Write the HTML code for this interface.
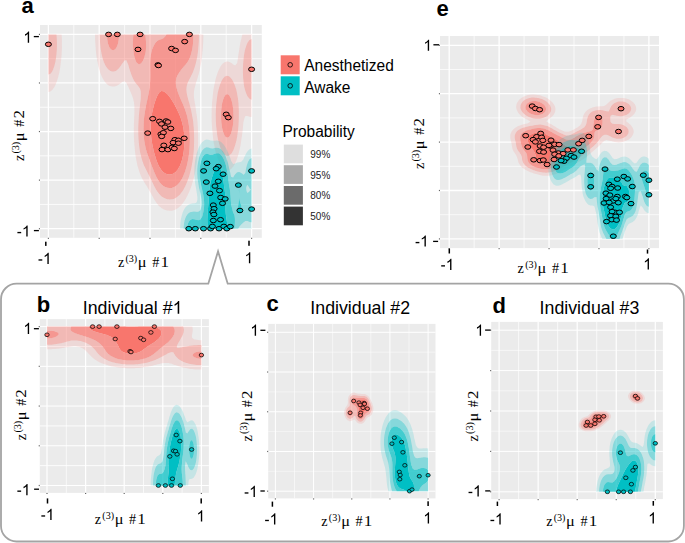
<!DOCTYPE html>
<html><head><meta charset="utf-8"><style>
html,body{margin:0;padding:0;background:#fff;overflow:hidden;}
svg{display:block;}
</style></head><body>
<svg width="685" height="543" viewBox="0 0 685 543">
<rect x="40" y="25" width="221.80" height="212.80" fill="#EBEBEB"/><line x1="48.40" y1="25" x2="48.40" y2="237.8" stroke="#fff" stroke-width="1.3"/><line x1="40" y1="228.70" x2="261.8" y2="228.70" stroke="#fff" stroke-width="1.2"/><line x1="73.80" y1="25" x2="73.80" y2="237.8" stroke="#fff" stroke-width="0.7"/><line x1="40" y1="204.41" x2="261.8" y2="204.41" stroke="#fff" stroke-width="0.8"/><line x1="99.20" y1="25" x2="99.20" y2="237.8" stroke="#fff" stroke-width="1.3"/><line x1="40" y1="180.12" x2="261.8" y2="180.12" stroke="#fff" stroke-width="1.2"/><line x1="124.60" y1="25" x2="124.60" y2="237.8" stroke="#fff" stroke-width="0.7"/><line x1="40" y1="155.84" x2="261.8" y2="155.84" stroke="#fff" stroke-width="0.8"/><line x1="150.00" y1="25" x2="150.00" y2="237.8" stroke="#fff" stroke-width="1.3"/><line x1="40" y1="131.55" x2="261.8" y2="131.55" stroke="#fff" stroke-width="1.2"/><line x1="175.40" y1="25" x2="175.40" y2="237.8" stroke="#fff" stroke-width="0.7"/><line x1="40" y1="107.26" x2="261.8" y2="107.26" stroke="#fff" stroke-width="0.8"/><line x1="200.80" y1="25" x2="200.80" y2="237.8" stroke="#fff" stroke-width="1.3"/><line x1="40" y1="82.97" x2="261.8" y2="82.97" stroke="#fff" stroke-width="1.2"/><line x1="226.20" y1="25" x2="226.20" y2="237.8" stroke="#fff" stroke-width="0.7"/><line x1="40" y1="58.69" x2="261.8" y2="58.69" stroke="#fff" stroke-width="0.8"/><line x1="251.60" y1="25" x2="251.60" y2="237.8" stroke="#fff" stroke-width="1.3"/><line x1="40" y1="34.40" x2="261.8" y2="34.40" stroke="#fff" stroke-width="1.2"/><rect x="47.80" y="237.80" width="1.2" height="1.1" fill="#666"/><rect x="38.90" y="228.10" width="1.1" height="1.2" fill="#666"/><rect x="98.60" y="237.80" width="1.2" height="1.1" fill="#666"/><rect x="38.90" y="179.53" width="1.1" height="1.2" fill="#666"/><rect x="149.40" y="237.80" width="1.2" height="1.1" fill="#666"/><rect x="38.90" y="130.95" width="1.1" height="1.2" fill="#666"/><rect x="200.20" y="237.80" width="1.2" height="1.1" fill="#666"/><rect x="38.90" y="82.38" width="1.1" height="1.2" fill="#666"/><rect x="251.00" y="237.80" width="1.2" height="1.1" fill="#666"/><rect x="38.90" y="33.80" width="1.1" height="1.2" fill="#666"/>
<path d="M163.13,209.07 L163.34,209.21 L165.39,210.11 L167.45,210.61 L169.50,210.80 L171.55,210.72 L173.60,210.32 L175.66,209.51 L176.37,209.07 L177.71,208.31 L179.16,207.11 L179.76,206.62 L181.17,205.15 L181.81,204.44 L182.81,203.19 L183.87,201.71 L184.20,201.22 L185.44,199.26 L185.92,198.41 L186.57,197.30 L187.57,195.34 L187.97,194.43 L188.51,193.37 L189.38,191.41 L190.02,189.62 L190.10,189.45 L190.92,187.48 L191.58,185.52 L192.08,183.74 L192.14,183.56 L192.82,181.60 L193.38,179.63 L193.84,177.67 L194.13,176.19 L194.27,175.71 L194.79,173.75 L195.22,171.78 L195.58,169.82 L195.88,167.86 L196.13,165.90 L196.18,165.43 L196.47,163.93 L196.79,161.97 L197.05,160.01 L197.28,158.05 L197.47,156.08 L197.63,154.12 L197.76,152.16 L197.87,150.19 L197.96,148.23 L198.03,146.27 L198.08,144.31 L198.11,142.34 L198.13,140.38 L198.14,138.42 L198.12,136.46 L198.10,134.49 L198.06,132.53 L198.00,130.57 L197.92,128.61 L197.82,126.64 L197.70,124.68 L197.55,122.72 L197.38,120.76 L197.17,118.79 L196.93,116.83 L196.64,114.87 L196.31,112.91 L196.18,112.20 L196.04,110.94 L195.78,108.98 L195.50,107.02 L195.19,105.05 L194.85,103.09 L194.52,101.13 L194.21,99.17 L194.13,98.52 L194.01,97.20 L193.91,95.24 L193.91,93.28 L194.03,91.32 L194.13,90.47 L194.31,89.35 L194.76,87.39 L195.29,85.43 L195.84,83.47 L196.18,82.28 L196.45,81.50 L197.11,79.54 L197.69,77.58 L198.19,75.62 L198.23,75.43 L198.79,73.65 L199.31,71.69 L199.75,69.73 L200.12,67.76 L200.29,66.78 L200.52,65.80 L200.94,63.84 L201.29,61.88 L201.59,59.91 L201.84,57.95 L202.05,55.99 L202.23,54.03 L202.34,52.60 L202.41,52.06 L202.63,50.10 L202.81,48.14 L202.97,46.18 L203.09,44.21 L203.18,42.25 L203.25,40.29 L203.29,38.33 L203.31,36.36 L203.32,34.40 L202.34,34.40 L200.29,34.40 L198.93,34.40 L198.93,36.36 L198.91,38.33 L198.86,40.29 L198.77,42.25 L198.65,44.21 L198.49,46.18 L198.29,48.14 L198.23,48.62 L198.10,50.10 L197.89,52.06 L197.64,54.03 L197.35,55.99 L197.00,57.95 L196.58,59.91 L196.18,61.56 L196.11,61.88 L195.66,63.84 L195.13,65.80 L194.51,67.76 L194.13,68.83 L193.82,69.73 L193.08,71.69 L192.22,73.65 L192.08,73.97 L191.30,75.62 L190.30,77.58 L190.02,78.12 L189.27,79.54 L188.29,81.50 L187.97,82.22 L187.46,83.47 L186.86,85.43 L186.50,87.39 L186.38,89.35 L186.49,91.32 L186.77,93.28 L187.16,95.24 L187.62,97.20 L187.97,98.62 L188.13,99.17 L188.72,101.13 L189.27,103.09 L189.78,105.05 L190.02,106.09 L190.29,107.02 L190.81,108.98 L191.27,110.94 L191.66,112.91 L191.99,114.87 L192.08,115.41 L192.37,116.83 L192.72,118.79 L193.02,120.76 L193.27,122.72 L193.47,124.68 L193.65,126.64 L193.79,128.61 L193.90,130.57 L193.98,132.53 L194.05,134.49 L194.09,136.46 L194.11,138.42 L194.10,140.38 L194.08,142.34 L194.04,144.31 L193.98,146.27 L193.89,148.23 L193.78,150.19 L193.64,152.16 L193.48,154.12 L193.27,156.08 L193.03,158.05 L192.74,160.01 L192.40,161.97 L192.08,163.59 L192.03,163.93 L191.71,165.90 L191.34,167.86 L190.90,169.82 L190.38,171.78 L190.02,172.96 L189.84,173.75 L189.32,175.71 L188.69,177.67 L187.97,179.57 L187.95,179.63 L187.28,181.60 L186.47,183.56 L185.92,184.72 L185.57,185.52 L184.61,187.48 L183.87,188.81 L183.50,189.45 L182.28,191.41 L181.81,192.09 L180.84,193.37 L179.76,194.67 L179.07,195.34 L177.71,196.62 L176.70,197.30 L175.66,198.02 L173.60,198.90 L171.88,199.26 L171.55,199.34 L169.50,199.44 L168.15,199.26 L167.45,199.18 L165.39,198.62 L163.34,197.61 L162.91,197.30 L161.29,196.15 L160.47,195.34 L159.24,194.07 L158.69,193.37 L157.27,191.41 L157.18,191.29 L156.01,189.45 L155.13,187.82 L154.94,187.48 L153.89,185.52 L153.08,183.74 L152.98,183.56 L151.98,181.60 L151.13,179.63 L151.03,179.38 L150.11,177.67 L149.21,175.71 L148.97,175.16 L148.18,173.75 L147.20,171.78 L146.92,171.18 L146.16,169.82 L145.21,167.86 L144.87,167.09 L144.29,165.90 L143.46,163.93 L142.82,162.12 L142.76,161.97 L142.06,160.01 L141.48,158.05 L141.00,156.08 L140.76,154.99 L140.55,154.12 L140.12,152.16 L139.75,150.19 L139.45,148.23 L139.20,146.27 L138.99,144.31 L138.82,142.34 L138.71,140.82 L138.67,140.38 L138.52,138.42 L138.40,136.46 L138.32,134.49 L138.27,132.53 L138.25,130.57 L138.27,128.61 L138.30,126.64 L138.37,124.68 L138.47,122.72 L138.59,120.76 L138.71,119.23 L138.74,118.79 L138.86,116.83 L139.01,114.87 L139.17,112.91 L139.35,110.94 L139.55,108.98 L139.77,107.02 L140.00,105.05 L140.23,103.09 L140.46,101.13 L140.67,99.17 L140.76,97.98 L140.81,97.20 L140.88,95.24 L140.87,93.28 L140.76,91.79 L140.71,91.32 L140.22,89.35 L139.27,87.39 L138.71,86.64 L137.74,85.43 L136.66,84.32 L136.03,83.47 L134.61,81.53 L134.59,81.50 L133.50,79.54 L132.55,77.58 L132.55,77.58 L131.72,75.62 L131.02,73.65 L130.50,72.01 L130.38,71.69 L129.71,69.73 L129.11,67.76 L128.60,65.80 L128.45,65.18 L127.86,63.84 L127.04,61.88 L126.40,60.25 L124.34,60.44 L123.46,61.88 L122.29,63.42 L122.06,63.84 L120.81,65.80 L120.24,66.60 L119.31,67.76 L118.19,69.05 L117.32,69.73 L116.13,70.63 L114.08,71.40 L112.03,71.43 L109.98,70.70 L108.74,69.73 L107.92,69.07 L106.90,67.76 L105.87,66.30 L105.60,65.80 L104.63,63.84 L103.82,61.88 L103.82,61.88 L103.12,59.91 L102.55,57.95 L102.06,55.99 L101.77,54.61 L101.63,54.03 L101.23,52.06 L100.90,50.10 L100.63,48.14 L100.40,46.18 L100.22,44.21 L100.07,42.25 L99.96,40.29 L99.89,38.33 L99.84,36.36 L99.83,34.40 L99.71,34.40 L97.66,34.40 L95.61,34.40 L95.06,34.40 L95.07,36.36 L95.11,38.33 L95.18,40.29 L95.27,42.25 L95.40,44.21 L95.56,46.18 L95.61,46.66 L95.70,48.14 L95.84,50.10 L96.01,52.06 L96.22,54.03 L96.46,55.99 L96.76,57.95 L97.11,59.91 L97.52,61.88 L97.66,62.46 L97.90,63.84 L98.30,65.80 L98.78,67.76 L99.36,69.73 L99.71,70.79 L99.98,71.69 L100.62,73.65 L101.42,75.62 L101.77,76.40 L102.30,77.58 L103.34,79.54 L103.82,80.35 L104.62,81.50 L105.87,83.10 L106.26,83.47 L107.92,84.96 L108.79,85.43 L109.98,86.10 L112.03,86.62 L114.08,86.61 L116.13,86.07 L117.36,85.43 L118.19,85.02 L120.24,83.51 L120.30,83.47 L122.29,81.97 L123.72,81.50 L124.34,81.30 L124.61,81.50 L126.40,82.97 L126.63,83.47 L127.60,85.43 L128.45,86.98 L128.61,87.39 L129.39,89.35 L130.30,91.32 L130.50,91.74 L131.12,93.28 L131.93,95.24 L132.55,96.74 L132.71,97.20 L133.28,99.17 L133.74,101.13 L134.07,103.09 L134.29,105.05 L134.42,107.02 L134.46,108.98 L134.44,110.94 L134.39,112.91 L134.31,114.87 L134.23,116.83 L134.14,118.79 L134.05,120.76 L133.98,122.72 L133.92,124.68 L133.88,126.64 L133.85,128.61 L133.84,130.57 L133.85,132.53 L133.88,134.49 L133.93,136.46 L134.00,138.42 L134.10,140.38 L134.23,142.34 L134.39,144.31 L134.59,146.27 L134.61,146.41 L134.73,148.23 L134.90,150.19 L135.09,152.16 L135.33,154.12 L135.61,156.08 L135.94,158.05 L136.33,160.01 L136.66,161.40 L136.76,161.97 L137.13,163.93 L137.57,165.90 L138.11,167.86 L138.71,169.67 L138.75,169.82 L139.33,171.78 L140.05,173.75 L140.76,175.39 L140.89,175.71 L141.75,177.67 L142.81,179.63 L142.82,179.64 L143.88,181.60 L144.87,183.13 L145.12,183.56 L146.34,185.52 L146.92,186.36 L147.54,187.48 L148.77,189.45 L148.97,189.76 L149.79,191.41 L150.95,193.37 L151.03,193.49 L151.92,195.34 L153.08,197.30 L153.08,197.30 L154.12,199.26 L155.13,200.84 L155.37,201.22 L156.71,203.19 L157.18,203.82 L158.30,205.15 L159.24,206.19 L160.30,207.11 L161.29,207.97 L163.13,209.07ZM225.25,169.82 L226.97,170.44 L229.02,170.17 L229.59,169.82 L231.07,168.94 L232.07,167.86 L233.13,166.63 L233.60,165.90 L234.75,163.93 L235.18,163.09 L235.72,161.97 L236.55,160.01 L237.21,158.05 L237.23,157.98 L237.92,156.08 L238.50,154.12 L238.98,152.16 L239.28,150.70 L239.43,150.19 L239.92,148.23 L240.34,146.27 L240.69,144.31 L240.98,142.34 L241.23,140.38 L241.34,139.42 L241.52,138.42 L241.84,136.46 L242.12,134.49 L242.36,132.53 L242.58,130.57 L242.79,128.61 L242.97,126.64 L243.15,124.68 L243.34,122.72 L243.39,122.15 L243.72,120.76 L244.28,118.79 L245.04,116.83 L245.44,116.04 L247.49,116.12 L249.49,116.83 L249.55,116.85 L251.60,117.11 L251.60,116.83 L251.60,114.87 L251.60,112.91 L251.60,110.94 L251.60,108.98 L251.60,107.02 L251.60,105.05 L251.60,103.09 L251.60,101.13 L251.60,99.66 L250.34,99.17 L249.55,98.86 L248.18,97.20 L247.49,96.25 L246.98,95.24 L246.13,93.28 L245.45,91.32 L245.44,91.28 L244.86,89.35 L244.39,87.39 L244.03,85.43 L243.74,83.47 L243.51,81.50 L243.39,80.16 L243.32,79.54 L243.15,77.58 L243.03,75.62 L242.95,73.65 L242.92,71.69 L242.92,69.73 L242.95,67.76 L243.03,65.80 L243.14,63.84 L243.29,61.88 L243.39,60.84 L243.47,59.91 L243.67,57.95 L243.91,55.99 L244.21,54.03 L244.57,52.06 L245.00,50.10 L245.44,48.37 L245.51,48.14 L246.12,46.18 L246.86,44.21 L247.49,42.75 L247.82,42.25 L249.23,40.29 L249.55,39.88 L251.60,38.98 L251.60,38.33 L251.60,36.36 L251.60,34.40 L249.55,34.40 L247.49,34.40 L245.44,34.40 L243.39,34.40 L242.42,34.40 L241.87,36.36 L241.41,38.33 L241.34,38.66 L240.90,40.29 L240.45,42.25 L240.07,44.21 L239.75,46.18 L239.47,48.14 L239.28,49.66 L239.20,50.10 L238.85,52.06 L238.53,54.03 L238.24,55.99 L237.95,57.95 L237.67,59.91 L237.37,61.88 L237.23,62.74 L236.65,63.84 L235.18,65.60 L233.13,64.45 L232.38,63.84 L231.07,62.85 L229.23,61.88 L229.02,61.76 L226.97,61.40 L225.30,61.88 L224.92,61.98 L222.86,63.49 L222.58,63.84 L221.04,65.80 L220.81,66.12 L219.85,67.76 L218.90,69.73 L218.76,70.04 L218.03,71.69 L217.30,73.65 L216.72,75.62 L216.71,75.65 L216.06,77.58 L215.52,79.54 L215.08,81.50 L214.71,83.47 L214.65,83.81 L214.27,85.43 L213.87,87.39 L213.53,89.35 L213.25,91.32 L213.02,93.28 L212.82,95.24 L212.65,97.20 L212.60,97.91 L212.45,99.17 L212.24,101.13 L212.07,103.09 L211.93,105.05 L211.82,107.02 L211.74,108.98 L211.68,110.94 L211.64,112.91 L211.63,114.87 L211.63,116.83 L211.66,118.79 L211.71,120.76 L211.78,122.72 L211.88,124.68 L212.00,126.64 L212.15,128.61 L212.34,130.57 L212.57,132.53 L212.60,132.78 L212.73,134.49 L212.91,136.46 L213.13,138.42 L213.38,140.38 L213.68,142.34 L214.04,144.31 L214.47,146.27 L214.65,147.03 L214.86,148.23 L215.25,150.19 L215.72,152.16 L216.29,154.12 L216.71,155.37 L216.90,156.08 L217.51,158.05 L218.26,160.01 L218.76,161.15 L219.11,161.97 L220.07,163.93 L220.81,165.24 L221.26,165.90 L222.74,167.86 L222.86,168.01 L224.92,169.71 L225.25,169.82ZM224.92,155.12 L224.00,154.12 L222.86,152.78 L222.50,152.16 L221.47,150.19 L220.81,148.75 L220.60,148.23 L219.88,146.27 L219.28,144.31 L218.77,142.34 L218.76,142.29 L218.27,140.38 L217.84,138.42 L217.47,136.46 L217.17,134.49 L216.92,132.53 L216.71,130.60 L216.70,130.57 L216.46,128.61 L216.25,126.64 L216.09,124.68 L215.97,122.72 L215.87,120.76 L215.81,118.79 L215.78,116.83 L215.77,114.87 L215.79,112.91 L215.84,110.94 L215.93,108.98 L216.04,107.02 L216.19,105.05 L216.38,103.09 L216.61,101.13 L216.71,100.41 L216.84,99.17 L217.08,97.20 L217.37,95.24 L217.72,93.28 L218.13,91.32 L218.63,89.35 L218.76,88.88 L219.14,87.39 L219.74,85.43 L220.45,83.47 L220.81,82.59 L221.32,81.50 L222.38,79.54 L222.86,78.74 L223.93,77.58 L224.92,76.57 L226.97,75.83 L229.02,76.35 L230.42,77.58 L231.07,78.18 L232.02,79.54 L233.13,81.44 L233.16,81.50 L234.11,83.47 L234.86,85.43 L235.18,86.42 L235.55,87.39 L236.16,89.35 L236.64,91.32 L237.02,93.28 L237.23,94.60 L237.38,95.24 L237.76,97.20 L238.05,99.17 L238.27,101.13 L238.45,103.09 L238.58,105.05 L238.68,107.02 L238.76,108.98 L238.81,110.94 L238.84,112.91 L238.84,114.87 L238.83,116.83 L238.79,118.79 L238.73,120.76 L238.64,122.72 L238.53,124.68 L238.39,126.64 L238.21,128.61 L238.00,130.57 L237.75,132.53 L237.45,134.49 L237.23,135.69 L237.12,136.46 L236.80,138.42 L236.42,140.38 L235.96,142.34 L235.42,144.31 L235.18,145.07 L234.81,146.27 L234.12,148.23 L233.29,150.19 L233.13,150.55 L232.22,152.16 L231.07,153.89 L230.82,154.12 L229.02,155.65 L226.97,156.02 L224.92,155.12ZM48.40,91.32 L48.40,91.99 L50.45,91.40 L50.56,91.32 L52.51,89.68 L52.74,89.35 L54.10,87.39 L54.56,86.64 L55.17,85.43 L56.04,83.47 L56.61,81.94 L56.78,81.50 L57.47,79.54 L58.04,77.58 L58.51,75.62 L58.66,74.88 L58.99,73.65 L59.44,71.69 L59.82,69.73 L60.13,67.76 L60.40,65.80 L60.62,63.84 L60.72,62.90 L60.86,61.88 L61.11,59.91 L61.32,57.95 L61.49,55.99 L61.63,54.03 L61.73,52.06 L61.81,50.10 L61.87,48.14 L61.90,46.18 L61.91,44.21 L61.90,42.25 L61.87,40.29 L61.81,38.33 L61.72,36.36 L61.61,34.40 L60.72,34.40 L58.66,34.40 L56.61,34.40 L56.45,34.40 L56.61,36.36 L56.61,36.36 L56.75,38.33 L56.86,40.29 L56.92,42.25 L56.94,44.21 L56.92,46.18 L56.86,48.14 L56.77,50.10 L56.62,52.06 L56.61,52.22 L56.46,54.03 L56.26,55.99 L56.02,57.95 L55.71,59.91 L55.35,61.88 L54.91,63.84 L54.56,65.21 L54.39,65.80 L53.75,67.76 L53.00,69.73 L52.51,70.85 L51.96,71.69 L50.50,73.65 L50.45,73.72 L48.40,74.62 L48.40,75.62 L48.40,77.58 L48.40,79.54 L48.40,81.50 L48.40,83.47 L48.40,85.43 L48.40,87.39 L48.40,89.35 L48.40,91.32Z" fill="#F8766D" fill-opacity="0.162" fill-rule="evenodd"/><path d="M168.15,199.26 L169.50,199.44 L171.55,199.34 L171.88,199.26 L173.60,198.90 L175.66,198.02 L176.70,197.30 L177.71,196.62 L179.07,195.34 L179.76,194.67 L180.84,193.37 L181.81,192.09 L182.28,191.41 L183.50,189.45 L183.87,188.81 L184.61,187.48 L185.57,185.52 L185.92,184.72 L186.47,183.56 L187.28,181.60 L187.95,179.63 L187.97,179.57 L188.69,177.67 L189.32,175.71 L189.84,173.75 L190.02,172.96 L190.38,171.78 L190.90,169.82 L191.34,167.86 L191.71,165.90 L192.03,163.93 L192.08,163.59 L192.40,161.97 L192.74,160.01 L193.03,158.05 L193.27,156.08 L193.48,154.12 L193.64,152.16 L193.78,150.19 L193.89,148.23 L193.98,146.27 L194.04,144.31 L194.08,142.34 L194.10,140.38 L194.11,138.42 L194.09,136.46 L194.05,134.49 L193.98,132.53 L193.90,130.57 L193.79,128.61 L193.65,126.64 L193.47,124.68 L193.27,122.72 L193.02,120.76 L192.72,118.79 L192.37,116.83 L192.08,115.41 L191.99,114.87 L191.66,112.91 L191.27,110.94 L190.81,108.98 L190.29,107.02 L190.02,106.09 L189.78,105.05 L189.27,103.09 L188.72,101.13 L188.13,99.17 L187.97,98.62 L187.62,97.20 L187.16,95.24 L186.77,93.28 L186.49,91.32 L186.38,89.35 L186.50,87.39 L186.86,85.43 L187.46,83.47 L187.97,82.22 L188.29,81.50 L189.27,79.54 L190.02,78.12 L190.30,77.58 L191.30,75.62 L192.08,73.97 L192.22,73.65 L193.08,71.69 L193.82,69.73 L194.13,68.83 L194.51,67.76 L195.13,65.80 L195.66,63.84 L196.11,61.88 L196.18,61.56 L196.58,59.91 L197.00,57.95 L197.35,55.99 L197.64,54.03 L197.89,52.06 L198.10,50.10 L198.23,48.62 L198.29,48.14 L198.49,46.18 L198.65,44.21 L198.77,42.25 L198.86,40.29 L198.91,38.33 L198.93,36.36 L198.93,34.40 L198.23,34.40 L196.18,34.40 L194.13,34.40 L193.24,34.40 L193.29,36.36 L193.28,38.33 L193.21,40.29 L193.10,42.25 L192.93,44.21 L192.70,46.18 L192.41,48.14 L192.08,49.98 L192.05,50.10 L191.60,52.06 L191.07,54.03 L190.45,55.99 L190.02,57.19 L189.69,57.95 L188.74,59.91 L187.97,61.36 L187.62,61.88 L186.21,63.84 L185.92,64.23 L184.55,65.80 L183.87,66.58 L182.84,67.76 L181.81,68.97 L181.22,69.73 L179.77,71.69 L179.76,71.71 L178.51,73.65 L177.71,75.10 L177.43,75.62 L176.60,77.58 L176.08,79.54 L175.85,81.50 L175.86,83.47 L176.08,85.43 L176.46,87.39 L176.96,89.35 L177.55,91.32 L177.71,91.78 L178.26,93.28 L179.03,95.24 L179.76,97.09 L179.81,97.20 L180.71,99.17 L181.56,101.13 L181.81,101.73 L182.44,103.09 L183.28,105.05 L183.87,106.55 L184.06,107.02 L184.84,108.98 L185.52,110.94 L185.92,112.26 L186.14,112.91 L186.74,114.87 L187.25,116.83 L187.68,118.79 L187.97,120.31 L188.07,120.76 L188.47,122.72 L188.79,124.68 L189.07,126.64 L189.29,128.61 L189.47,130.57 L189.61,132.53 L189.71,134.49 L189.78,136.46 L189.82,138.42 L189.83,140.38 L189.81,142.34 L189.76,144.31 L189.68,146.27 L189.56,148.23 L189.41,150.19 L189.23,152.16 L189.00,154.12 L188.73,156.08 L188.40,158.05 L188.01,160.01 L187.97,160.18 L187.65,161.97 L187.24,163.93 L186.76,165.90 L186.19,167.86 L185.92,168.70 L185.60,169.82 L184.96,171.78 L184.21,173.75 L183.87,174.54 L183.39,175.71 L182.46,177.67 L181.81,178.89 L181.39,179.63 L180.15,181.60 L179.76,182.16 L178.61,183.56 L177.71,184.58 L176.57,185.52 L175.66,186.27 L173.60,187.32 L172.95,187.48 L171.55,187.88 L169.50,187.99 L167.45,187.71 L166.80,187.48 L165.39,187.04 L163.34,185.88 L162.91,185.52 L161.29,184.15 L160.78,183.56 L159.24,181.65 L159.20,181.60 L157.93,179.63 L157.18,178.33 L156.83,177.67 L155.84,175.71 L155.13,174.08 L154.97,173.75 L154.09,171.78 L153.34,169.82 L153.08,169.09 L152.54,167.86 L151.78,165.90 L151.11,163.93 L151.03,163.68 L150.31,161.97 L149.58,160.01 L148.97,158.16 L148.93,158.05 L148.15,156.08 L147.48,154.12 L146.92,152.21 L146.90,152.16 L146.27,150.19 L145.74,148.23 L145.29,146.27 L144.91,144.31 L144.87,144.05 L144.55,142.34 L144.24,140.38 L144.00,138.42 L143.81,136.46 L143.67,134.49 L143.57,132.53 L143.52,130.57 L143.50,128.61 L143.53,126.64 L143.59,124.68 L143.69,122.72 L143.82,120.76 L144.00,118.79 L144.21,116.83 L144.47,114.87 L144.77,112.91 L144.87,112.32 L145.07,110.94 L145.39,108.98 L145.75,107.02 L146.14,105.05 L146.58,103.09 L146.92,101.63 L147.02,101.13 L147.42,99.17 L147.83,97.20 L148.25,95.24 L148.66,93.28 L148.97,91.72 L149.04,91.32 L149.33,89.35 L149.59,87.39 L149.81,85.43 L149.98,83.47 L150.10,81.50 L150.19,79.54 L150.24,77.58 L150.26,75.62 L150.25,73.65 L150.23,71.69 L150.21,69.73 L150.18,67.76 L150.16,65.80 L150.16,63.84 L150.19,61.88 L150.26,59.91 L150.40,57.95 L150.65,55.99 L151.03,54.23 L151.05,54.03 L151.41,52.06 L151.91,50.10 L152.61,48.14 L153.08,47.15 L153.50,46.18 L154.54,44.21 L155.13,43.30 L156.01,42.25 L157.18,41.01 L158.41,40.29 L159.24,39.81 L161.29,39.19 L163.34,38.34 L163.36,38.33 L165.34,36.36 L165.39,36.31 L166.54,34.40 L165.39,34.40 L163.34,34.40 L161.29,34.40 L159.24,34.40 L157.18,34.40 L155.13,34.40 L153.08,34.40 L151.03,34.40 L148.97,34.40 L146.92,34.40 L145.27,34.40 L145.52,36.36 L145.72,38.33 L145.88,40.29 L146.00,42.25 L146.06,44.21 L146.08,46.18 L146.02,48.14 L145.89,50.10 L145.65,52.06 L145.26,54.03 L144.87,55.32 L144.71,55.99 L144.12,57.95 L143.32,59.91 L142.82,60.89 L142.17,61.88 L140.76,63.66 L140.24,63.84 L138.71,64.32 L138.09,63.84 L136.66,62.65 L136.27,61.88 L135.42,59.91 L134.70,57.95 L134.61,57.64 L134.22,55.99 L133.84,54.03 L133.54,52.06 L133.30,50.10 L133.13,48.14 L133.01,46.18 L132.94,44.21 L132.94,42.25 L132.98,40.29 L133.08,38.33 L133.23,36.36 L133.44,34.40 L132.55,34.40 L130.50,34.40 L128.45,34.40 L126.40,34.40 L124.34,34.40 L122.29,34.40 L120.24,34.40 L119.04,34.40 L119.00,36.36 L118.87,38.33 L118.64,40.29 L118.31,42.25 L118.19,42.81 L117.77,44.21 L117.04,46.18 L116.13,48.12 L116.12,48.14 L114.08,50.10 L114.08,50.10 L112.03,50.17 L111.94,50.10 L109.98,48.35 L109.86,48.14 L108.95,46.18 L108.21,44.21 L107.92,43.27 L107.71,42.25 L107.39,40.29 L107.16,38.33 L107.03,36.36 L106.99,34.40 L105.87,34.40 L103.82,34.40 L101.77,34.40 L99.83,34.40 L99.84,36.36 L99.89,38.33 L99.96,40.29 L100.07,42.25 L100.22,44.21 L100.40,46.18 L100.63,48.14 L100.90,50.10 L101.23,52.06 L101.63,54.03 L101.77,54.61 L102.06,55.99 L102.55,57.95 L103.12,59.91 L103.82,61.88 L103.82,61.88 L104.63,63.84 L105.60,65.80 L105.87,66.30 L106.90,67.76 L107.92,69.07 L108.74,69.73 L109.98,70.70 L112.03,71.43 L114.08,71.40 L116.13,70.63 L117.32,69.73 L118.19,69.05 L119.31,67.76 L120.24,66.60 L120.81,65.80 L122.06,63.84 L122.29,63.42 L123.46,61.88 L124.34,60.44 L126.40,60.25 L127.04,61.88 L127.86,63.84 L128.45,65.18 L128.60,65.80 L129.11,67.76 L129.71,69.73 L130.38,71.69 L130.50,72.01 L131.02,73.65 L131.72,75.62 L132.55,77.58 L132.55,77.58 L133.50,79.54 L134.59,81.50 L134.61,81.53 L136.03,83.47 L136.66,84.32 L137.74,85.43 L138.71,86.64 L139.27,87.39 L140.22,89.35 L140.71,91.32 L140.76,91.79 L140.87,93.28 L140.88,95.24 L140.81,97.20 L140.76,97.98 L140.67,99.17 L140.46,101.13 L140.23,103.09 L140.00,105.05 L139.77,107.02 L139.55,108.98 L139.35,110.94 L139.17,112.91 L139.01,114.87 L138.86,116.83 L138.74,118.79 L138.71,119.23 L138.59,120.76 L138.47,122.72 L138.37,124.68 L138.30,126.64 L138.27,128.61 L138.25,130.57 L138.27,132.53 L138.32,134.49 L138.40,136.46 L138.52,138.42 L138.67,140.38 L138.71,140.82 L138.82,142.34 L138.99,144.31 L139.20,146.27 L139.45,148.23 L139.75,150.19 L140.12,152.16 L140.55,154.12 L140.76,154.99 L141.00,156.08 L141.48,158.05 L142.06,160.01 L142.76,161.97 L142.82,162.12 L143.46,163.93 L144.29,165.90 L144.87,167.09 L145.21,167.86 L146.16,169.82 L146.92,171.18 L147.20,171.78 L148.18,173.75 L148.97,175.16 L149.21,175.71 L150.11,177.67 L151.03,179.38 L151.13,179.63 L151.98,181.60 L152.98,183.56 L153.08,183.74 L153.89,185.52 L154.94,187.48 L155.13,187.82 L156.01,189.45 L157.18,191.29 L157.27,191.41 L158.69,193.37 L159.24,194.07 L160.47,195.34 L161.29,196.15 L162.91,197.30 L163.34,197.61 L165.39,198.62 L167.45,199.18 L168.15,199.26ZM224.00,154.12 L224.92,155.12 L226.97,156.02 L229.02,155.65 L230.82,154.12 L231.07,153.89 L232.22,152.16 L233.13,150.55 L233.29,150.19 L234.12,148.23 L234.81,146.27 L235.18,145.07 L235.42,144.31 L235.96,142.34 L236.42,140.38 L236.80,138.42 L237.12,136.46 L237.23,135.69 L237.45,134.49 L237.75,132.53 L238.00,130.57 L238.21,128.61 L238.39,126.64 L238.53,124.68 L238.64,122.72 L238.73,120.76 L238.79,118.79 L238.83,116.83 L238.84,114.87 L238.84,112.91 L238.81,110.94 L238.76,108.98 L238.68,107.02 L238.58,105.05 L238.45,103.09 L238.27,101.13 L238.05,99.17 L237.76,97.20 L237.38,95.24 L237.23,94.60 L237.02,93.28 L236.64,91.32 L236.16,89.35 L235.55,87.39 L235.18,86.42 L234.86,85.43 L234.11,83.47 L233.16,81.50 L233.13,81.44 L232.02,79.54 L231.07,78.18 L230.42,77.58 L229.02,76.35 L226.97,75.83 L224.92,76.57 L223.93,77.58 L222.86,78.74 L222.38,79.54 L221.32,81.50 L220.81,82.59 L220.45,83.47 L219.74,85.43 L219.14,87.39 L218.76,88.88 L218.63,89.35 L218.13,91.32 L217.72,93.28 L217.37,95.24 L217.08,97.20 L216.84,99.17 L216.71,100.41 L216.61,101.13 L216.38,103.09 L216.19,105.05 L216.04,107.02 L215.93,108.98 L215.84,110.94 L215.79,112.91 L215.77,114.87 L215.78,116.83 L215.81,118.79 L215.87,120.76 L215.97,122.72 L216.09,124.68 L216.25,126.64 L216.46,128.61 L216.70,130.57 L216.71,130.60 L216.92,132.53 L217.17,134.49 L217.47,136.46 L217.84,138.42 L218.27,140.38 L218.76,142.29 L218.77,142.34 L219.28,144.31 L219.88,146.27 L220.60,148.23 L220.81,148.75 L221.47,150.19 L222.50,152.16 L222.86,152.78 L224.00,154.12ZM226.97,137.83 L225.25,136.46 L224.92,136.16 L224.11,134.49 L223.30,132.53 L222.86,131.29 L222.68,130.57 L222.24,128.61 L221.88,126.64 L221.60,124.68 L221.37,122.72 L221.21,120.76 L221.10,118.79 L221.04,116.83 L221.04,114.87 L221.09,112.91 L221.19,110.94 L221.34,108.98 L221.56,107.02 L221.84,105.05 L222.20,103.09 L222.63,101.13 L222.86,100.23 L223.25,99.17 L224.08,97.20 L224.92,95.53 L225.29,95.24 L226.97,94.04 L229.02,95.00 L229.17,95.24 L230.30,97.20 L231.07,98.79 L231.20,99.17 L231.76,101.13 L232.22,103.09 L232.60,105.05 L232.90,107.02 L233.13,108.86 L233.14,108.98 L233.31,110.94 L233.42,112.91 L233.48,114.87 L233.48,116.83 L233.44,118.79 L233.35,120.76 L233.20,122.72 L233.13,123.39 L232.98,124.68 L232.70,126.64 L232.33,128.61 L231.89,130.57 L231.35,132.53 L231.07,133.40 L230.53,134.49 L229.40,136.46 L229.02,137.04 L226.97,137.83ZM250.34,99.17 L251.60,99.66 L251.60,99.17 L251.60,97.20 L251.60,95.24 L251.60,93.28 L251.60,91.32 L251.60,89.35 L251.60,87.39 L251.60,85.43 L251.60,83.47 L251.60,81.50 L251.60,79.54 L251.60,77.58 L251.60,75.62 L251.60,73.65 L251.60,71.69 L251.60,69.73 L251.60,67.76 L251.60,65.80 L251.60,63.84 L251.60,61.88 L251.60,59.91 L251.60,57.95 L251.60,55.99 L251.60,54.03 L251.60,52.06 L251.60,50.10 L251.60,48.14 L251.60,46.18 L251.60,44.21 L251.60,42.25 L251.60,40.29 L251.60,38.98 L249.55,39.88 L249.23,40.29 L247.82,42.25 L247.49,42.75 L246.86,44.21 L246.12,46.18 L245.51,48.14 L245.44,48.37 L245.00,50.10 L244.57,52.06 L244.21,54.03 L243.91,55.99 L243.67,57.95 L243.47,59.91 L243.39,60.84 L243.29,61.88 L243.14,63.84 L243.03,65.80 L242.95,67.76 L242.92,69.73 L242.92,71.69 L242.95,73.65 L243.03,75.62 L243.15,77.58 L243.32,79.54 L243.39,80.16 L243.51,81.50 L243.74,83.47 L244.03,85.43 L244.39,87.39 L244.86,89.35 L245.44,91.28 L245.45,91.32 L246.13,93.28 L246.98,95.24 L247.49,96.25 L248.18,97.20 L249.55,98.86 L250.34,99.17ZM48.40,73.65 L48.40,74.62 L50.45,73.72 L50.50,73.65 L51.96,71.69 L52.51,70.85 L53.00,69.73 L53.75,67.76 L54.39,65.80 L54.56,65.21 L54.91,63.84 L55.35,61.88 L55.71,59.91 L56.02,57.95 L56.26,55.99 L56.46,54.03 L56.61,52.22 L56.62,52.06 L56.77,50.10 L56.86,48.14 L56.92,46.18 L56.94,44.21 L56.92,42.25 L56.86,40.29 L56.75,38.33 L56.61,36.36 L56.61,36.36 L56.45,34.40 L54.56,34.40 L52.51,34.40 L50.45,34.40 L48.40,34.40 L48.40,36.36 L48.40,38.33 L48.40,40.29 L48.40,42.25 L48.40,44.21 L48.40,46.18 L48.40,48.14 L48.40,50.10 L48.40,52.06 L48.40,54.03 L48.40,55.99 L48.40,57.95 L48.40,59.91 L48.40,61.88 L48.40,63.84 L48.40,65.80 L48.40,67.76 L48.40,69.73 L48.40,71.69 L48.40,73.65Z" fill="#F8766D" fill-opacity="0.43" fill-rule="evenodd"/><path d="M166.80,187.48 L167.45,187.71 L169.50,187.99 L171.55,187.88 L172.95,187.48 L173.60,187.32 L175.66,186.27 L176.57,185.52 L177.71,184.58 L178.61,183.56 L179.76,182.16 L180.15,181.60 L181.39,179.63 L181.81,178.89 L182.46,177.67 L183.39,175.71 L183.87,174.54 L184.21,173.75 L184.96,171.78 L185.60,169.82 L185.92,168.70 L186.19,167.86 L186.76,165.90 L187.24,163.93 L187.65,161.97 L187.97,160.18 L188.01,160.01 L188.40,158.05 L188.73,156.08 L189.00,154.12 L189.23,152.16 L189.41,150.19 L189.56,148.23 L189.68,146.27 L189.76,144.31 L189.81,142.34 L189.83,140.38 L189.82,138.42 L189.78,136.46 L189.71,134.49 L189.61,132.53 L189.47,130.57 L189.29,128.61 L189.07,126.64 L188.79,124.68 L188.47,122.72 L188.07,120.76 L187.97,120.31 L187.68,118.79 L187.25,116.83 L186.74,114.87 L186.14,112.91 L185.92,112.26 L185.52,110.94 L184.84,108.98 L184.06,107.02 L183.87,106.55 L183.28,105.05 L182.44,103.09 L181.81,101.73 L181.56,101.13 L180.71,99.17 L179.81,97.20 L179.76,97.09 L179.03,95.24 L178.26,93.28 L177.71,91.78 L177.55,91.32 L176.96,89.35 L176.46,87.39 L176.08,85.43 L175.86,83.47 L175.85,81.50 L176.08,79.54 L176.60,77.58 L177.43,75.62 L177.71,75.10 L178.51,73.65 L179.76,71.71 L179.77,71.69 L181.22,69.73 L181.81,68.97 L182.84,67.76 L183.87,66.58 L184.55,65.80 L185.92,64.23 L186.21,63.84 L187.62,61.88 L187.97,61.36 L188.74,59.91 L189.69,57.95 L190.02,57.19 L190.45,55.99 L191.07,54.03 L191.60,52.06 L192.05,50.10 L192.08,49.98 L192.41,48.14 L192.70,46.18 L192.93,44.21 L193.10,42.25 L193.21,40.29 L193.28,38.33 L193.29,36.36 L193.24,34.40 L192.08,34.40 L190.02,34.40 L187.97,34.40 L185.92,34.40 L183.87,34.40 L181.81,34.40 L179.76,34.40 L177.71,34.40 L175.66,34.40 L173.60,34.40 L171.55,34.40 L169.50,34.40 L167.45,34.40 L166.54,34.40 L165.39,36.31 L165.34,36.36 L163.36,38.33 L163.34,38.34 L161.29,39.19 L159.24,39.81 L158.41,40.29 L157.18,41.01 L156.01,42.25 L155.13,43.30 L154.54,44.21 L153.50,46.18 L153.08,47.15 L152.61,48.14 L151.91,50.10 L151.41,52.06 L151.05,54.03 L151.03,54.23 L150.65,55.99 L150.40,57.95 L150.26,59.91 L150.19,61.88 L150.16,63.84 L150.16,65.80 L150.18,67.76 L150.21,69.73 L150.23,71.69 L150.25,73.65 L150.26,75.62 L150.24,77.58 L150.19,79.54 L150.10,81.50 L149.98,83.47 L149.81,85.43 L149.59,87.39 L149.33,89.35 L149.04,91.32 L148.97,91.72 L148.66,93.28 L148.25,95.24 L147.83,97.20 L147.42,99.17 L147.02,101.13 L146.92,101.63 L146.58,103.09 L146.14,105.05 L145.75,107.02 L145.39,108.98 L145.07,110.94 L144.87,112.32 L144.77,112.91 L144.47,114.87 L144.21,116.83 L144.00,118.79 L143.82,120.76 L143.69,122.72 L143.59,124.68 L143.53,126.64 L143.50,128.61 L143.52,130.57 L143.57,132.53 L143.67,134.49 L143.81,136.46 L144.00,138.42 L144.24,140.38 L144.55,142.34 L144.87,144.05 L144.91,144.31 L145.29,146.27 L145.74,148.23 L146.27,150.19 L146.90,152.16 L146.92,152.21 L147.48,154.12 L148.15,156.08 L148.93,158.05 L148.97,158.16 L149.58,160.01 L150.31,161.97 L151.03,163.68 L151.11,163.93 L151.78,165.90 L152.54,167.86 L153.08,169.09 L153.34,169.82 L154.09,171.78 L154.97,173.75 L155.13,174.08 L155.84,175.71 L156.83,177.67 L157.18,178.33 L157.93,179.63 L159.20,181.60 L159.24,181.65 L160.78,183.56 L161.29,184.15 L162.91,185.52 L163.34,185.88 L165.39,187.04 L166.80,187.48ZM167.45,174.33 L165.91,173.75 L165.39,173.56 L163.34,172.17 L162.97,171.78 L161.29,169.96 L161.19,169.82 L159.91,167.86 L159.24,166.73 L158.82,165.90 L157.90,163.93 L157.18,162.17 L157.10,161.97 L156.36,160.01 L155.71,158.05 L155.14,156.08 L155.13,156.06 L154.54,154.12 L154.01,152.16 L153.54,150.19 L153.13,148.23 L153.08,147.96 L152.68,146.27 L152.27,144.31 L151.92,142.34 L151.62,140.38 L151.37,138.42 L151.17,136.46 L151.03,134.70 L151.00,134.49 L150.85,132.53 L150.75,130.57 L150.71,128.61 L150.71,126.64 L150.78,124.68 L150.89,122.72 L151.03,121.20 L151.06,120.76 L151.24,118.79 L151.48,116.83 L151.77,114.87 L152.11,112.91 L152.51,110.94 L152.98,108.98 L153.08,108.58 L153.45,107.02 L153.97,105.05 L154.55,103.09 L155.13,101.29 L155.19,101.13 L155.89,99.17 L156.66,97.20 L157.18,95.92 L157.56,95.24 L158.73,93.28 L159.24,92.46 L160.91,91.32 L161.29,91.07 L163.34,91.26 L163.43,91.32 L165.39,92.40 L166.33,93.28 L167.45,94.24 L168.28,95.24 L169.50,96.67 L169.87,97.20 L171.23,99.17 L171.55,99.64 L172.47,101.13 L173.60,103.08 L173.61,103.09 L174.72,105.05 L175.66,106.84 L175.75,107.02 L176.78,108.98 L177.71,110.94 L177.71,110.94 L178.65,112.91 L179.48,114.87 L179.76,115.59 L180.27,116.83 L180.98,118.79 L181.60,120.76 L181.81,121.52 L182.17,122.72 L182.67,124.68 L183.09,126.64 L183.45,128.61 L183.73,130.57 L183.87,131.70 L183.98,132.53 L184.18,134.49 L184.32,136.46 L184.41,138.42 L184.45,140.38 L184.43,142.34 L184.37,144.31 L184.25,146.27 L184.08,148.23 L183.87,150.09 L183.86,150.19 L183.60,152.16 L183.29,154.12 L182.91,156.08 L182.46,158.05 L181.93,160.01 L181.81,160.39 L181.33,161.97 L180.62,163.93 L179.79,165.90 L179.76,165.97 L178.78,167.86 L177.71,169.63 L177.56,169.82 L175.90,171.78 L175.66,172.05 L173.60,173.56 L173.12,173.75 L171.55,174.36 L169.50,174.59 L167.45,174.33ZM225.25,136.46 L226.97,137.83 L229.02,137.04 L229.40,136.46 L230.53,134.49 L231.07,133.40 L231.35,132.53 L231.89,130.57 L232.33,128.61 L232.70,126.64 L232.98,124.68 L233.13,123.39 L233.20,122.72 L233.35,120.76 L233.44,118.79 L233.48,116.83 L233.48,114.87 L233.42,112.91 L233.31,110.94 L233.14,108.98 L233.13,108.86 L232.90,107.02 L232.60,105.05 L232.22,103.09 L231.76,101.13 L231.20,99.17 L231.07,98.79 L230.30,97.20 L229.17,95.24 L229.02,95.00 L226.97,94.04 L225.29,95.24 L224.92,95.53 L224.08,97.20 L223.25,99.17 L222.86,100.23 L222.63,101.13 L222.20,103.09 L221.84,105.05 L221.56,107.02 L221.34,108.98 L221.19,110.94 L221.09,112.91 L221.04,114.87 L221.04,116.83 L221.10,118.79 L221.21,120.76 L221.37,122.72 L221.60,124.68 L221.88,126.64 L222.24,128.61 L222.68,130.57 L222.86,131.29 L223.30,132.53 L224.11,134.49 L224.92,136.16 L225.25,136.46ZM138.09,63.84 L138.71,64.32 L140.24,63.84 L140.76,63.66 L142.17,61.88 L142.82,60.89 L143.32,59.91 L144.12,57.95 L144.71,55.99 L144.87,55.32 L145.26,54.03 L145.65,52.06 L145.89,50.10 L146.02,48.14 L146.08,46.18 L146.06,44.21 L146.00,42.25 L145.88,40.29 L145.72,38.33 L145.52,36.36 L145.27,34.40 L144.87,34.40 L142.82,34.40 L140.76,34.40 L138.71,34.40 L136.66,34.40 L134.61,34.40 L133.44,34.40 L133.23,36.36 L133.08,38.33 L132.98,40.29 L132.94,42.25 L132.94,44.21 L133.01,46.18 L133.13,48.14 L133.30,50.10 L133.54,52.06 L133.84,54.03 L134.22,55.99 L134.61,57.64 L134.70,57.95 L135.42,59.91 L136.27,61.88 L136.66,62.65 L138.09,63.84ZM111.94,50.10 L112.03,50.17 L114.08,50.10 L114.08,50.10 L116.12,48.14 L116.13,48.12 L117.04,46.18 L117.77,44.21 L118.19,42.81 L118.31,42.25 L118.64,40.29 L118.87,38.33 L119.00,36.36 L119.04,34.40 L118.19,34.40 L116.13,34.40 L114.08,34.40 L112.03,34.40 L109.98,34.40 L107.92,34.40 L106.99,34.40 L107.03,36.36 L107.16,38.33 L107.39,40.29 L107.71,42.25 L107.92,43.27 L108.21,44.21 L108.95,46.18 L109.86,48.14 L109.98,48.35 L111.94,50.10Z" fill="#F8766D" fill-opacity="0.72" fill-rule="evenodd"/><path d="M165.91,173.75 L167.45,174.33 L169.50,174.59 L171.55,174.36 L173.12,173.75 L173.60,173.56 L175.66,172.05 L175.90,171.78 L177.56,169.82 L177.71,169.63 L178.78,167.86 L179.76,165.97 L179.79,165.90 L180.62,163.93 L181.33,161.97 L181.81,160.39 L181.93,160.01 L182.46,158.05 L182.91,156.08 L183.29,154.12 L183.60,152.16 L183.86,150.19 L183.87,150.09 L184.08,148.23 L184.25,146.27 L184.37,144.31 L184.43,142.34 L184.45,140.38 L184.41,138.42 L184.32,136.46 L184.18,134.49 L183.98,132.53 L183.87,131.70 L183.73,130.57 L183.45,128.61 L183.09,126.64 L182.67,124.68 L182.17,122.72 L181.81,121.52 L181.60,120.76 L180.98,118.79 L180.27,116.83 L179.76,115.59 L179.48,114.87 L178.65,112.91 L177.71,110.94 L177.71,110.94 L176.78,108.98 L175.75,107.02 L175.66,106.84 L174.72,105.05 L173.61,103.09 L173.60,103.08 L172.47,101.13 L171.55,99.64 L171.23,99.17 L169.87,97.20 L169.50,96.67 L168.28,95.24 L167.45,94.24 L166.33,93.28 L165.39,92.40 L163.43,91.32 L163.34,91.26 L161.29,91.07 L160.91,91.32 L159.24,92.46 L158.73,93.28 L157.56,95.24 L157.18,95.92 L156.66,97.20 L155.89,99.17 L155.19,101.13 L155.13,101.29 L154.55,103.09 L153.97,105.05 L153.45,107.02 L153.08,108.58 L152.98,108.98 L152.51,110.94 L152.11,112.91 L151.77,114.87 L151.48,116.83 L151.24,118.79 L151.06,120.76 L151.03,121.20 L150.89,122.72 L150.78,124.68 L150.71,126.64 L150.71,128.61 L150.75,130.57 L150.85,132.53 L151.00,134.49 L151.03,134.70 L151.17,136.46 L151.37,138.42 L151.62,140.38 L151.92,142.34 L152.27,144.31 L152.68,146.27 L153.08,147.96 L153.13,148.23 L153.54,150.19 L154.01,152.16 L154.54,154.12 L155.13,156.06 L155.14,156.08 L155.71,158.05 L156.36,160.01 L157.10,161.97 L157.18,162.17 L157.90,163.93 L158.82,165.90 L159.24,166.73 L159.91,167.86 L161.19,169.82 L161.29,169.96 L162.97,171.78 L163.34,172.17 L165.39,173.56 L165.91,173.75Z" fill="#F8766D" fill-opacity="1.0" fill-rule="evenodd"/><path d="M180.15,228.70 L181.81,228.70 L183.64,228.70 L183.70,226.74 L183.87,224.89 L183.88,224.77 L184.13,222.81 L184.51,220.85 L185.07,218.89 L185.84,216.92 L185.92,216.76 L186.99,214.96 L187.97,213.66 L188.86,213.00 L190.02,212.18 L192.08,211.63 L194.13,211.62 L196.18,211.85 L198.23,211.81 L199.42,211.04 L200.29,210.30 L200.75,209.07 L201.26,207.11 L201.56,205.15 L201.65,203.19 L201.57,201.22 L201.36,199.26 L201.08,197.30 L200.74,195.34 L200.38,193.37 L200.29,192.90 L199.88,191.41 L199.40,189.45 L198.98,187.48 L198.63,185.52 L198.33,183.56 L198.23,182.83 L198.00,181.60 L197.71,179.63 L197.49,177.67 L197.34,175.71 L197.26,173.75 L197.23,171.78 L197.26,169.82 L197.36,167.86 L197.53,165.90 L197.79,163.93 L198.15,161.97 L198.23,161.59 L198.51,160.01 L198.95,158.05 L199.54,156.08 L200.29,154.19 L200.31,154.12 L201.21,152.16 L202.34,150.29 L202.43,150.19 L204.34,148.23 L204.39,148.19 L206.44,147.37 L208.50,147.60 L210.42,148.23 L210.55,148.27 L212.60,148.46 L213.82,148.23 L214.65,148.06 L216.71,147.66 L218.76,147.92 L219.29,148.23 L220.81,149.08 L221.88,150.19 L222.86,151.32 L223.44,152.16 L224.58,154.12 L224.92,154.79 L225.57,156.08 L226.38,158.05 L226.97,159.90 L227.01,160.01 L227.71,161.97 L228.25,163.93 L228.68,165.90 L229.02,167.86 L229.02,167.86 L229.57,169.82 L230.05,171.78 L230.49,173.75 L230.89,175.71 L231.07,176.65 L233.13,177.47 L234.11,175.71 L235.18,174.31 L235.67,173.75 L237.23,172.26 L239.28,171.91 L241.34,172.98 L242.46,173.75 L243.39,174.83 L244.73,173.75 L245.44,172.49 L245.53,171.78 L245.84,169.82 L246.21,167.86 L246.67,165.90 L247.24,163.93 L247.49,163.22 L248.00,161.97 L249.02,160.01 L249.55,159.19 L251.60,158.07 L251.60,158.05 L251.60,156.08 L251.60,154.12 L251.60,152.16 L251.60,150.19 L251.60,148.53 L249.55,149.16 L248.46,150.19 L247.49,151.22 L246.87,152.16 L245.79,154.12 L245.44,154.89 L244.81,156.08 L243.93,158.05 L243.39,159.38 L242.88,160.01 L241.34,161.67 L240.18,161.97 L239.28,162.14 L237.23,162.57 L235.18,163.51 L233.13,163.93 L233.13,163.93 L233.13,163.93 L231.84,161.97 L231.07,160.79 L230.87,160.01 L230.28,158.05 L229.53,156.08 L229.02,154.98 L228.76,154.12 L228.02,152.16 L227.01,150.19 L226.97,150.13 L226.08,148.23 L224.92,146.43 L224.81,146.27 L223.38,144.31 L222.86,143.69 L221.35,142.34 L220.81,141.87 L218.76,140.88 L216.71,140.62 L214.65,140.74 L212.60,140.78 L210.55,140.41 L210.45,140.38 L208.50,139.76 L206.44,139.61 L204.39,140.32 L204.32,140.38 L202.34,141.93 L202.00,142.34 L200.56,144.31 L200.29,144.74 L199.39,146.27 L198.52,148.23 L198.23,149.03 L197.72,150.19 L197.03,152.16 L196.52,154.12 L196.18,155.86 L196.11,156.08 L195.59,158.05 L195.21,160.01 L194.92,161.97 L194.71,163.93 L194.57,165.90 L194.47,167.86 L194.42,169.82 L194.40,171.78 L194.42,173.75 L194.48,175.71 L194.58,177.67 L194.72,179.63 L194.91,181.60 L195.15,183.56 L195.47,185.52 L195.86,187.48 L196.18,188.83 L196.26,189.45 L196.54,191.41 L196.83,193.37 L197.12,195.34 L197.35,197.30 L197.39,199.26 L197.02,201.22 L196.18,202.68 L194.92,203.19 L194.13,203.37 L192.08,203.58 L190.02,203.99 L187.97,205.01 L187.81,205.15 L185.92,206.83 L185.70,207.11 L184.35,209.07 L183.87,209.97 L183.32,211.04 L182.53,213.00 L181.96,214.96 L181.81,215.62 L181.42,216.92 L180.96,218.89 L180.64,220.85 L180.41,222.81 L180.26,224.77 L180.18,226.74 L180.15,228.70ZM238.19,228.70 L239.28,228.70 L241.34,228.70 L243.39,228.70 L245.44,228.70 L247.49,228.70 L249.55,228.70 L251.60,228.70 L251.60,226.74 L251.60,224.77 L251.60,222.81 L251.60,222.31 L249.55,222.05 L247.49,221.05 L245.44,220.96 L243.39,222.52 L243.11,222.81 L241.34,224.54 L241.09,224.77 L239.28,226.66 L239.24,226.74 L238.19,228.70ZM246.69,191.41 L247.49,193.05 L249.43,191.41 L249.55,191.08 L250.91,189.45 L249.55,188.46 L249.15,187.48 L247.85,185.52 L247.49,184.96 L246.84,185.52 L246.21,187.48 L246.25,189.45 L246.69,191.41Z" fill="#00BFC4" fill-opacity="0.162" fill-rule="evenodd"/><path d="M183.64,228.70 L183.87,228.70 L185.92,228.70 L187.23,228.70 L187.33,226.74 L187.64,224.77 L187.97,223.57 L188.28,222.81 L189.47,220.85 L190.02,220.16 L192.08,219.12 L194.13,219.14 L196.18,219.74 L198.23,220.24 L200.29,219.53 L200.68,218.89 L201.92,216.92 L202.34,216.23 L202.66,214.96 L203.12,213.00 L203.50,211.04 L203.80,209.07 L204.01,207.11 L204.13,205.15 L204.14,203.19 L204.06,201.22 L203.89,199.26 L203.64,197.30 L203.33,195.34 L202.97,193.37 L202.57,191.41 L202.34,190.34 L202.11,189.45 L201.62,187.48 L201.19,185.52 L200.80,183.56 L200.46,181.60 L200.29,180.39 L200.16,179.63 L199.91,177.67 L199.74,175.71 L199.64,173.75 L199.62,171.78 L199.67,169.82 L199.81,167.86 L200.05,165.90 L200.29,164.53 L200.39,163.93 L200.83,161.97 L201.41,160.01 L202.17,158.05 L202.34,157.66 L203.37,156.08 L204.39,154.77 L205.82,154.12 L206.44,153.84 L208.05,154.12 L208.50,154.20 L210.55,154.88 L212.60,154.75 L214.01,154.12 L214.65,153.85 L216.71,153.15 L218.76,153.35 L219.91,154.12 L220.81,154.74 L221.88,156.08 L222.86,157.52 L223.16,158.05 L224.11,160.01 L224.86,161.97 L224.92,162.13 L225.55,163.93 L226.10,165.90 L226.53,167.86 L226.88,169.82 L226.97,170.44 L227.24,171.78 L227.58,173.75 L227.87,175.71 L228.13,177.67 L228.38,179.63 L228.61,181.60 L228.85,183.56 L229.02,185.09 L229.11,185.52 L229.51,187.48 L229.84,189.45 L230.12,191.41 L230.33,193.37 L230.51,195.34 L230.64,197.30 L230.76,199.26 L230.88,201.22 L231.01,203.19 L231.07,203.98 L231.30,205.15 L231.74,207.11 L232.24,209.07 L232.75,211.04 L233.13,212.52 L233.48,213.00 L234.37,214.96 L234.75,216.92 L234.91,218.89 L234.94,220.85 L234.89,222.81 L234.77,224.77 L234.60,226.74 L234.37,228.70 L235.18,228.70 L237.23,228.70 L238.19,228.70 L239.24,226.74 L239.28,226.66 L241.09,224.77 L241.34,224.54 L243.11,222.81 L243.39,222.52 L245.44,220.96 L247.49,221.05 L249.55,222.05 L251.60,222.31 L251.60,220.85 L251.60,218.89 L251.60,216.92 L251.60,214.96 L251.60,213.00 L251.60,211.04 L251.60,209.07 L251.60,207.11 L251.60,205.15 L251.60,203.19 L251.60,201.22 L251.60,199.26 L251.60,197.30 L251.60,195.34 L251.60,193.37 L251.60,191.41 L251.60,189.45 L251.60,187.48 L251.60,185.52 L251.60,183.56 L251.60,181.60 L251.60,179.63 L251.60,177.67 L251.60,175.71 L251.60,173.75 L251.60,171.78 L251.60,169.82 L251.60,167.86 L251.60,165.90 L251.60,163.93 L251.60,161.97 L251.60,160.01 L251.60,158.07 L249.55,159.19 L249.02,160.01 L248.00,161.97 L247.49,163.22 L247.24,163.93 L246.67,165.90 L246.21,167.86 L245.84,169.82 L245.53,171.78 L245.44,172.49 L244.73,173.75 L243.39,174.83 L242.46,173.75 L241.34,172.98 L239.28,171.91 L237.23,172.26 L235.67,173.75 L235.18,174.31 L234.11,175.71 L233.13,177.47 L231.07,176.65 L230.89,175.71 L230.49,173.75 L230.05,171.78 L229.57,169.82 L229.02,167.86 L229.02,167.86 L228.68,165.90 L228.25,163.93 L227.71,161.97 L227.01,160.01 L226.97,159.90 L226.38,158.05 L225.57,156.08 L224.92,154.79 L224.58,154.12 L223.44,152.16 L222.86,151.32 L221.88,150.19 L220.81,149.08 L219.29,148.23 L218.76,147.92 L216.71,147.66 L214.65,148.06 L213.82,148.23 L212.60,148.46 L210.55,148.27 L210.42,148.23 L208.50,147.60 L206.44,147.37 L204.39,148.19 L204.34,148.23 L202.43,150.19 L202.34,150.29 L201.21,152.16 L200.31,154.12 L200.29,154.19 L199.54,156.08 L198.95,158.05 L198.51,160.01 L198.23,161.59 L198.15,161.97 L197.79,163.93 L197.53,165.90 L197.36,167.86 L197.26,169.82 L197.23,171.78 L197.26,173.75 L197.34,175.71 L197.49,177.67 L197.71,179.63 L198.00,181.60 L198.23,182.83 L198.33,183.56 L198.63,185.52 L198.98,187.48 L199.40,189.45 L199.88,191.41 L200.29,192.90 L200.38,193.37 L200.74,195.34 L201.08,197.30 L201.36,199.26 L201.57,201.22 L201.65,203.19 L201.56,205.15 L201.26,207.11 L200.75,209.07 L200.29,210.30 L199.42,211.04 L198.23,211.81 L196.18,211.85 L194.13,211.62 L192.08,211.63 L190.02,212.18 L188.86,213.00 L187.97,213.66 L186.99,214.96 L185.92,216.76 L185.84,216.92 L185.07,218.89 L184.51,220.85 L184.13,222.81 L183.88,224.77 L183.87,224.89 L183.70,226.74 L183.64,228.70ZM239.28,213.03 L239.25,213.00 L238.16,211.04 L237.93,209.07 L238.00,207.11 L238.20,205.15 L238.48,203.19 L238.78,201.22 L239.05,199.26 L239.24,197.30 L239.28,195.34 L239.32,197.30 L239.50,199.26 L239.89,201.22 L240.49,203.19 L241.17,205.15 L241.34,205.90 L241.44,207.11 L241.40,209.07 L241.34,209.47 L240.69,211.04 L239.31,213.00 L239.28,213.03ZM247.49,193.05 L246.69,191.41 L246.25,189.45 L246.21,187.48 L246.84,185.52 L247.49,184.96 L247.85,185.52 L249.15,187.48 L249.55,188.46 L250.91,189.45 L249.55,191.08 L249.43,191.41 L247.49,193.05ZM239.28,195.34 L239.17,193.37 L238.98,191.41 L238.97,189.45 L239.28,188.46 L239.35,189.45 L239.37,191.41 L239.32,193.37 L239.28,195.34Z" fill="#00BFC4" fill-opacity="0.43" fill-rule="evenodd"/><path d="M187.23,228.70 L187.97,228.70 L190.02,228.70 L192.08,228.70 L194.13,228.70 L196.18,228.70 L198.23,228.70 L200.29,228.70 L202.34,228.70 L204.39,228.70 L206.44,228.70 L208.27,228.70 L207.79,226.74 L207.51,224.77 L207.38,222.81 L207.34,220.85 L207.37,218.89 L207.45,216.92 L207.55,214.96 L207.68,213.00 L207.83,211.04 L207.98,209.07 L208.14,207.11 L208.30,205.15 L208.46,203.19 L208.50,202.64 L208.61,201.22 L208.75,199.26 L208.89,197.30 L209.03,195.34 L209.17,193.37 L209.31,191.41 L209.48,189.45 L209.68,187.48 L209.95,185.52 L210.35,183.56 L210.55,182.81 L210.81,181.60 L211.30,179.63 L211.89,177.67 L212.60,175.77 L212.62,175.71 L213.19,173.75 L213.87,171.78 L214.65,169.96 L214.73,169.82 L216.00,167.86 L216.71,166.98 L218.76,166.77 L219.65,167.86 L220.81,169.50 L220.93,169.82 L221.57,171.78 L222.09,173.75 L222.53,175.71 L222.86,177.39 L222.91,177.67 L223.21,179.63 L223.49,181.60 L223.76,183.56 L224.04,185.52 L224.31,187.48 L224.59,189.45 L224.85,191.41 L224.92,191.93 L225.08,193.37 L225.27,195.34 L225.40,197.30 L225.49,199.26 L225.53,201.22 L225.53,203.19 L225.52,205.15 L225.50,207.11 L225.52,209.07 L225.57,211.04 L225.70,213.00 L225.90,214.96 L226.16,216.92 L226.47,218.89 L226.78,220.85 L226.97,222.35 L227.02,222.81 L227.10,224.77 L226.97,226.74 L226.97,226.74 L226.40,228.70 L226.97,228.70 L229.02,228.70 L231.07,228.70 L233.13,228.70 L234.37,228.70 L234.60,226.74 L234.77,224.77 L234.89,222.81 L234.94,220.85 L234.91,218.89 L234.75,216.92 L234.37,214.96 L233.48,213.00 L233.13,212.52 L232.75,211.04 L232.24,209.07 L231.74,207.11 L231.30,205.15 L231.07,203.98 L231.01,203.19 L230.88,201.22 L230.76,199.26 L230.64,197.30 L230.51,195.34 L230.33,193.37 L230.12,191.41 L229.84,189.45 L229.51,187.48 L229.11,185.52 L229.02,185.09 L228.85,183.56 L228.61,181.60 L228.38,179.63 L228.13,177.67 L227.87,175.71 L227.58,173.75 L227.24,171.78 L226.97,170.44 L226.88,169.82 L226.53,167.86 L226.10,165.90 L225.55,163.93 L224.92,162.13 L224.86,161.97 L224.11,160.01 L223.16,158.05 L222.86,157.52 L221.88,156.08 L220.81,154.74 L219.91,154.12 L218.76,153.35 L216.71,153.15 L214.65,153.85 L214.01,154.12 L212.60,154.75 L210.55,154.88 L208.50,154.20 L208.05,154.12 L206.44,153.84 L205.82,154.12 L204.39,154.77 L203.37,156.08 L202.34,157.66 L202.17,158.05 L201.41,160.01 L200.83,161.97 L200.39,163.93 L200.29,164.53 L200.05,165.90 L199.81,167.86 L199.67,169.82 L199.62,171.78 L199.64,173.75 L199.74,175.71 L199.91,177.67 L200.16,179.63 L200.29,180.39 L200.46,181.60 L200.80,183.56 L201.19,185.52 L201.62,187.48 L202.11,189.45 L202.34,190.34 L202.57,191.41 L202.97,193.37 L203.33,195.34 L203.64,197.30 L203.89,199.26 L204.06,201.22 L204.14,203.19 L204.13,205.15 L204.01,207.11 L203.80,209.07 L203.50,211.04 L203.12,213.00 L202.66,214.96 L202.34,216.23 L201.92,216.92 L200.68,218.89 L200.29,219.53 L198.23,220.24 L196.18,219.74 L194.13,219.14 L192.08,219.12 L190.02,220.16 L189.47,220.85 L188.28,222.81 L187.97,223.57 L187.64,224.77 L187.33,226.74 L187.23,228.70ZM239.25,213.00 L239.28,213.03 L239.31,213.00 L240.69,211.04 L241.34,209.47 L241.40,209.07 L241.44,207.11 L241.34,205.90 L241.17,205.15 L240.49,203.19 L239.89,201.22 L239.50,199.26 L239.32,197.30 L239.28,195.34 L239.24,197.30 L239.05,199.26 L238.78,201.22 L238.48,203.19 L238.20,205.15 L238.00,207.11 L237.93,209.07 L238.16,211.04 L239.25,213.00ZM239.17,193.37 L239.28,195.34 L239.32,193.37 L239.37,191.41 L239.35,189.45 L239.28,188.46 L238.97,189.45 L238.98,191.41 L239.17,193.37Z" fill="#00BFC4" fill-opacity="0.72" fill-rule="evenodd"/><path d="M208.27,228.70 L208.50,228.70 L210.55,228.70 L212.60,228.70 L214.65,228.70 L216.71,228.70 L218.76,228.70 L220.81,228.70 L222.86,228.70 L224.92,228.70 L226.40,228.70 L226.97,226.74 L226.97,226.74 L227.10,224.77 L227.02,222.81 L226.97,222.35 L226.78,220.85 L226.47,218.89 L226.16,216.92 L225.90,214.96 L225.70,213.00 L225.57,211.04 L225.52,209.07 L225.50,207.11 L225.52,205.15 L225.53,203.19 L225.53,201.22 L225.49,199.26 L225.40,197.30 L225.27,195.34 L225.08,193.37 L224.92,191.93 L224.85,191.41 L224.59,189.45 L224.31,187.48 L224.04,185.52 L223.76,183.56 L223.49,181.60 L223.21,179.63 L222.91,177.67 L222.86,177.39 L222.53,175.71 L222.09,173.75 L221.57,171.78 L220.93,169.82 L220.81,169.50 L219.65,167.86 L218.76,166.77 L216.71,166.98 L216.00,167.86 L214.73,169.82 L214.65,169.96 L213.87,171.78 L213.19,173.75 L212.62,175.71 L212.60,175.77 L211.89,177.67 L211.30,179.63 L210.81,181.60 L210.55,182.81 L210.35,183.56 L209.95,185.52 L209.68,187.48 L209.48,189.45 L209.31,191.41 L209.17,193.37 L209.03,195.34 L208.89,197.30 L208.75,199.26 L208.61,201.22 L208.50,202.64 L208.46,203.19 L208.30,205.15 L208.14,207.11 L207.98,209.07 L207.83,211.04 L207.68,213.00 L207.55,214.96 L207.45,216.92 L207.37,218.89 L207.34,220.85 L207.38,222.81 L207.51,224.77 L207.79,226.74 L208.27,228.70Z" fill="#00BFC4" fill-opacity="1.0" fill-rule="evenodd"/>
<ellipse cx="48.4" cy="44.3" rx="3.0" ry="2.25" fill="#F8766D" stroke="#000" stroke-width="1.0"/><ellipse cx="108.6" cy="34.4" rx="3.0" ry="2.25" fill="#F8766D" stroke="#000" stroke-width="1.0"/><ellipse cx="117.3" cy="34.4" rx="3.0" ry="2.25" fill="#F8766D" stroke="#000" stroke-width="1.0"/><ellipse cx="140.1" cy="34.4" rx="3.0" ry="2.25" fill="#F8766D" stroke="#000" stroke-width="1.0"/><ellipse cx="138.0" cy="49.4" rx="3.0" ry="2.25" fill="#F8766D" stroke="#000" stroke-width="1.0"/><ellipse cx="189.4" cy="34.4" rx="3.0" ry="2.25" fill="#F8766D" stroke="#000" stroke-width="1.0"/><ellipse cx="184.7" cy="41.6" rx="3.0" ry="2.25" fill="#F8766D" stroke="#000" stroke-width="1.0"/><ellipse cx="171.6" cy="48.5" rx="3.0" ry="2.25" fill="#F8766D" stroke="#000" stroke-width="1.0"/><ellipse cx="175.5" cy="50.4" rx="3.0" ry="2.25" fill="#F8766D" stroke="#000" stroke-width="1.0"/><ellipse cx="157.9" cy="64.9" rx="3.0" ry="2.25" fill="#F8766D" stroke="#000" stroke-width="1.0"/><ellipse cx="158.5" cy="65.5" rx="3.0" ry="2.25" fill="#F8766D" stroke="#000" stroke-width="1.0"/><ellipse cx="251.6" cy="69.3" rx="3.0" ry="2.25" fill="#F8766D" stroke="#000" stroke-width="1.0"/><ellipse cx="152.7" cy="118.7" rx="3.0" ry="2.25" fill="#F8766D" stroke="#000" stroke-width="1.0"/><ellipse cx="159.5" cy="121.4" rx="3.0" ry="2.25" fill="#F8766D" stroke="#000" stroke-width="1.0"/><ellipse cx="161.5" cy="123.9" rx="3.0" ry="2.25" fill="#F8766D" stroke="#000" stroke-width="1.0"/><ellipse cx="166.1" cy="121.0" rx="3.0" ry="2.25" fill="#F8766D" stroke="#000" stroke-width="1.0"/><ellipse cx="167.9" cy="122.0" rx="3.0" ry="2.25" fill="#F8766D" stroke="#000" stroke-width="1.0"/><ellipse cx="165.0" cy="127.2" rx="3.0" ry="2.25" fill="#F8766D" stroke="#000" stroke-width="1.0"/><ellipse cx="170.8" cy="128.4" rx="3.0" ry="2.25" fill="#F8766D" stroke="#000" stroke-width="1.0"/><ellipse cx="147.7" cy="133.1" rx="3.0" ry="2.25" fill="#F8766D" stroke="#000" stroke-width="1.0"/><ellipse cx="160.9" cy="134.2" rx="3.0" ry="2.25" fill="#F8766D" stroke="#000" stroke-width="1.0"/><ellipse cx="163.4" cy="132.7" rx="3.0" ry="2.25" fill="#F8766D" stroke="#000" stroke-width="1.0"/><ellipse cx="161.7" cy="136.4" rx="3.0" ry="2.25" fill="#F8766D" stroke="#000" stroke-width="1.0"/><ellipse cx="184.2" cy="138.3" rx="3.0" ry="2.25" fill="#F8766D" stroke="#000" stroke-width="1.0"/><ellipse cx="174.9" cy="139.7" rx="3.0" ry="2.25" fill="#F8766D" stroke="#000" stroke-width="1.0"/><ellipse cx="178.4" cy="140.3" rx="3.0" ry="2.25" fill="#F8766D" stroke="#000" stroke-width="1.0"/><ellipse cx="173.1" cy="142.6" rx="3.0" ry="2.25" fill="#F8766D" stroke="#000" stroke-width="1.0"/><ellipse cx="178.4" cy="143.2" rx="3.0" ry="2.25" fill="#F8766D" stroke="#000" stroke-width="1.0"/><ellipse cx="163.8" cy="145.3" rx="3.0" ry="2.25" fill="#F8766D" stroke="#000" stroke-width="1.0"/><ellipse cx="162.0" cy="149.6" rx="3.0" ry="2.25" fill="#F8766D" stroke="#000" stroke-width="1.0"/><ellipse cx="167.9" cy="149.6" rx="3.0" ry="2.25" fill="#F8766D" stroke="#000" stroke-width="1.0"/><ellipse cx="172.0" cy="147.3" rx="3.0" ry="2.25" fill="#F8766D" stroke="#000" stroke-width="1.0"/><ellipse cx="174.3" cy="148.5" rx="3.0" ry="2.25" fill="#F8766D" stroke="#000" stroke-width="1.0"/><ellipse cx="226.2" cy="114.3" rx="3.0" ry="2.25" fill="#F8766D" stroke="#000" stroke-width="1.0"/><ellipse cx="228.3" cy="117.6" rx="3.0" ry="2.25" fill="#F8766D" stroke="#000" stroke-width="1.0"/><ellipse cx="206.9" cy="163.3" rx="3.0" ry="2.25" fill="#00BFC4" stroke="#000" stroke-width="1.0"/><ellipse cx="203.6" cy="170.9" rx="3.0" ry="2.25" fill="#00BFC4" stroke="#000" stroke-width="1.0"/><ellipse cx="218.3" cy="166.6" rx="3.0" ry="2.25" fill="#00BFC4" stroke="#000" stroke-width="1.0"/><ellipse cx="216.2" cy="168.7" rx="3.0" ry="2.25" fill="#00BFC4" stroke="#000" stroke-width="1.0"/><ellipse cx="223.1" cy="174.2" rx="3.0" ry="2.25" fill="#00BFC4" stroke="#000" stroke-width="1.0"/><ellipse cx="206.3" cy="182.1" rx="3.0" ry="2.25" fill="#00BFC4" stroke="#000" stroke-width="1.0"/><ellipse cx="218.3" cy="181.3" rx="3.0" ry="2.25" fill="#00BFC4" stroke="#000" stroke-width="1.0"/><ellipse cx="215.0" cy="186.1" rx="3.0" ry="2.25" fill="#00BFC4" stroke="#000" stroke-width="1.0"/><ellipse cx="219.5" cy="190.6" rx="3.0" ry="2.25" fill="#00BFC4" stroke="#000" stroke-width="1.0"/><ellipse cx="209.9" cy="193.3" rx="3.0" ry="2.25" fill="#00BFC4" stroke="#000" stroke-width="1.0"/><ellipse cx="220.7" cy="197.5" rx="3.0" ry="2.25" fill="#00BFC4" stroke="#000" stroke-width="1.0"/><ellipse cx="225.2" cy="198.9" rx="3.0" ry="2.25" fill="#00BFC4" stroke="#000" stroke-width="1.0"/><ellipse cx="251.6" cy="170.9" rx="3.0" ry="2.25" fill="#00BFC4" stroke="#000" stroke-width="1.0"/><ellipse cx="238.4" cy="185.1" rx="3.0" ry="2.25" fill="#00BFC4" stroke="#000" stroke-width="1.0"/><ellipse cx="222.5" cy="203.3" rx="3.0" ry="2.25" fill="#00BFC4" stroke="#000" stroke-width="1.0"/><ellipse cx="213.3" cy="205.1" rx="3.0" ry="2.25" fill="#00BFC4" stroke="#000" stroke-width="1.0"/><ellipse cx="214.1" cy="208.7" rx="3.0" ry="2.25" fill="#00BFC4" stroke="#000" stroke-width="1.0"/><ellipse cx="212.9" cy="212.1" rx="3.0" ry="2.25" fill="#00BFC4" stroke="#000" stroke-width="1.0"/><ellipse cx="213.9" cy="214.5" rx="3.0" ry="2.25" fill="#00BFC4" stroke="#000" stroke-width="1.0"/><ellipse cx="239.9" cy="210.5" rx="3.0" ry="2.25" fill="#00BFC4" stroke="#000" stroke-width="1.0"/><ellipse cx="251.6" cy="209.1" rx="3.0" ry="2.25" fill="#00BFC4" stroke="#000" stroke-width="1.0"/><ellipse cx="213.3" cy="220.5" rx="3.0" ry="2.25" fill="#00BFC4" stroke="#000" stroke-width="1.0"/><ellipse cx="220.5" cy="219.7" rx="3.0" ry="2.25" fill="#00BFC4" stroke="#000" stroke-width="1.0"/><ellipse cx="188.8" cy="228.7" rx="3.0" ry="2.25" fill="#00BFC4" stroke="#000" stroke-width="1.0"/><ellipse cx="195.3" cy="228.7" rx="3.0" ry="2.25" fill="#00BFC4" stroke="#000" stroke-width="1.0"/><ellipse cx="203.5" cy="228.7" rx="3.0" ry="2.25" fill="#00BFC4" stroke="#000" stroke-width="1.0"/><ellipse cx="210.6" cy="228.7" rx="3.0" ry="2.25" fill="#00BFC4" stroke="#000" stroke-width="1.0"/><ellipse cx="212.4" cy="226.4" rx="3.0" ry="2.25" fill="#00BFC4" stroke="#000" stroke-width="1.0"/><ellipse cx="219.0" cy="228.7" rx="3.0" ry="2.25" fill="#00BFC4" stroke="#000" stroke-width="1.0"/><ellipse cx="223.8" cy="226.4" rx="3.0" ry="2.25" fill="#00BFC4" stroke="#000" stroke-width="1.0"/><ellipse cx="226.8" cy="228.7" rx="3.0" ry="2.25" fill="#00BFC4" stroke="#000" stroke-width="1.0"/><ellipse cx="230.3" cy="226.6" rx="3.0" ry="2.25" fill="#00BFC4" stroke="#000" stroke-width="1.0"/>
<text x="27.6" y="12.9" font-family="Liberation Sans" font-size="22" font-weight="bold" text-anchor="middle" fill="#000" >a</text><path transform="translate(23.34,42.70) scale(0.007568,-0.007568)" d="M763,0 L583,0 L583,1147 Q518,1085 412,1023 Q306,961 222,930 L222,1104 Q373,1175 486,1276 Q599,1377 646,1472 L763,1472 Z" fill="#000"/><rect x="33.8" y="35.95" width="5.10" height="1.3" fill="#000"/><path transform="translate(16.71,236.60) scale(0.007568,-0.007568)" d="M91,442 L91,622 L591,622 L591,442 Z" fill="#000"/><path transform="translate(21.87,236.60) scale(0.007568,-0.007568)" d="M763,0 L583,0 L583,1147 Q518,1085 412,1023 Q306,961 222,930 L222,1104 Q373,1175 486,1276 Q599,1377 646,1472 L763,1472 Z" fill="#000"/><rect x="33.9" y="229.95" width="5.00" height="1.3" fill="#000"/><path transform="translate(37.81,264.00) scale(0.007568,-0.007568)" d="M91,442 L91,622 L591,622 L591,442 Z" fill="#000"/><path transform="translate(42.97,264.00) scale(0.007568,-0.007568)" d="M763,0 L583,0 L583,1147 Q518,1085 412,1023 Q306,961 222,930 L222,1104 Q373,1175 486,1276 Q599,1377 646,1472 L763,1472 Z" fill="#000"/><rect x="45.05" y="241.7" width="1.5" height="4.20" fill="#000"/><path transform="translate(244.49,263.30) scale(0.007568,-0.007568)" d="M763,0 L583,0 L583,1147 Q518,1085 412,1023 Q306,961 222,930 L222,1104 Q373,1175 486,1276 Q599,1377 646,1472 L763,1472 Z" fill="#000"/><rect x="248.25" y="240.7" width="1.5" height="5.10" fill="#000"/><g transform="translate(117.80,267.00)"><text transform="translate(3.25,0) scale(1.0,1)" font-family="Liberation Serif" font-size="14.2" text-anchor="middle" fill="#000">z</text><text transform="translate(13.55,-4.9) scale(1.05,1)" font-family="Liberation Serif" font-size="9.6" text-anchor="middle" fill="#000">(3)</text><text transform="translate(24.4,0) scale(1.15,1)" font-family="Liberation Serif" font-size="14.2" text-anchor="middle" fill="#000">μ</text><text transform="translate(38.0,0) scale(1.0,1)" font-family="Liberation Serif" font-size="14.2" text-anchor="middle" fill="#000">#</text><text transform="translate(46.9,0) scale(1.2,1)" font-family="Liberation Serif" font-size="14.2" text-anchor="middle" fill="#000">1</text></g><g transform="translate(24.30,136.00) rotate(-90) translate(-25.2,0)"><text transform="translate(3.25,0) scale(1.0,1)" font-family="Liberation Serif" font-size="14.2" text-anchor="middle" fill="#000">z</text><text transform="translate(13.55,-4.9) scale(1.05,1)" font-family="Liberation Serif" font-size="9.6" text-anchor="middle" fill="#000">(3)</text><text transform="translate(24.4,0) scale(1.15,1)" font-family="Liberation Serif" font-size="14.2" text-anchor="middle" fill="#000">μ</text><text transform="translate(38.0,0) scale(1.0,1)" font-family="Liberation Serif" font-size="14.2" text-anchor="middle" fill="#000">#</text><text transform="translate(46.9,0) scale(1.2,1)" font-family="Liberation Serif" font-size="14.2" text-anchor="middle" fill="#000">2</text></g>
<rect x="440" y="36" width="219.00" height="212.10" fill="#EBEBEB"/><line x1="449.20" y1="36" x2="449.20" y2="248.1" stroke="#fff" stroke-width="1.3"/><line x1="440" y1="238.90" x2="659" y2="238.90" stroke="#fff" stroke-width="1.3"/><line x1="474.16" y1="36" x2="474.16" y2="248.1" stroke="#fff" stroke-width="0.7"/><line x1="440" y1="214.70" x2="659" y2="214.70" stroke="#fff" stroke-width="0.7"/><line x1="499.12" y1="36" x2="499.12" y2="248.1" stroke="#fff" stroke-width="1.3"/><line x1="440" y1="190.50" x2="659" y2="190.50" stroke="#fff" stroke-width="1.3"/><line x1="524.09" y1="36" x2="524.09" y2="248.1" stroke="#fff" stroke-width="0.7"/><line x1="440" y1="166.30" x2="659" y2="166.30" stroke="#fff" stroke-width="0.7"/><line x1="549.05" y1="36" x2="549.05" y2="248.1" stroke="#fff" stroke-width="1.3"/><line x1="440" y1="142.10" x2="659" y2="142.10" stroke="#fff" stroke-width="1.3"/><line x1="574.01" y1="36" x2="574.01" y2="248.1" stroke="#fff" stroke-width="0.7"/><line x1="440" y1="117.90" x2="659" y2="117.90" stroke="#fff" stroke-width="0.7"/><line x1="598.97" y1="36" x2="598.97" y2="248.1" stroke="#fff" stroke-width="1.3"/><line x1="440" y1="93.70" x2="659" y2="93.70" stroke="#fff" stroke-width="1.3"/><line x1="623.94" y1="36" x2="623.94" y2="248.1" stroke="#fff" stroke-width="0.7"/><line x1="440" y1="69.50" x2="659" y2="69.50" stroke="#fff" stroke-width="0.7"/><line x1="648.90" y1="36" x2="648.90" y2="248.1" stroke="#fff" stroke-width="1.3"/><line x1="440" y1="45.30" x2="659" y2="45.30" stroke="#fff" stroke-width="1.3"/><rect x="448.60" y="248.10" width="1.2" height="1.1" fill="#666"/><rect x="438.90" y="238.30" width="1.1" height="1.2" fill="#666"/><rect x="498.52" y="248.10" width="1.2" height="1.1" fill="#666"/><rect x="438.90" y="189.90" width="1.1" height="1.2" fill="#666"/><rect x="548.45" y="248.10" width="1.2" height="1.1" fill="#666"/><rect x="438.90" y="141.50" width="1.1" height="1.2" fill="#666"/><rect x="598.37" y="248.10" width="1.2" height="1.1" fill="#666"/><rect x="438.90" y="93.10" width="1.1" height="1.2" fill="#666"/><rect x="648.30" y="248.10" width="1.2" height="1.1" fill="#666"/><rect x="438.90" y="44.70" width="1.1" height="1.2" fill="#666"/>
<path d="M537.67,174.37 L537.96,174.47 L539.97,175.09 L541.99,175.48 L544.01,175.71 L546.02,175.80 L548.04,175.76 L550.06,175.58 L552.08,175.21 L554.09,174.56 L554.55,174.37 L556.11,173.94 L558.13,173.08 L559.28,172.41 L560.14,172.04 L562.16,170.95 L562.92,170.46 L564.18,169.86 L566.20,168.61 L566.36,168.50 L568.21,167.63 L569.88,166.54 L570.23,166.38 L572.25,165.33 L573.39,164.59 L574.26,164.17 L576.28,163.06 L576.97,162.63 L578.30,162.05 L580.32,160.88 L580.64,160.68 L582.33,159.84 L583.94,158.72 L584.35,158.47 L586.37,156.94 L586.58,156.77 L588.38,155.27 L588.90,154.81 L590.40,153.48 L591.08,152.86 L592.42,151.71 L593.32,150.90 L594.44,149.98 L595.63,148.94 L596.45,148.26 L597.89,146.99 L598.47,146.47 L600.01,145.03 L600.49,144.53 L601.94,143.08 L602.51,142.43 L603.97,141.12 L604.52,140.68 L606.54,140.10 L608.56,140.38 L610.57,140.92 L611.36,141.12 L612.59,141.56 L614.61,142.07 L616.63,142.34 L618.64,142.41 L620.66,142.30 L622.68,141.99 L624.69,141.36 L625.23,141.12 L626.71,140.62 L628.73,139.45 L629.11,139.17 L630.75,137.82 L631.36,137.21 L632.65,135.26 L632.76,134.94 L633.48,133.30 L633.71,131.34 L633.39,129.39 L632.76,128.07 L632.52,127.43 L631.08,125.48 L630.75,125.12 L628.91,123.52 L628.73,123.34 L626.71,121.74 L626.38,121.57 L626.29,119.61 L626.71,119.45 L628.73,118.37 L629.70,117.66 L630.75,117.09 L632.51,115.70 L632.76,115.47 L634.39,113.74 L634.78,113.04 L635.56,111.79 L636.11,109.83 L636.15,107.88 L635.69,105.92 L634.78,104.36 L634.58,103.97 L632.81,102.01 L632.76,101.97 L630.75,100.43 L630.00,100.06 L628.73,99.35 L626.71,98.63 L624.69,98.23 L623.36,98.10 L622.68,97.98 L620.66,97.90 L618.64,98.07 L618.52,98.10 L616.63,98.34 L614.61,98.82 L612.59,99.70 L611.98,100.06 L610.57,100.81 L609.03,102.01 L608.56,102.44 L606.93,103.97 L606.54,104.38 L604.52,105.81 L604.20,105.92 L602.51,106.24 L600.49,106.34 L598.47,106.40 L596.45,106.56 L594.44,106.89 L592.42,107.49 L591.56,107.88 L590.40,108.28 L588.38,109.39 L587.79,109.83 L586.37,110.99 L585.56,111.79 L584.35,113.58 L584.24,113.74 L583.26,115.70 L582.77,117.66 L582.48,119.61 L582.33,120.56 L582.09,121.57 L581.33,123.52 L580.32,125.13 L580.02,125.48 L578.30,126.76 L577.38,127.43 L576.28,127.98 L574.26,129.21 L573.98,129.39 L572.25,130.20 L570.23,131.34 L570.23,131.34 L568.21,131.83 L566.20,131.86 L564.18,131.45 L563.85,131.34 L562.16,130.50 L560.14,129.60 L559.67,129.39 L558.13,128.41 L556.21,127.43 L556.11,127.36 L554.09,126.01 L553.02,125.48 L552.08,124.85 L550.06,123.82 L549.23,123.52 L548.04,122.60 L546.30,121.57 L547.98,119.61 L548.04,119.58 L550.06,118.32 L550.83,117.66 L552.08,116.57 L552.92,115.70 L554.09,113.91 L554.21,113.74 L555.14,111.79 L555.46,109.83 L555.34,107.88 L554.75,105.92 L554.09,104.81 L553.69,103.97 L552.08,102.06 L552.04,102.01 L550.06,100.21 L549.86,100.06 L548.04,98.71 L546.82,98.10 L546.02,97.61 L544.01,96.67 L542.18,96.14 L541.99,96.06 L539.97,95.33 L537.96,94.90 L535.94,94.66 L533.92,94.57 L531.90,94.59 L529.89,94.76 L527.87,95.12 L525.85,95.78 L525.06,96.14 L523.84,96.57 L521.82,97.70 L521.26,98.10 L519.80,99.24 L518.95,100.06 L517.78,101.70 L517.55,102.01 L516.58,103.97 L516.21,105.92 L516.24,107.88 L516.67,109.83 L517.69,111.79 L517.78,111.91 L518.97,113.74 L519.80,114.61 L520.93,115.70 L521.82,116.45 L523.70,117.66 L523.84,117.76 L525.85,119.06 L527.27,119.61 L527.87,120.11 L529.89,121.31 L530.54,121.57 L529.89,121.97 L527.87,123.18 L527.24,123.52 L525.85,123.76 L523.84,124.17 L521.82,124.72 L519.93,125.48 L519.80,125.51 L517.78,126.22 L515.80,127.43 L515.77,127.45 L513.75,128.94 L513.26,129.39 L511.77,131.34 L511.73,131.42 L510.71,133.30 L510.28,135.26 L510.25,137.21 L510.51,139.17 L510.95,141.12 L511.43,143.08 L511.73,144.58 L511.79,145.03 L512.04,146.99 L512.50,148.94 L513.38,150.90 L513.75,151.48 L514.51,152.86 L515.77,154.57 L515.92,154.81 L516.88,156.77 L517.57,158.72 L517.78,159.47 L518.00,160.68 L518.56,162.63 L519.67,164.59 L519.80,164.75 L521.16,166.54 L521.82,167.17 L523.49,168.50 L523.84,168.76 L525.85,170.04 L526.78,170.46 L527.87,171.07 L529.89,171.93 L531.49,172.41 L531.90,172.60 L533.92,173.43 L535.94,174.01 L537.67,174.37ZM544.01,172.61 L542.73,172.41 L541.99,172.34 L539.97,172.03 L537.96,171.58 L535.94,170.95 L534.72,170.46 L533.92,170.23 L531.90,169.52 L529.91,168.50 L529.89,168.49 L527.87,167.46 L526.59,166.54 L525.85,165.94 L524.46,164.59 L523.84,163.64 L523.14,162.63 L522.41,160.68 L522.08,158.72 L521.82,156.86 L521.80,156.77 L521.00,154.81 L519.80,152.90 L519.77,152.86 L518.28,150.90 L517.78,149.97 L517.18,148.94 L516.50,146.99 L516.13,145.03 L515.85,143.08 L515.77,142.60 L515.41,141.12 L514.96,139.17 L514.71,137.21 L514.84,135.26 L515.57,133.30 L515.77,133.01 L516.94,131.34 L517.78,130.58 L519.52,129.39 L519.80,129.22 L521.82,128.22 L523.84,127.59 L524.51,127.43 L525.85,127.00 L527.87,126.48 L529.89,126.06 L531.90,125.70 L533.36,125.48 L533.92,125.33 L535.94,124.91 L537.96,124.67 L539.97,124.62 L541.99,124.77 L544.01,125.17 L544.94,125.48 L546.02,125.70 L548.04,126.36 L550.06,127.43 L550.06,127.43 L552.08,128.42 L553.55,129.39 L554.09,129.68 L556.11,130.82 L556.96,131.34 L558.13,131.89 L560.14,132.94 L560.81,133.30 L562.16,133.86 L564.18,134.73 L565.66,135.26 L566.20,135.40 L568.21,135.50 L569.45,135.26 L570.23,135.03 L572.25,134.02 L573.64,133.30 L574.26,132.92 L576.28,131.79 L577.23,131.34 L578.30,130.73 L580.32,129.74 L581.10,129.39 L582.33,128.60 L584.10,127.43 L584.35,127.16 L585.58,125.48 L586.37,123.65 L586.41,123.52 L586.81,121.57 L587.10,119.61 L587.49,117.66 L588.26,115.70 L588.38,115.50 L589.54,113.74 L590.40,112.93 L592.01,111.79 L592.42,111.54 L594.44,110.67 L596.45,110.22 L598.47,110.05 L600.49,110.10 L602.51,110.35 L604.52,110.77 L606.54,111.28 L608.56,111.43 L609.55,109.83 L610.36,107.88 L610.57,107.54 L611.38,105.92 L612.59,104.58 L613.24,103.97 L614.61,103.02 L616.63,102.14 L617.14,102.01 L618.64,101.59 L620.66,101.38 L622.68,101.48 L624.69,101.93 L624.90,102.01 L626.71,102.67 L628.71,103.97 L628.73,103.99 L630.42,105.92 L630.75,106.83 L631.14,107.88 L631.08,109.83 L630.75,110.59 L630.23,111.79 L628.73,113.41 L628.32,113.74 L626.71,114.76 L624.69,115.52 L623.78,115.70 L622.68,115.98 L620.66,116.15 L618.64,116.03 L616.85,115.70 L616.63,115.66 L614.61,115.25 L612.59,114.82 L610.66,115.70 L610.57,115.87 L610.30,117.66 L610.22,119.61 L610.44,121.57 L610.57,121.89 L612.14,123.52 L612.59,123.71 L614.61,123.91 L616.63,123.91 L618.64,123.97 L620.66,124.21 L622.68,124.75 L624.22,125.48 L624.69,125.71 L626.71,127.21 L626.95,127.43 L628.27,129.39 L628.67,131.34 L628.38,133.30 L627.23,135.26 L626.71,135.77 L624.77,137.21 L624.69,137.26 L622.68,138.17 L620.66,138.64 L618.64,138.80 L616.63,138.69 L614.61,138.31 L612.59,137.57 L611.85,137.21 L610.57,136.54 L608.56,135.39 L608.18,135.26 L606.54,134.67 L604.52,134.83 L603.60,135.26 L602.51,135.87 L601.16,137.21 L600.49,137.99 L599.76,139.17 L598.47,140.91 L598.33,141.12 L596.72,143.08 L596.45,143.34 L594.77,145.03 L594.44,145.34 L592.56,146.99 L592.42,147.11 L590.40,148.83 L590.26,148.94 L588.38,150.59 L588.02,150.90 L586.37,152.40 L585.85,152.86 L584.35,154.20 L583.61,154.81 L582.33,155.84 L580.99,156.77 L580.32,157.24 L578.30,158.45 L577.80,158.72 L576.28,159.66 L574.26,160.67 L574.24,160.68 L572.25,161.92 L570.87,162.63 L570.23,163.04 L568.21,164.19 L567.40,164.59 L566.20,165.33 L564.18,166.33 L563.70,166.54 L562.16,167.46 L560.14,168.41 L559.93,168.50 L558.13,169.54 L556.11,170.40 L555.96,170.46 L554.09,171.33 L552.08,171.95 L550.06,172.33 L549.32,172.41 L548.04,172.62 L546.02,172.72 L544.01,172.61ZM531.90,117.93 L531.18,117.66 L529.89,117.31 L527.87,116.48 L526.57,115.70 L525.85,115.29 L523.90,113.74 L523.84,113.68 L522.10,111.79 L521.82,111.28 L520.94,109.83 L520.42,107.88 L520.43,105.92 L521.01,103.97 L521.82,102.75 L522.31,102.01 L523.84,100.59 L524.60,100.06 L525.85,99.28 L527.87,98.46 L529.45,98.10 L529.89,97.97 L531.90,97.61 L533.92,97.52 L535.94,97.65 L537.96,98.02 L538.22,98.10 L539.97,98.45 L541.99,99.09 L543.88,100.06 L544.01,100.11 L546.02,101.24 L547.04,102.01 L548.04,102.90 L549.10,103.97 L550.06,105.49 L550.35,105.92 L551.09,107.88 L551.20,109.83 L550.71,111.79 L550.06,112.85 L549.54,113.74 L548.04,115.23 L547.45,115.70 L546.02,116.67 L544.01,117.52 L543.53,117.66 L541.99,118.23 L539.97,118.64 L537.96,118.79 L535.94,118.73 L533.92,118.46 L531.90,117.93Z" fill="#F8766D" fill-opacity="0.162" fill-rule="evenodd"/><path d="M542.73,172.41 L544.01,172.61 L546.02,172.72 L548.04,172.62 L549.32,172.41 L550.06,172.33 L552.08,171.95 L554.09,171.33 L555.96,170.46 L556.11,170.40 L558.13,169.54 L559.93,168.50 L560.14,168.41 L562.16,167.46 L563.70,166.54 L564.18,166.33 L566.20,165.33 L567.40,164.59 L568.21,164.19 L570.23,163.04 L570.87,162.63 L572.25,161.92 L574.24,160.68 L574.26,160.67 L576.28,159.66 L577.80,158.72 L578.30,158.45 L580.32,157.24 L580.99,156.77 L582.33,155.84 L583.61,154.81 L584.35,154.20 L585.85,152.86 L586.37,152.40 L588.02,150.90 L588.38,150.59 L590.26,148.94 L590.40,148.83 L592.42,147.11 L592.56,146.99 L594.44,145.34 L594.77,145.03 L596.45,143.34 L596.72,143.08 L598.33,141.12 L598.47,140.91 L599.76,139.17 L600.49,137.99 L601.16,137.21 L602.51,135.87 L603.60,135.26 L604.52,134.83 L606.54,134.67 L608.18,135.26 L608.56,135.39 L610.57,136.54 L611.85,137.21 L612.59,137.57 L614.61,138.31 L616.63,138.69 L618.64,138.80 L620.66,138.64 L622.68,138.17 L624.69,137.26 L624.77,137.21 L626.71,135.77 L627.23,135.26 L628.38,133.30 L628.67,131.34 L628.27,129.39 L626.95,127.43 L626.71,127.21 L624.69,125.71 L624.22,125.48 L622.68,124.75 L620.66,124.21 L618.64,123.97 L616.63,123.91 L614.61,123.91 L612.59,123.71 L612.14,123.52 L610.57,121.89 L610.44,121.57 L610.22,119.61 L610.30,117.66 L610.57,115.87 L610.66,115.70 L612.59,114.82 L614.61,115.25 L616.63,115.66 L616.85,115.70 L618.64,116.03 L620.66,116.15 L622.68,115.98 L623.78,115.70 L624.69,115.52 L626.71,114.76 L628.32,113.74 L628.73,113.41 L630.23,111.79 L630.75,110.59 L631.08,109.83 L631.14,107.88 L630.75,106.83 L630.42,105.92 L628.73,103.99 L628.71,103.97 L626.71,102.67 L624.90,102.01 L624.69,101.93 L622.68,101.48 L620.66,101.38 L618.64,101.59 L617.14,102.01 L616.63,102.14 L614.61,103.02 L613.24,103.97 L612.59,104.58 L611.38,105.92 L610.57,107.54 L610.36,107.88 L609.55,109.83 L608.56,111.43 L606.54,111.28 L604.52,110.77 L602.51,110.35 L600.49,110.10 L598.47,110.05 L596.45,110.22 L594.44,110.67 L592.42,111.54 L592.01,111.79 L590.40,112.93 L589.54,113.74 L588.38,115.50 L588.26,115.70 L587.49,117.66 L587.10,119.61 L586.81,121.57 L586.41,123.52 L586.37,123.65 L585.58,125.48 L584.35,127.16 L584.10,127.43 L582.33,128.60 L581.10,129.39 L580.32,129.74 L578.30,130.73 L577.23,131.34 L576.28,131.79 L574.26,132.92 L573.64,133.30 L572.25,134.02 L570.23,135.03 L569.45,135.26 L568.21,135.50 L566.20,135.40 L565.66,135.26 L564.18,134.73 L562.16,133.86 L560.81,133.30 L560.14,132.94 L558.13,131.89 L556.96,131.34 L556.11,130.82 L554.09,129.68 L553.55,129.39 L552.08,128.42 L550.06,127.43 L550.06,127.43 L548.04,126.36 L546.02,125.70 L544.94,125.48 L544.01,125.17 L541.99,124.77 L539.97,124.62 L537.96,124.67 L535.94,124.91 L533.92,125.33 L533.36,125.48 L531.90,125.70 L529.89,126.06 L527.87,126.48 L525.85,127.00 L524.51,127.43 L523.84,127.59 L521.82,128.22 L519.80,129.22 L519.52,129.39 L517.78,130.58 L516.94,131.34 L515.77,133.01 L515.57,133.30 L514.84,135.26 L514.71,137.21 L514.96,139.17 L515.41,141.12 L515.77,142.60 L515.85,143.08 L516.13,145.03 L516.50,146.99 L517.18,148.94 L517.78,149.97 L518.28,150.90 L519.77,152.86 L519.80,152.90 L521.00,154.81 L521.80,156.77 L521.82,156.86 L522.08,158.72 L522.41,160.68 L523.14,162.63 L523.84,163.64 L524.46,164.59 L525.85,165.94 L526.59,166.54 L527.87,167.46 L529.89,168.49 L529.91,168.50 L531.90,169.52 L533.92,170.23 L534.72,170.46 L535.94,170.95 L537.96,171.58 L539.97,172.03 L541.99,172.34 L542.73,172.41ZM539.97,168.57 L539.75,168.50 L537.96,168.07 L535.94,167.41 L533.99,166.54 L533.92,166.51 L531.90,165.47 L530.63,164.59 L529.89,163.91 L528.68,162.63 L527.87,161.00 L527.71,160.68 L527.31,158.72 L527.23,156.77 L526.98,154.81 L526.14,152.86 L525.85,152.47 L524.60,150.90 L523.84,149.93 L523.07,148.94 L522.03,146.99 L521.82,146.35 L521.36,145.03 L520.90,143.08 L520.50,141.12 L520.17,139.17 L520.09,137.21 L520.51,135.26 L521.82,133.37 L521.87,133.30 L523.84,131.84 L524.78,131.34 L525.85,130.85 L527.87,130.12 L529.89,129.56 L530.60,129.39 L531.90,129.01 L533.92,128.53 L535.94,128.19 L537.96,127.99 L539.97,127.97 L541.99,128.13 L544.01,128.54 L546.02,129.26 L546.30,129.39 L548.04,130.10 L550.06,131.26 L550.19,131.34 L552.08,132.36 L553.62,133.30 L554.09,133.54 L556.11,134.53 L557.44,135.26 L558.13,135.57 L560.14,136.55 L561.34,137.21 L562.16,137.62 L564.18,138.62 L565.49,139.17 L566.20,139.43 L568.21,139.78 L570.23,139.59 L571.40,139.17 L572.25,138.80 L574.26,137.63 L574.92,137.21 L576.28,136.35 L578.29,135.26 L578.30,135.25 L580.32,134.25 L582.33,133.47 L582.88,133.30 L584.35,132.77 L586.37,132.20 L588.38,131.72 L590.07,131.34 L590.40,131.20 L592.42,130.00 L592.86,129.39 L593.07,127.43 L593.27,125.48 L593.58,123.52 L593.88,121.57 L594.23,119.61 L594.44,119.04 L595.17,117.66 L596.45,116.53 L598.47,115.93 L600.49,116.46 L601.83,117.66 L602.51,119.47 L602.54,119.61 L602.58,121.57 L602.51,123.52 L602.51,123.52 L602.22,125.48 L601.34,127.43 L600.49,128.33 L599.03,129.39 L598.47,129.73 L596.45,130.68 L595.11,131.34 L594.47,133.30 L594.44,133.91 L594.39,135.26 L594.11,137.21 L593.42,139.17 L592.42,140.75 L592.20,141.12 L590.52,143.08 L590.40,143.19 L588.48,145.03 L588.38,145.12 L586.37,146.85 L586.20,146.99 L584.35,148.56 L583.91,148.94 L582.33,150.36 L581.76,150.90 L580.32,152.21 L579.60,152.86 L578.30,153.91 L577.12,154.81 L576.28,155.40 L574.26,156.69 L574.14,156.77 L572.25,157.99 L571.04,158.72 L570.23,159.24 L568.21,160.44 L567.80,160.68 L566.20,161.66 L564.21,162.63 L564.18,162.65 L562.16,163.73 L560.14,164.58 L560.11,164.59 L558.13,165.58 L556.11,166.44 L555.85,166.54 L554.09,167.38 L552.08,168.13 L550.73,168.50 L550.06,168.72 L548.04,169.13 L546.02,169.30 L544.01,169.25 L541.99,169.01 L539.97,168.57ZM531.18,117.66 L531.90,117.93 L533.92,118.46 L535.94,118.73 L537.96,118.79 L539.97,118.64 L541.99,118.23 L543.53,117.66 L544.01,117.52 L546.02,116.67 L547.45,115.70 L548.04,115.23 L549.54,113.74 L550.06,112.85 L550.71,111.79 L551.20,109.83 L551.09,107.88 L550.35,105.92 L550.06,105.49 L549.10,103.97 L548.04,102.90 L547.04,102.01 L546.02,101.24 L544.01,100.11 L543.88,100.06 L541.99,99.09 L539.97,98.45 L538.22,98.10 L537.96,98.02 L535.94,97.65 L533.92,97.52 L531.90,97.61 L529.89,97.97 L529.45,98.10 L527.87,98.46 L525.85,99.28 L524.60,100.06 L523.84,100.59 L522.31,102.01 L521.82,102.75 L521.01,103.97 L520.43,105.92 L520.42,107.88 L520.94,109.83 L521.82,111.28 L522.10,111.79 L523.84,113.68 L523.90,113.74 L525.85,115.29 L526.57,115.70 L527.87,116.48 L529.89,117.31 L531.18,117.66ZM531.90,114.29 L530.69,113.74 L529.89,113.36 L527.87,111.96 L527.67,111.79 L526.10,109.83 L525.85,109.08 L525.42,107.88 L525.58,105.92 L525.85,105.41 L526.68,103.97 L527.87,102.93 L529.51,102.01 L529.89,101.83 L531.90,101.25 L533.92,101.04 L535.94,101.12 L537.96,101.49 L539.49,102.01 L539.97,102.17 L541.99,103.15 L543.18,103.97 L544.01,104.73 L545.10,105.92 L545.97,107.88 L546.01,109.83 L545.16,111.79 L544.01,112.93 L542.83,113.74 L541.99,114.19 L539.97,114.85 L537.96,115.13 L535.94,115.13 L533.92,114.86 L531.90,114.29Z" fill="#F8766D" fill-opacity="0.43" fill-rule="evenodd"/><path d="M539.75,168.50 L539.97,168.57 L541.99,169.01 L544.01,169.25 L546.02,169.30 L548.04,169.13 L550.06,168.72 L550.73,168.50 L552.08,168.13 L554.09,167.38 L555.85,166.54 L556.11,166.44 L558.13,165.58 L560.11,164.59 L560.14,164.58 L562.16,163.73 L564.18,162.65 L564.21,162.63 L566.20,161.66 L567.80,160.68 L568.21,160.44 L570.23,159.24 L571.04,158.72 L572.25,157.99 L574.14,156.77 L574.26,156.69 L576.28,155.40 L577.12,154.81 L578.30,153.91 L579.60,152.86 L580.32,152.21 L581.76,150.90 L582.33,150.36 L583.91,148.94 L584.35,148.56 L586.20,146.99 L586.37,146.85 L588.38,145.12 L588.48,145.03 L590.40,143.19 L590.52,143.08 L592.20,141.12 L592.42,140.75 L593.42,139.17 L594.11,137.21 L594.39,135.26 L594.44,133.91 L594.47,133.30 L595.11,131.34 L596.45,130.68 L598.47,129.73 L599.03,129.39 L600.49,128.33 L601.34,127.43 L602.22,125.48 L602.51,123.52 L602.51,123.52 L602.58,121.57 L602.54,119.61 L602.51,119.47 L601.83,117.66 L600.49,116.46 L598.47,115.93 L596.45,116.53 L595.17,117.66 L594.44,119.04 L594.23,119.61 L593.88,121.57 L593.58,123.52 L593.27,125.48 L593.07,127.43 L592.86,129.39 L592.42,130.00 L590.40,131.20 L590.07,131.34 L588.38,131.72 L586.37,132.20 L584.35,132.77 L582.88,133.30 L582.33,133.47 L580.32,134.25 L578.30,135.25 L578.29,135.26 L576.28,136.35 L574.92,137.21 L574.26,137.63 L572.25,138.80 L571.40,139.17 L570.23,139.59 L568.21,139.78 L566.20,139.43 L565.49,139.17 L564.18,138.62 L562.16,137.62 L561.34,137.21 L560.14,136.55 L558.13,135.57 L557.44,135.26 L556.11,134.53 L554.09,133.54 L553.62,133.30 L552.08,132.36 L550.19,131.34 L550.06,131.26 L548.04,130.10 L546.30,129.39 L546.02,129.26 L544.01,128.54 L541.99,128.13 L539.97,127.97 L537.96,127.99 L535.94,128.19 L533.92,128.53 L531.90,129.01 L530.60,129.39 L529.89,129.56 L527.87,130.12 L525.85,130.85 L524.78,131.34 L523.84,131.84 L521.87,133.30 L521.82,133.37 L520.51,135.26 L520.09,137.21 L520.17,139.17 L520.50,141.12 L520.90,143.08 L521.36,145.03 L521.82,146.35 L522.03,146.99 L523.07,148.94 L523.84,149.93 L524.60,150.90 L525.85,152.47 L526.14,152.86 L526.98,154.81 L527.23,156.77 L527.31,158.72 L527.71,160.68 L527.87,161.00 L528.68,162.63 L529.89,163.91 L530.63,164.59 L531.90,165.47 L533.92,166.51 L533.99,166.54 L535.94,167.41 L537.96,168.07 L539.75,168.50ZM539.97,162.91 L539.30,162.63 L537.96,161.80 L536.67,160.68 L535.94,159.07 L535.81,158.72 L535.68,156.77 L535.49,154.81 L534.84,152.86 L533.92,151.25 L533.72,150.90 L532.27,148.94 L531.90,148.48 L530.71,146.99 L529.89,145.79 L529.38,145.03 L528.43,143.08 L527.87,141.12 L527.87,141.12 L527.71,139.17 L527.87,138.54 L528.22,137.21 L529.89,135.27 L529.90,135.26 L531.90,134.09 L533.80,133.30 L533.92,133.26 L535.94,132.73 L537.96,132.45 L539.97,132.46 L541.99,132.76 L543.72,133.30 L544.01,133.39 L546.02,134.30 L547.78,135.26 L548.04,135.40 L550.06,136.46 L551.49,137.21 L552.08,137.49 L554.09,138.43 L555.55,139.17 L556.11,139.45 L558.13,140.59 L558.97,141.12 L560.14,141.96 L561.71,143.08 L562.16,143.44 L564.18,144.84 L564.54,145.03 L566.20,146.02 L568.21,146.96 L568.28,146.99 L570.23,148.35 L570.85,148.94 L570.85,150.90 L570.23,151.81 L569.67,152.86 L568.21,154.34 L567.82,154.81 L566.20,156.13 L565.42,156.77 L564.18,157.59 L562.22,158.72 L562.16,158.75 L560.14,159.68 L558.13,160.39 L557.13,160.68 L556.11,161.00 L554.09,161.55 L552.08,162.10 L550.24,162.63 L550.06,162.69 L548.04,163.21 L546.02,163.56 L544.01,163.64 L541.99,163.43 L539.97,162.91ZM530.69,113.74 L531.90,114.29 L533.92,114.86 L535.94,115.13 L537.96,115.13 L539.97,114.85 L541.99,114.19 L542.83,113.74 L544.01,112.93 L545.16,111.79 L546.01,109.83 L545.97,107.88 L545.10,105.92 L544.01,104.73 L543.18,103.97 L541.99,103.15 L539.97,102.17 L539.49,102.01 L537.96,101.49 L535.94,101.12 L533.92,101.04 L531.90,101.25 L529.89,101.83 L529.51,102.01 L527.87,102.93 L526.68,103.97 L525.85,105.41 L525.58,105.92 L525.42,107.88 L525.85,109.08 L526.10,109.83 L527.67,111.79 L527.87,111.96 L529.89,113.36 L530.69,113.74Z" fill="#F8766D" fill-opacity="0.72" fill-rule="evenodd"/><path d="M539.30,162.63 L539.97,162.91 L541.99,163.43 L544.01,163.64 L546.02,163.56 L548.04,163.21 L550.06,162.69 L550.24,162.63 L552.08,162.10 L554.09,161.55 L556.11,161.00 L557.13,160.68 L558.13,160.39 L560.14,159.68 L562.16,158.75 L562.22,158.72 L564.18,157.59 L565.42,156.77 L566.20,156.13 L567.82,154.81 L568.21,154.34 L569.67,152.86 L570.23,151.81 L570.85,150.90 L570.85,148.94 L570.23,148.35 L568.28,146.99 L568.21,146.96 L566.20,146.02 L564.54,145.03 L564.18,144.84 L562.16,143.44 L561.71,143.08 L560.14,141.96 L558.97,141.12 L558.13,140.59 L556.11,139.45 L555.55,139.17 L554.09,138.43 L552.08,137.49 L551.49,137.21 L550.06,136.46 L548.04,135.40 L547.78,135.26 L546.02,134.30 L544.01,133.39 L543.72,133.30 L541.99,132.76 L539.97,132.46 L537.96,132.45 L535.94,132.73 L533.92,133.26 L533.80,133.30 L531.90,134.09 L529.90,135.26 L529.89,135.27 L528.22,137.21 L527.87,138.54 L527.71,139.17 L527.87,141.12 L527.87,141.12 L528.43,143.08 L529.38,145.03 L529.89,145.79 L530.71,146.99 L531.90,148.48 L532.27,148.94 L533.72,150.90 L533.92,151.25 L534.84,152.86 L535.49,154.81 L535.68,156.77 L535.81,158.72 L535.94,159.07 L536.67,160.68 L537.96,161.80 L539.30,162.63Z" fill="#F8766D" fill-opacity="1.0" fill-rule="evenodd"/><path d="M602.43,238.90 L602.51,238.90 L604.52,238.90 L606.41,238.90 L605.31,236.94 L604.52,235.39 L604.29,234.99 L603.23,233.03 L602.51,231.21 L602.45,231.08 L601.67,229.12 L601.14,227.17 L600.76,225.21 L600.49,223.26 L600.49,223.26 L600.10,221.30 L599.76,219.34 L599.45,217.39 L599.13,215.43 L598.83,213.48 L598.54,211.52 L598.47,211.02 L598.12,209.57 L597.72,207.61 L597.41,205.66 L597.16,203.70 L596.95,201.74 L596.75,199.79 L596.55,197.83 L596.45,197.09 L594.44,197.19 L593.71,197.83 L592.42,198.72 L590.40,199.10 L588.38,197.96 L588.28,197.83 L586.93,195.88 L586.37,194.74 L586.01,193.92 L585.36,191.97 L584.93,190.01 L584.63,188.06 L584.43,186.10 L584.35,184.77 L584.29,184.14 L584.18,182.19 L584.16,180.23 L584.22,178.28 L584.34,176.32 L584.35,176.24 L584.46,174.37 L584.62,172.41 L584.80,170.46 L585.01,168.50 L585.18,166.54 L584.74,164.59 L584.35,164.44 L584.12,164.59 L582.33,165.31 L580.34,166.54 L580.32,166.56 L578.32,168.50 L578.30,168.52 L576.49,170.46 L576.28,170.65 L574.26,172.26 L574.00,172.41 L572.25,173.47 L570.44,174.37 L570.23,174.49 L568.21,175.78 L567.29,176.32 L566.20,177.03 L564.18,178.04 L563.55,178.28 L562.16,178.93 L560.14,179.66 L558.13,180.05 L556.11,179.74 L554.29,178.28 L554.09,178.09 L552.99,176.32 L552.20,174.37 L552.08,173.95 L551.60,172.41 L551.22,170.46 L551.01,168.50 L550.94,166.54 L551.00,164.59 L551.18,162.63 L551.51,160.68 L552.03,158.72 L552.08,158.60 L552.55,156.77 L553.25,154.81 L554.09,153.14 L554.21,152.86 L555.19,150.90 L556.11,149.48 L556.44,148.94 L557.89,146.99 L558.13,146.70 L559.70,145.03 L560.14,144.60 L562.16,143.16 L562.34,143.08 L564.18,142.06 L566.20,141.30 L566.80,141.12 L568.21,140.60 L570.23,140.11 L572.25,139.99 L574.26,140.16 L576.28,140.20 L578.30,139.70 L580.20,139.17 L580.32,139.13 L580.62,139.17 L582.33,139.35 L584.32,141.12 L584.35,141.16 L585.39,143.08 L586.07,145.03 L586.37,146.36 L586.53,146.99 L586.85,148.94 L587.01,150.90 L587.06,152.86 L587.00,154.81 L586.87,156.77 L586.67,158.72 L586.42,160.68 L586.37,162.50 L586.36,162.63 L586.37,162.65 L588.38,162.75 L590.40,162.76 L592.42,163.62 L593.39,164.59 L594.44,165.84 L594.99,166.54 L596.08,168.50 L596.45,169.57 L597.91,170.46 L598.47,171.53 L598.58,170.46 L598.85,168.50 L599.22,166.54 L599.73,164.59 L600.44,162.63 L600.49,162.53 L601.24,160.68 L602.43,158.72 L602.51,158.62 L604.52,157.23 L606.54,157.58 L607.72,158.72 L608.56,159.61 L609.28,160.68 L610.48,162.63 L610.57,162.78 L612.35,164.59 L612.59,164.78 L614.61,165.07 L616.63,164.63 L616.74,164.59 L618.64,163.84 L620.66,163.04 L621.88,162.63 L622.68,162.32 L624.69,162.02 L626.71,162.49 L626.94,162.63 L628.73,163.70 L629.62,164.59 L630.75,165.83 L631.33,166.54 L632.68,168.50 L632.76,168.63 L634.28,170.46 L634.78,171.21 L636.80,171.74 L637.42,170.46 L638.41,168.50 L638.81,167.81 L639.38,166.54 L640.61,164.59 L640.83,164.29 L642.85,162.74 L644.10,162.63 L644.87,162.56 L645.04,162.63 L646.88,163.34 L648.44,164.59 L648.90,164.96 L648.90,164.59 L648.90,162.63 L648.90,160.68 L648.90,158.75 L648.86,158.72 L646.88,157.26 L645.46,156.77 L644.87,156.51 L642.85,156.51 L642.34,156.77 L640.83,157.44 L639.53,158.72 L638.81,159.55 L637.93,160.68 L636.80,162.52 L636.62,162.63 L634.78,163.55 L633.68,162.63 L632.76,161.91 L631.71,160.68 L630.75,159.68 L629.63,158.72 L628.73,157.95 L626.71,156.95 L625.56,156.77 L624.69,156.57 L623.16,156.77 L622.68,156.81 L620.66,157.37 L618.64,158.19 L617.34,158.72 L616.63,158.95 L614.61,159.19 L613.66,158.72 L612.59,158.01 L611.79,156.77 L610.57,155.09 L610.39,154.81 L608.94,152.86 L608.56,152.42 L606.54,151.01 L605.64,150.90 L604.52,150.72 L604.12,150.90 L602.51,151.53 L601.18,152.86 L600.49,153.66 L599.67,154.81 L598.62,156.77 L598.47,157.11 L596.99,158.72 L596.45,159.29 L595.28,158.72 L594.44,158.33 L592.56,156.77 L592.42,156.63 L591.20,154.81 L590.40,152.86 L590.40,152.86 L590.18,150.90 L589.99,148.94 L589.77,146.99 L589.47,145.03 L589.04,143.08 L588.38,141.16 L588.38,141.12 L587.81,139.17 L586.89,137.21 L586.37,136.35 L585.58,135.26 L584.35,133.91 L583.16,133.30 L582.33,132.84 L580.32,132.78 L578.93,133.30 L578.30,133.48 L576.28,134.22 L574.26,134.59 L572.25,134.67 L570.23,134.90 L569.02,135.26 L568.21,135.42 L566.20,136.06 L564.18,136.96 L563.72,137.21 L562.16,137.89 L560.30,139.17 L560.14,139.26 L558.13,140.99 L558.01,141.12 L556.26,143.08 L556.11,143.27 L554.74,145.03 L554.09,146.10 L553.48,146.99 L552.41,148.94 L552.08,149.71 L551.41,150.90 L550.60,152.86 L550.06,154.81 L550.06,154.83 L549.35,156.77 L548.88,158.72 L548.57,160.68 L548.38,162.63 L548.27,164.59 L548.23,166.54 L548.25,168.50 L548.35,170.46 L548.53,172.41 L548.83,174.37 L549.29,176.32 L550.03,178.28 L550.06,178.35 L550.71,180.23 L551.80,182.19 L552.08,182.60 L553.39,184.14 L554.09,184.84 L556.11,185.79 L558.13,185.84 L560.14,185.28 L562.16,184.26 L562.36,184.14 L564.18,183.33 L566.13,182.19 L566.20,182.16 L568.21,181.06 L569.48,180.23 L570.23,179.82 L572.25,178.79 L573.20,178.28 L574.26,177.80 L576.28,176.51 L576.55,176.32 L578.30,175.09 L580.32,174.44 L580.92,176.32 L581.18,178.28 L581.31,180.23 L581.41,182.19 L581.52,184.14 L581.67,186.10 L581.89,188.06 L582.21,190.01 L582.33,190.56 L582.49,191.97 L582.78,193.92 L583.23,195.88 L583.92,197.83 L584.35,198.79 L584.73,199.79 L585.77,201.74 L586.37,202.62 L587.39,203.70 L588.38,204.65 L590.40,205.41 L592.42,205.46 L593.01,205.66 L594.44,206.47 L594.76,207.61 L595.24,209.57 L595.73,211.52 L596.26,213.48 L596.45,214.17 L596.61,215.43 L596.85,217.39 L597.10,219.34 L597.36,221.30 L597.65,223.26 L598.00,225.21 L598.46,227.17 L598.47,227.21 L598.74,229.12 L599.14,231.08 L599.74,233.03 L600.49,234.71 L600.58,234.99 L601.32,236.94 L602.43,238.90ZM619.54,238.90 L620.66,238.90 L622.51,238.90 L622.68,238.15 L623.16,236.94 L623.87,234.99 L624.44,233.03 L624.69,232.07 L625.16,231.08 L625.96,229.12 L626.57,227.17 L626.71,226.72 L627.77,225.21 L628.73,223.91 L629.99,223.26 L630.75,222.96 L632.76,222.06 L633.64,221.30 L634.78,220.23 L635.44,219.34 L636.56,217.39 L636.80,216.83 L637.50,215.43 L638.19,213.48 L638.65,211.52 L638.81,210.63 L639.26,209.57 L639.98,207.61 L640.67,205.66 L640.83,205.22 L641.06,205.66 L642.61,207.61 L642.85,207.83 L643.80,209.57 L644.87,210.93 L645.50,211.52 L646.88,212.72 L648.90,213.24 L648.90,211.52 L648.90,209.57 L648.90,207.61 L648.90,206.81 L646.88,205.93 L646.65,205.66 L645.24,203.70 L644.87,203.01 L644.27,201.74 L643.58,199.79 L643.07,197.83 L642.85,196.86 L642.46,195.88 L641.75,193.92 L641.07,191.97 L640.83,191.33 L638.81,191.76 L638.77,191.97 L638.44,193.92 L638.16,195.88 L637.91,197.83 L637.68,199.79 L637.43,201.74 L637.15,203.70 L636.80,205.55 L636.78,205.66 L636.48,207.61 L636.04,209.57 L635.39,211.52 L634.78,212.83 L634.44,213.48 L633.05,215.43 L632.76,215.76 L630.75,217.06 L629.65,217.39 L628.73,217.72 L626.71,219.21 L626.65,219.34 L625.84,221.30 L624.98,223.26 L624.69,223.89 L624.35,225.21 L623.75,227.17 L622.97,229.12 L622.68,229.77 L622.26,231.08 L621.57,233.03 L620.75,234.99 L620.66,235.21 L620.15,236.94 L619.54,238.90Z" fill="#00BFC4" fill-opacity="0.162" fill-rule="evenodd"/><path d="M606.41,238.90 L606.54,238.90 L608.56,238.90 L610.57,238.90 L611.72,238.90 L610.57,237.78 L610.09,236.94 L608.89,234.99 L608.56,234.50 L607.64,233.03 L606.54,231.24 L606.44,231.08 L605.34,229.12 L604.52,227.19 L604.51,227.17 L603.80,225.21 L603.29,223.26 L602.92,221.30 L602.62,219.34 L602.51,218.56 L602.28,217.39 L601.89,215.43 L601.50,213.48 L601.12,211.52 L600.76,209.57 L600.49,207.87 L600.43,207.61 L600.05,205.66 L599.79,203.70 L599.63,201.74 L599.55,199.79 L599.57,197.83 L599.67,195.88 L599.87,193.92 L600.20,191.97 L600.49,190.71 L600.58,190.01 L600.90,188.06 L601.27,186.10 L601.69,184.14 L602.13,182.19 L602.51,180.40 L602.53,180.23 L602.78,178.28 L602.99,176.32 L603.17,174.37 L603.36,172.41 L603.65,170.46 L604.16,168.50 L604.52,167.62 L606.54,167.17 L607.95,168.50 L608.56,168.90 L610.57,170.38 L610.78,170.46 L612.59,170.98 L614.61,170.97 L616.63,170.62 L617.39,170.46 L618.64,170.13 L620.66,169.47 L622.68,168.70 L623.69,168.50 L624.69,168.30 L625.49,168.50 L626.71,168.80 L628.73,170.45 L628.74,170.46 L630.19,172.41 L630.75,173.29 L631.39,174.37 L632.37,176.32 L632.76,177.23 L633.26,178.28 L633.97,180.23 L634.46,182.19 L634.78,184.14 L634.78,184.14 L634.99,186.10 L635.06,188.06 L635.03,190.01 L634.94,191.97 L634.82,193.92 L634.78,194.50 L634.70,195.88 L634.57,197.83 L634.42,199.79 L634.20,201.74 L633.89,203.70 L633.42,205.66 L632.76,207.50 L632.71,207.61 L631.40,209.57 L630.75,210.28 L628.73,211.23 L627.89,211.52 L626.71,211.99 L625.50,213.48 L624.69,214.71 L624.49,215.43 L623.96,217.39 L623.40,219.34 L622.75,221.30 L622.68,221.50 L622.22,223.26 L621.58,225.21 L620.76,227.17 L620.66,227.38 L619.96,229.12 L619.05,231.08 L618.64,231.94 L618.10,233.03 L617.18,234.99 L616.63,236.21 L616.14,236.94 L614.86,238.90 L616.63,238.90 L618.64,238.90 L619.54,238.90 L620.15,236.94 L620.66,235.21 L620.75,234.99 L621.57,233.03 L622.26,231.08 L622.68,229.77 L622.97,229.12 L623.75,227.17 L624.35,225.21 L624.69,223.89 L624.98,223.26 L625.84,221.30 L626.65,219.34 L626.71,219.21 L628.73,217.72 L629.65,217.39 L630.75,217.06 L632.76,215.76 L633.05,215.43 L634.44,213.48 L634.78,212.83 L635.39,211.52 L636.04,209.57 L636.48,207.61 L636.78,205.66 L636.80,205.55 L637.15,203.70 L637.43,201.74 L637.68,199.79 L637.91,197.83 L638.16,195.88 L638.44,193.92 L638.77,191.97 L638.81,191.76 L640.83,191.33 L641.07,191.97 L641.75,193.92 L642.46,195.88 L642.85,196.86 L643.07,197.83 L643.58,199.79 L644.27,201.74 L644.87,203.01 L645.24,203.70 L646.65,205.66 L646.88,205.93 L648.90,206.81 L648.90,205.66 L648.90,203.70 L648.90,201.74 L648.90,199.79 L648.90,197.83 L648.90,197.38 L647.38,195.88 L646.88,195.30 L646.43,193.92 L645.87,191.97 L645.32,190.01 L644.87,188.58 L644.71,188.06 L644.08,186.10 L643.40,184.14 L642.85,182.59 L642.69,182.19 L642.12,180.23 L641.79,178.28 L641.71,176.32 L641.93,174.37 L642.52,172.41 L642.85,171.75 L644.72,170.46 L644.87,170.39 L645.06,170.46 L646.88,171.10 L648.19,172.41 L648.90,173.20 L648.90,172.41 L648.90,170.46 L648.90,168.50 L648.90,166.54 L648.90,164.96 L648.44,164.59 L646.88,163.34 L645.04,162.63 L644.87,162.56 L644.10,162.63 L642.85,162.74 L640.83,164.29 L640.61,164.59 L639.38,166.54 L638.81,167.81 L638.41,168.50 L637.42,170.46 L636.80,171.74 L634.78,171.21 L634.28,170.46 L632.76,168.63 L632.68,168.50 L631.33,166.54 L630.75,165.83 L629.62,164.59 L628.73,163.70 L626.94,162.63 L626.71,162.49 L624.69,162.02 L622.68,162.32 L621.88,162.63 L620.66,163.04 L618.64,163.84 L616.74,164.59 L616.63,164.63 L614.61,165.07 L612.59,164.78 L612.35,164.59 L610.57,162.78 L610.48,162.63 L609.28,160.68 L608.56,159.61 L607.72,158.72 L606.54,157.58 L604.52,157.23 L602.51,158.62 L602.43,158.72 L601.24,160.68 L600.49,162.53 L600.44,162.63 L599.73,164.59 L599.22,166.54 L598.85,168.50 L598.58,170.46 L598.47,171.53 L597.91,170.46 L596.45,169.57 L596.08,168.50 L594.99,166.54 L594.44,165.84 L593.39,164.59 L592.42,163.62 L590.40,162.76 L588.38,162.75 L586.37,162.65 L586.36,162.63 L586.37,162.50 L586.42,160.68 L586.67,158.72 L586.87,156.77 L587.00,154.81 L587.06,152.86 L587.01,150.90 L586.85,148.94 L586.53,146.99 L586.37,146.36 L586.07,145.03 L585.39,143.08 L584.35,141.16 L584.32,141.12 L582.33,139.35 L580.62,139.17 L580.32,139.13 L580.20,139.17 L578.30,139.70 L576.28,140.20 L574.26,140.16 L572.25,139.99 L570.23,140.11 L568.21,140.60 L566.80,141.12 L566.20,141.30 L564.18,142.06 L562.34,143.08 L562.16,143.16 L560.14,144.60 L559.70,145.03 L558.13,146.70 L557.89,146.99 L556.44,148.94 L556.11,149.48 L555.19,150.90 L554.21,152.86 L554.09,153.14 L553.25,154.81 L552.55,156.77 L552.08,158.60 L552.03,158.72 L551.51,160.68 L551.18,162.63 L551.00,164.59 L550.94,166.54 L551.01,168.50 L551.22,170.46 L551.60,172.41 L552.08,173.95 L552.20,174.37 L552.99,176.32 L554.09,178.09 L554.29,178.28 L556.11,179.74 L558.13,180.05 L560.14,179.66 L562.16,178.93 L563.55,178.28 L564.18,178.04 L566.20,177.03 L567.29,176.32 L568.21,175.78 L570.23,174.49 L570.44,174.37 L572.25,173.47 L574.00,172.41 L574.26,172.26 L576.28,170.65 L576.49,170.46 L578.30,168.52 L578.32,168.50 L580.32,166.56 L580.34,166.54 L582.33,165.31 L584.12,164.59 L584.35,164.44 L584.74,164.59 L585.18,166.54 L585.01,168.50 L584.80,170.46 L584.62,172.41 L584.46,174.37 L584.35,176.24 L584.34,176.32 L584.22,178.28 L584.16,180.23 L584.18,182.19 L584.29,184.14 L584.35,184.77 L584.43,186.10 L584.63,188.06 L584.93,190.01 L585.36,191.97 L586.01,193.92 L586.37,194.74 L586.93,195.88 L588.28,197.83 L588.38,197.96 L590.40,199.10 L592.42,198.72 L593.71,197.83 L594.44,197.19 L596.45,197.09 L596.55,197.83 L596.75,199.79 L596.95,201.74 L597.16,203.70 L597.41,205.66 L597.72,207.61 L598.12,209.57 L598.47,211.02 L598.54,211.52 L598.83,213.48 L599.13,215.43 L599.45,217.39 L599.76,219.34 L600.10,221.30 L600.49,223.26 L600.49,223.26 L600.76,225.21 L601.14,227.17 L601.67,229.12 L602.45,231.08 L602.51,231.21 L603.23,233.03 L604.29,234.99 L604.52,235.39 L605.31,236.94 L606.41,238.90ZM558.13,173.30 L556.77,172.41 L556.11,171.81 L555.41,170.46 L554.81,168.50 L554.55,166.54 L554.53,164.59 L554.72,162.63 L555.09,160.68 L555.66,158.72 L556.11,157.60 L556.42,156.77 L557.32,154.81 L558.13,153.42 L558.47,152.86 L559.89,150.90 L560.14,150.59 L561.92,148.94 L562.16,148.74 L564.18,147.57 L565.80,146.99 L566.20,146.83 L568.21,146.24 L570.23,145.86 L572.25,145.92 L574.26,146.58 L575.18,146.99 L576.28,147.61 L578.30,148.35 L580.32,148.71 L580.58,148.94 L581.67,150.90 L581.76,152.86 L581.22,154.81 L580.32,156.58 L580.23,156.77 L579.07,158.72 L578.30,159.83 L577.92,160.68 L576.81,162.63 L576.28,163.40 L575.45,164.59 L574.26,165.95 L573.55,166.54 L572.25,167.53 L570.63,168.50 L570.23,168.74 L568.21,170.09 L567.68,170.46 L566.20,171.47 L564.32,172.41 L564.18,172.48 L562.16,173.16 L560.14,173.48 L558.13,173.30ZM590.40,190.79 L589.66,190.01 L588.38,188.23 L588.33,188.06 L587.84,186.10 L587.54,184.14 L587.40,182.19 L587.39,180.23 L587.52,178.28 L587.79,176.32 L588.25,174.37 L588.38,173.96 L589.48,172.41 L590.40,171.46 L591.99,172.41 L592.42,172.73 L593.09,174.37 L593.61,176.32 L593.93,178.28 L594.07,180.23 L594.07,182.19 L593.92,184.14 L593.60,186.10 L593.06,188.06 L592.42,189.58 L591.80,190.01 L590.40,190.79Z" fill="#00BFC4" fill-opacity="0.43" fill-rule="evenodd"/><path d="M610.09,236.94 L610.57,237.78 L611.72,238.90 L612.59,238.90 L614.61,238.90 L614.86,238.90 L616.14,236.94 L616.63,236.21 L617.18,234.99 L618.10,233.03 L618.64,231.94 L619.05,231.08 L619.96,229.12 L620.66,227.38 L620.76,227.17 L621.58,225.21 L622.22,223.26 L622.68,221.50 L622.75,221.30 L623.40,219.34 L623.96,217.39 L624.49,215.43 L624.69,214.71 L625.50,213.48 L626.71,211.99 L627.89,211.52 L628.73,211.23 L630.75,210.28 L631.40,209.57 L632.71,207.61 L632.76,207.50 L633.42,205.66 L633.89,203.70 L634.20,201.74 L634.42,199.79 L634.57,197.83 L634.70,195.88 L634.78,194.50 L634.82,193.92 L634.94,191.97 L635.03,190.01 L635.06,188.06 L634.99,186.10 L634.78,184.14 L634.78,184.14 L634.46,182.19 L633.97,180.23 L633.26,178.28 L632.76,177.23 L632.37,176.32 L631.39,174.37 L630.75,173.29 L630.19,172.41 L628.74,170.46 L628.73,170.45 L626.71,168.80 L625.49,168.50 L624.69,168.30 L623.69,168.50 L622.68,168.70 L620.66,169.47 L618.64,170.13 L617.39,170.46 L616.63,170.62 L614.61,170.97 L612.59,170.98 L610.78,170.46 L610.57,170.38 L608.56,168.90 L607.95,168.50 L606.54,167.17 L604.52,167.62 L604.16,168.50 L603.65,170.46 L603.36,172.41 L603.17,174.37 L602.99,176.32 L602.78,178.28 L602.53,180.23 L602.51,180.40 L602.13,182.19 L601.69,184.14 L601.27,186.10 L600.90,188.06 L600.58,190.01 L600.49,190.71 L600.20,191.97 L599.87,193.92 L599.67,195.88 L599.57,197.83 L599.55,199.79 L599.63,201.74 L599.79,203.70 L600.05,205.66 L600.43,207.61 L600.49,207.87 L600.76,209.57 L601.12,211.52 L601.50,213.48 L601.89,215.43 L602.28,217.39 L602.51,218.56 L602.62,219.34 L602.92,221.30 L603.29,223.26 L603.80,225.21 L604.51,227.17 L604.52,227.19 L605.34,229.12 L606.44,231.08 L606.54,231.24 L607.64,233.03 L608.56,234.50 L608.89,234.99 L610.09,236.94ZM612.59,229.58 L611.87,229.12 L610.57,228.38 L609.52,227.17 L608.56,225.98 L608.10,225.21 L607.12,223.26 L606.54,221.67 L606.41,221.30 L605.86,219.34 L605.42,217.39 L605.05,215.43 L604.68,213.48 L604.52,212.67 L604.26,211.52 L603.79,209.57 L603.36,207.61 L602.98,205.66 L602.68,203.70 L602.51,202.02 L602.47,201.74 L602.36,199.79 L602.37,197.83 L602.51,195.88 L602.51,195.88 L602.71,193.92 L603.01,191.97 L603.39,190.01 L603.87,188.06 L604.43,186.10 L604.52,185.81 L605.05,184.14 L605.77,182.19 L606.54,180.45 L606.69,180.23 L608.37,178.28 L608.56,178.10 L610.57,177.52 L612.59,177.62 L614.61,177.92 L616.19,178.28 L616.63,178.39 L618.64,179.38 L619.78,180.23 L620.66,181.38 L621.49,182.19 L622.50,184.14 L622.68,184.67 L624.67,186.10 L624.69,186.12 L624.99,186.10 L626.71,185.98 L626.77,186.10 L627.91,188.06 L628.73,189.48 L628.84,190.01 L629.18,191.97 L629.40,193.92 L629.45,195.88 L629.30,197.83 L628.86,199.79 L628.73,200.11 L627.05,201.74 L626.71,201.96 L624.69,202.94 L624.31,203.70 L623.39,205.66 L622.68,207.57 L622.67,207.61 L622.32,209.57 L622.00,211.52 L621.66,213.48 L621.29,215.43 L620.84,217.39 L620.66,218.04 L620.34,219.34 L619.74,221.30 L618.97,223.26 L618.64,223.97 L617.96,225.21 L616.72,227.17 L616.63,227.32 L614.70,229.12 L614.61,229.22 L612.59,229.58ZM647.38,195.88 L648.90,197.38 L648.90,195.88 L648.90,193.92 L648.90,191.97 L648.90,190.01 L648.90,188.06 L648.90,186.10 L648.90,184.14 L648.90,182.19 L648.90,180.23 L648.90,178.28 L648.90,176.32 L648.90,174.37 L648.90,173.20 L648.19,172.41 L646.88,171.10 L645.06,170.46 L644.87,170.39 L644.72,170.46 L642.85,171.75 L642.52,172.41 L641.93,174.37 L641.71,176.32 L641.79,178.28 L642.12,180.23 L642.69,182.19 L642.85,182.59 L643.40,184.14 L644.08,186.10 L644.71,188.06 L644.87,188.58 L645.32,190.01 L645.87,191.97 L646.43,193.92 L646.88,195.30 L647.38,195.88ZM589.66,190.01 L590.40,190.79 L591.80,190.01 L592.42,189.58 L593.06,188.06 L593.60,186.10 L593.92,184.14 L594.07,182.19 L594.07,180.23 L593.93,178.28 L593.61,176.32 L593.09,174.37 L592.42,172.73 L591.99,172.41 L590.40,171.46 L589.48,172.41 L588.38,173.96 L588.25,174.37 L587.79,176.32 L587.52,178.28 L587.39,180.23 L587.40,182.19 L587.54,184.14 L587.84,186.10 L588.33,188.06 L588.38,188.23 L589.66,190.01ZM556.77,172.41 L558.13,173.30 L560.14,173.48 L562.16,173.16 L564.18,172.48 L564.32,172.41 L566.20,171.47 L567.68,170.46 L568.21,170.09 L570.23,168.74 L570.63,168.50 L572.25,167.53 L573.55,166.54 L574.26,165.95 L575.45,164.59 L576.28,163.40 L576.81,162.63 L577.92,160.68 L578.30,159.83 L579.07,158.72 L580.23,156.77 L580.32,156.58 L581.22,154.81 L581.76,152.86 L581.67,150.90 L580.58,148.94 L580.32,148.71 L578.30,148.35 L576.28,147.61 L575.18,146.99 L574.26,146.58 L572.25,145.92 L570.23,145.86 L568.21,146.24 L566.20,146.83 L565.80,146.99 L564.18,147.57 L562.16,148.74 L561.92,148.94 L560.14,150.59 L559.89,150.90 L558.47,152.86 L558.13,153.42 L557.32,154.81 L556.42,156.77 L556.11,157.60 L555.66,158.72 L555.09,160.68 L554.72,162.63 L554.53,164.59 L554.55,166.54 L554.81,168.50 L555.41,170.46 L556.11,171.81 L556.77,172.41ZM562.16,163.54 L561.64,162.63 L561.46,160.68 L561.90,158.72 L562.16,158.17 L563.32,156.77 L564.18,156.02 L566.20,155.60 L568.21,156.29 L568.79,156.77 L568.92,158.72 L568.21,159.96 L567.88,160.68 L566.32,162.63 L566.20,162.75 L564.18,164.01 L562.16,163.54Z" fill="#00BFC4" fill-opacity="0.72" fill-rule="evenodd"/><path d="M611.87,229.12 L612.59,229.58 L614.61,229.22 L614.70,229.12 L616.63,227.32 L616.72,227.17 L617.96,225.21 L618.64,223.97 L618.97,223.26 L619.74,221.30 L620.34,219.34 L620.66,218.04 L620.84,217.39 L621.29,215.43 L621.66,213.48 L622.00,211.52 L622.32,209.57 L622.67,207.61 L622.68,207.57 L623.39,205.66 L624.31,203.70 L624.69,202.94 L626.71,201.96 L627.05,201.74 L628.73,200.11 L628.86,199.79 L629.30,197.83 L629.45,195.88 L629.40,193.92 L629.18,191.97 L628.84,190.01 L628.73,189.48 L627.91,188.06 L626.77,186.10 L626.71,185.98 L624.99,186.10 L624.69,186.12 L624.67,186.10 L622.68,184.67 L622.50,184.14 L621.49,182.19 L620.66,181.38 L619.78,180.23 L618.64,179.38 L616.63,178.39 L616.19,178.28 L614.61,177.92 L612.59,177.62 L610.57,177.52 L608.56,178.10 L608.37,178.28 L606.69,180.23 L606.54,180.45 L605.77,182.19 L605.05,184.14 L604.52,185.81 L604.43,186.10 L603.87,188.06 L603.39,190.01 L603.01,191.97 L602.71,193.92 L602.51,195.88 L602.51,195.88 L602.37,197.83 L602.36,199.79 L602.47,201.74 L602.51,202.02 L602.68,203.70 L602.98,205.66 L603.36,207.61 L603.79,209.57 L604.26,211.52 L604.52,212.67 L604.68,213.48 L605.05,215.43 L605.42,217.39 L605.86,219.34 L606.41,221.30 L606.54,221.67 L607.12,223.26 L608.10,225.21 L608.56,225.98 L609.52,227.17 L610.57,228.38 L611.87,229.12ZM561.64,162.63 L562.16,163.54 L564.18,164.01 L566.20,162.75 L566.32,162.63 L567.88,160.68 L568.21,159.96 L568.92,158.72 L568.79,156.77 L568.21,156.29 L566.20,155.60 L564.18,156.02 L563.32,156.77 L562.16,158.17 L561.90,158.72 L561.46,160.68 L561.64,162.63Z" fill="#00BFC4" fill-opacity="1.0" fill-rule="evenodd"/>
<ellipse cx="532.2" cy="106.1" rx="3.0" ry="2.25" fill="#F8766D" stroke="#000" stroke-width="1.0"/><ellipse cx="535.4" cy="108.5" rx="3.0" ry="2.25" fill="#F8766D" stroke="#000" stroke-width="1.0"/><ellipse cx="539.6" cy="109.7" rx="3.0" ry="2.25" fill="#F8766D" stroke="#000" stroke-width="1.0"/><ellipse cx="621.0" cy="108.7" rx="3.0" ry="2.25" fill="#F8766D" stroke="#000" stroke-width="1.0"/><ellipse cx="598.6" cy="117.4" rx="3.0" ry="2.25" fill="#F8766D" stroke="#000" stroke-width="1.0"/><ellipse cx="597.7" cy="126.8" rx="3.0" ry="2.25" fill="#F8766D" stroke="#000" stroke-width="1.0"/><ellipse cx="618.5" cy="131.5" rx="3.0" ry="2.25" fill="#F8766D" stroke="#000" stroke-width="1.0"/><ellipse cx="525.7" cy="135.7" rx="3.0" ry="2.25" fill="#F8766D" stroke="#000" stroke-width="1.0"/><ellipse cx="540.7" cy="133.4" rx="3.0" ry="2.25" fill="#F8766D" stroke="#000" stroke-width="1.0"/><ellipse cx="536.6" cy="136.7" rx="3.0" ry="2.25" fill="#F8766D" stroke="#000" stroke-width="1.0"/><ellipse cx="541.6" cy="137.3" rx="3.0" ry="2.25" fill="#F8766D" stroke="#000" stroke-width="1.0"/><ellipse cx="533.1" cy="139.6" rx="3.0" ry="2.25" fill="#F8766D" stroke="#000" stroke-width="1.0"/><ellipse cx="535.4" cy="141.9" rx="3.0" ry="2.25" fill="#F8766D" stroke="#000" stroke-width="1.0"/><ellipse cx="542.8" cy="140.4" rx="3.0" ry="2.25" fill="#F8766D" stroke="#000" stroke-width="1.0"/><ellipse cx="551.0" cy="140.2" rx="3.0" ry="2.25" fill="#F8766D" stroke="#000" stroke-width="1.0"/><ellipse cx="527.8" cy="147.0" rx="3.0" ry="2.25" fill="#F8766D" stroke="#000" stroke-width="1.0"/><ellipse cx="540.1" cy="146.0" rx="3.0" ry="2.25" fill="#F8766D" stroke="#000" stroke-width="1.0"/><ellipse cx="543.6" cy="147.2" rx="3.0" ry="2.25" fill="#F8766D" stroke="#000" stroke-width="1.0"/><ellipse cx="550.3" cy="146.0" rx="3.0" ry="2.25" fill="#F8766D" stroke="#000" stroke-width="1.0"/><ellipse cx="554.7" cy="144.3" rx="3.0" ry="2.25" fill="#F8766D" stroke="#000" stroke-width="1.0"/><ellipse cx="559.1" cy="144.6" rx="3.0" ry="2.25" fill="#F8766D" stroke="#000" stroke-width="1.0"/><ellipse cx="539.5" cy="151.3" rx="3.0" ry="2.25" fill="#F8766D" stroke="#000" stroke-width="1.0"/><ellipse cx="543.6" cy="152.1" rx="3.0" ry="2.25" fill="#F8766D" stroke="#000" stroke-width="1.0"/><ellipse cx="553.0" cy="150.1" rx="3.0" ry="2.25" fill="#F8766D" stroke="#000" stroke-width="1.0"/><ellipse cx="558.4" cy="153.0" rx="3.0" ry="2.25" fill="#F8766D" stroke="#000" stroke-width="1.0"/><ellipse cx="554.7" cy="154.2" rx="3.0" ry="2.25" fill="#F8766D" stroke="#000" stroke-width="1.0"/><ellipse cx="563.1" cy="153.6" rx="3.0" ry="2.25" fill="#F8766D" stroke="#000" stroke-width="1.0"/><ellipse cx="567.8" cy="149.9" rx="3.0" ry="2.25" fill="#F8766D" stroke="#000" stroke-width="1.0"/><ellipse cx="573.4" cy="149.9" rx="3.0" ry="2.25" fill="#F8766D" stroke="#000" stroke-width="1.0"/><ellipse cx="578.6" cy="143.7" rx="3.0" ry="2.25" fill="#F8766D" stroke="#000" stroke-width="1.0"/><ellipse cx="582.2" cy="140.4" rx="3.0" ry="2.25" fill="#F8766D" stroke="#000" stroke-width="1.0"/><ellipse cx="588.8" cy="136.4" rx="3.0" ry="2.25" fill="#F8766D" stroke="#000" stroke-width="1.0"/><ellipse cx="533.7" cy="159.8" rx="3.0" ry="2.25" fill="#F8766D" stroke="#000" stroke-width="1.0"/><ellipse cx="540.1" cy="160.6" rx="3.0" ry="2.25" fill="#F8766D" stroke="#000" stroke-width="1.0"/><ellipse cx="543.3" cy="160.0" rx="3.0" ry="2.25" fill="#F8766D" stroke="#000" stroke-width="1.0"/><ellipse cx="547.1" cy="164.5" rx="3.0" ry="2.25" fill="#F8766D" stroke="#000" stroke-width="1.0"/><ellipse cx="554.1" cy="159.5" rx="3.0" ry="2.25" fill="#F8766D" stroke="#000" stroke-width="1.0"/><ellipse cx="548.9" cy="145.4" rx="3.0" ry="2.25" fill="#F8766D" stroke="#000" stroke-width="1.0"/><ellipse cx="558.8" cy="155.9" rx="3.0" ry="2.25" fill="#F8766D" stroke="#000" stroke-width="1.0"/><ellipse cx="581.6" cy="151.3" rx="3.0" ry="2.25" fill="#00BFC4" stroke="#000" stroke-width="1.0"/><ellipse cx="571.1" cy="155.6" rx="3.0" ry="2.25" fill="#00BFC4" stroke="#000" stroke-width="1.0"/><ellipse cx="574.0" cy="157.1" rx="3.0" ry="2.25" fill="#00BFC4" stroke="#000" stroke-width="1.0"/><ellipse cx="566.4" cy="158.3" rx="3.0" ry="2.25" fill="#00BFC4" stroke="#000" stroke-width="1.0"/><ellipse cx="564.0" cy="161.2" rx="3.0" ry="2.25" fill="#00BFC4" stroke="#000" stroke-width="1.0"/><ellipse cx="561.1" cy="160.6" rx="3.0" ry="2.25" fill="#00BFC4" stroke="#000" stroke-width="1.0"/><ellipse cx="556.5" cy="167.0" rx="3.0" ry="2.25" fill="#00BFC4" stroke="#000" stroke-width="1.0"/><ellipse cx="605.0" cy="169.1" rx="3.0" ry="2.25" fill="#00BFC4" stroke="#000" stroke-width="1.0"/><ellipse cx="590.7" cy="175.5" rx="3.0" ry="2.25" fill="#00BFC4" stroke="#000" stroke-width="1.0"/><ellipse cx="590.7" cy="186.8" rx="3.0" ry="2.25" fill="#00BFC4" stroke="#000" stroke-width="1.0"/><ellipse cx="617.3" cy="179.2" rx="3.0" ry="2.25" fill="#00BFC4" stroke="#000" stroke-width="1.0"/><ellipse cx="623.9" cy="176.5" rx="3.0" ry="2.25" fill="#00BFC4" stroke="#000" stroke-width="1.0"/><ellipse cx="627.6" cy="178.9" rx="3.0" ry="2.25" fill="#00BFC4" stroke="#000" stroke-width="1.0"/><ellipse cx="643.3" cy="175.2" rx="3.0" ry="2.25" fill="#00BFC4" stroke="#000" stroke-width="1.0"/><ellipse cx="648.9" cy="180.2" rx="3.0" ry="2.25" fill="#00BFC4" stroke="#000" stroke-width="1.0"/><ellipse cx="608.9" cy="184.3" rx="3.0" ry="2.25" fill="#00BFC4" stroke="#000" stroke-width="1.0"/><ellipse cx="612.1" cy="186.5" rx="3.0" ry="2.25" fill="#00BFC4" stroke="#000" stroke-width="1.0"/><ellipse cx="610.6" cy="188.3" rx="3.0" ry="2.25" fill="#00BFC4" stroke="#000" stroke-width="1.0"/><ellipse cx="617.7" cy="188.0" rx="3.0" ry="2.25" fill="#00BFC4" stroke="#000" stroke-width="1.0"/><ellipse cx="632.3" cy="186.5" rx="3.0" ry="2.25" fill="#00BFC4" stroke="#000" stroke-width="1.0"/><ellipse cx="648.9" cy="194.8" rx="3.0" ry="2.25" fill="#00BFC4" stroke="#000" stroke-width="1.0"/><ellipse cx="605.9" cy="193.2" rx="3.0" ry="2.25" fill="#00BFC4" stroke="#000" stroke-width="1.0"/><ellipse cx="609.9" cy="195.1" rx="3.0" ry="2.25" fill="#00BFC4" stroke="#000" stroke-width="1.0"/><ellipse cx="617.3" cy="196.5" rx="3.0" ry="2.25" fill="#00BFC4" stroke="#000" stroke-width="1.0"/><ellipse cx="625.4" cy="196.5" rx="3.0" ry="2.25" fill="#00BFC4" stroke="#000" stroke-width="1.0"/><ellipse cx="626.8" cy="197.6" rx="3.0" ry="2.25" fill="#00BFC4" stroke="#000" stroke-width="1.0"/><ellipse cx="606.2" cy="198.6" rx="3.0" ry="2.25" fill="#00BFC4" stroke="#000" stroke-width="1.0"/><ellipse cx="612.8" cy="201.0" rx="3.0" ry="2.25" fill="#00BFC4" stroke="#000" stroke-width="1.0"/><ellipse cx="615.8" cy="198.6" rx="3.0" ry="2.25" fill="#00BFC4" stroke="#000" stroke-width="1.0"/><ellipse cx="604.0" cy="203.0" rx="3.0" ry="2.25" fill="#00BFC4" stroke="#000" stroke-width="1.0"/><ellipse cx="609.2" cy="202.4" rx="3.0" ry="2.25" fill="#00BFC4" stroke="#000" stroke-width="1.0"/><ellipse cx="618.3" cy="202.7" rx="3.0" ry="2.25" fill="#00BFC4" stroke="#000" stroke-width="1.0"/><ellipse cx="631.0" cy="203.6" rx="3.0" ry="2.25" fill="#00BFC4" stroke="#000" stroke-width="1.0"/><ellipse cx="610.6" cy="207.2" rx="3.0" ry="2.25" fill="#00BFC4" stroke="#000" stroke-width="1.0"/><ellipse cx="615.1" cy="212.3" rx="3.0" ry="2.25" fill="#00BFC4" stroke="#000" stroke-width="1.0"/><ellipse cx="619.5" cy="212.3" rx="3.0" ry="2.25" fill="#00BFC4" stroke="#000" stroke-width="1.0"/><ellipse cx="612.1" cy="211.6" rx="3.0" ry="2.25" fill="#00BFC4" stroke="#000" stroke-width="1.0"/><ellipse cx="610.6" cy="215.7" rx="3.0" ry="2.25" fill="#00BFC4" stroke="#000" stroke-width="1.0"/><ellipse cx="615.8" cy="216.3" rx="3.0" ry="2.25" fill="#00BFC4" stroke="#000" stroke-width="1.0"/><ellipse cx="611.8" cy="219.7" rx="3.0" ry="2.25" fill="#00BFC4" stroke="#000" stroke-width="1.0"/><ellipse cx="616.5" cy="220.1" rx="3.0" ry="2.25" fill="#00BFC4" stroke="#000" stroke-width="1.0"/><ellipse cx="606.5" cy="221.6" rx="3.0" ry="2.25" fill="#00BFC4" stroke="#000" stroke-width="1.0"/><ellipse cx="613.3" cy="236.2" rx="3.0" ry="2.25" fill="#00BFC4" stroke="#000" stroke-width="1.0"/>
<text x="442.6" y="16.3" font-family="Liberation Sans" font-size="22" font-weight="bold" text-anchor="middle" fill="#000" >e</text><path transform="translate(423.34,50.80) scale(0.007568,-0.007568)" d="M763,0 L583,0 L583,1147 Q518,1085 412,1023 Q306,961 222,930 L222,1104 Q373,1175 486,1276 Q599,1377 646,1472 L763,1472 Z" fill="#000"/><rect x="433.4" y="44.15" width="5.60" height="1.3" fill="#000"/><path transform="translate(414.91,246.60) scale(0.007568,-0.007568)" d="M91,442 L91,622 L591,622 L591,442 Z" fill="#000"/><path transform="translate(420.07,246.60) scale(0.007568,-0.007568)" d="M763,0 L583,0 L583,1147 Q518,1085 412,1023 Q306,961 222,930 L222,1104 Q373,1175 486,1276 Q599,1377 646,1472 L763,1472 Z" fill="#000"/><rect x="433.1" y="240.75" width="5.00" height="1.3" fill="#000"/><path transform="translate(440.51,269.90) scale(0.007568,-0.007568)" d="M91,442 L91,622 L591,622 L591,442 Z" fill="#000"/><path transform="translate(445.67,269.90) scale(0.007568,-0.007568)" d="M763,0 L583,0 L583,1147 Q518,1085 412,1023 Q306,961 222,930 L222,1104 Q373,1175 486,1276 Q599,1377 646,1472 L763,1472 Z" fill="#000"/><rect x="448.55" y="248.6" width="1.5" height="4.90" fill="#000"/><path transform="translate(643.19,269.50) scale(0.007568,-0.007568)" d="M763,0 L583,0 L583,1147 Q518,1085 412,1023 Q306,961 222,930 L222,1104 Q373,1175 486,1276 Q599,1377 646,1472 L763,1472 Z" fill="#000"/><rect x="646.75" y="249.5" width="1.5" height="4.10" fill="#000"/><g transform="translate(517.50,272.80)"><text transform="translate(3.25,0) scale(1.0,1)" font-family="Liberation Serif" font-size="14.2" text-anchor="middle" fill="#000">z</text><text transform="translate(13.55,-4.9) scale(1.05,1)" font-family="Liberation Serif" font-size="9.6" text-anchor="middle" fill="#000">(3)</text><text transform="translate(24.4,0) scale(1.15,1)" font-family="Liberation Serif" font-size="14.2" text-anchor="middle" fill="#000">μ</text><text transform="translate(38.0,0) scale(1.0,1)" font-family="Liberation Serif" font-size="14.2" text-anchor="middle" fill="#000">#</text><text transform="translate(46.9,0) scale(1.2,1)" font-family="Liberation Serif" font-size="14.2" text-anchor="middle" fill="#000">1</text></g><g transform="translate(423.50,144.00) rotate(-90) translate(-25.2,0)"><text transform="translate(3.25,0) scale(1.0,1)" font-family="Liberation Serif" font-size="14.2" text-anchor="middle" fill="#000">z</text><text transform="translate(13.55,-4.9) scale(1.05,1)" font-family="Liberation Serif" font-size="9.6" text-anchor="middle" fill="#000">(3)</text><text transform="translate(24.4,0) scale(1.15,1)" font-family="Liberation Serif" font-size="14.2" text-anchor="middle" fill="#000">μ</text><text transform="translate(38.0,0) scale(1.0,1)" font-family="Liberation Serif" font-size="14.2" text-anchor="middle" fill="#000">#</text><text transform="translate(46.9,0) scale(1.2,1)" font-family="Liberation Serif" font-size="14.2" text-anchor="middle" fill="#000">2</text></g>
<rect x="39.8" y="319.1" width="169.10" height="173.80" fill="#EBEBEB"/><line x1="47.00" y1="319.1" x2="47.00" y2="492.9" stroke="#fff" stroke-width="1.2"/><line x1="39.8" y1="485.50" x2="208.9" y2="485.50" stroke="#fff" stroke-width="1.0"/><line x1="66.30" y1="319.1" x2="66.30" y2="492.9" stroke="#fff" stroke-width="0.7"/><line x1="39.8" y1="465.64" x2="208.9" y2="465.64" stroke="#fff" stroke-width="0.85"/><line x1="85.60" y1="319.1" x2="85.60" y2="492.9" stroke="#fff" stroke-width="1.2"/><line x1="39.8" y1="445.77" x2="208.9" y2="445.77" stroke="#fff" stroke-width="1.0"/><line x1="104.90" y1="319.1" x2="104.90" y2="492.9" stroke="#fff" stroke-width="0.7"/><line x1="39.8" y1="425.91" x2="208.9" y2="425.91" stroke="#fff" stroke-width="0.85"/><line x1="124.20" y1="319.1" x2="124.20" y2="492.9" stroke="#fff" stroke-width="1.2"/><line x1="39.8" y1="406.05" x2="208.9" y2="406.05" stroke="#fff" stroke-width="1.0"/><line x1="143.50" y1="319.1" x2="143.50" y2="492.9" stroke="#fff" stroke-width="0.7"/><line x1="39.8" y1="386.19" x2="208.9" y2="386.19" stroke="#fff" stroke-width="0.85"/><line x1="162.80" y1="319.1" x2="162.80" y2="492.9" stroke="#fff" stroke-width="1.2"/><line x1="39.8" y1="366.33" x2="208.9" y2="366.33" stroke="#fff" stroke-width="1.0"/><line x1="182.10" y1="319.1" x2="182.10" y2="492.9" stroke="#fff" stroke-width="0.7"/><line x1="39.8" y1="346.46" x2="208.9" y2="346.46" stroke="#fff" stroke-width="0.85"/><line x1="201.40" y1="319.1" x2="201.40" y2="492.9" stroke="#fff" stroke-width="1.2"/><line x1="39.8" y1="326.60" x2="208.9" y2="326.60" stroke="#fff" stroke-width="1.0"/><rect x="46.40" y="492.90" width="1.2" height="1.1" fill="#666"/><rect x="38.70" y="484.90" width="1.1" height="1.2" fill="#666"/><rect x="85.00" y="492.90" width="1.2" height="1.1" fill="#666"/><rect x="38.70" y="445.17" width="1.1" height="1.2" fill="#666"/><rect x="123.60" y="492.90" width="1.2" height="1.1" fill="#666"/><rect x="38.70" y="405.45" width="1.1" height="1.2" fill="#666"/><rect x="162.20" y="492.90" width="1.2" height="1.1" fill="#666"/><rect x="38.70" y="365.73" width="1.1" height="1.2" fill="#666"/><rect x="200.80" y="492.90" width="1.2" height="1.1" fill="#666"/><rect x="38.70" y="326.00" width="1.1" height="1.2" fill="#666"/>
<path d="M187.35,368.33 L187.36,368.33 L188.92,368.64 L190.48,368.89 L192.04,369.09 L193.60,369.25 L195.16,369.38 L196.72,369.48 L198.28,369.54 L199.84,369.58 L201.40,369.59 L201.40,368.33 L201.40,366.73 L201.40,365.12 L201.40,365.07 L199.84,365.05 L198.28,365.00 L196.72,364.90 L195.16,364.76 L193.60,364.57 L192.04,364.32 L190.48,364.02 L188.92,363.66 L188.41,363.52 L187.36,363.24 L185.80,362.76 L184.24,362.18 L183.59,361.91 L182.68,361.50 L181.13,360.71 L180.40,360.31 L179.57,359.73 L178.13,358.70 L178.01,358.58 L176.45,357.10 L176.45,357.10 L175.18,355.49 L174.89,354.83 L174.21,353.89 L173.33,352.32 L173.20,352.28 L171.77,351.99 L170.87,352.28 L170.21,352.42 L168.65,353.08 L167.09,353.84 L167.01,353.89 L165.53,354.67 L164.03,355.49 L163.97,355.52 L162.41,356.39 L161.11,357.10 L160.85,357.23 L159.29,358.05 L157.95,358.70 L157.73,358.80 L156.17,359.53 L154.61,360.17 L154.26,360.31 L153.05,360.79 L151.49,361.34 L149.93,361.81 L149.56,361.91 L148.37,362.28 L146.81,362.69 L145.25,363.04 L143.69,363.33 L142.48,363.52 L142.14,363.58 L140.58,363.84 L139.02,364.06 L137.46,364.22 L135.90,364.35 L134.34,364.45 L132.78,364.51 L131.22,364.54 L129.66,364.53 L128.10,364.50 L126.54,364.43 L124.98,364.33 L123.42,364.19 L121.86,364.02 L120.30,363.79 L118.74,363.52 L118.73,363.52 L117.18,363.26 L115.62,362.96 L114.06,362.59 L112.50,362.14 L111.81,361.91 L110.94,361.66 L109.38,361.13 L107.82,360.49 L107.41,360.31 L106.26,359.80 L104.71,358.98 L104.22,358.70 L103.15,358.04 L101.79,357.10 L101.59,356.93 L100.03,355.62 L99.88,355.49 L98.47,354.04 L98.32,353.89 L96.99,352.28 L96.91,352.18 L95.71,350.68 L95.35,350.22 L94.38,349.07 L93.79,348.43 L92.86,347.47 L92.23,346.90 L91.02,345.86 L90.67,345.61 L89.11,344.53 L88.68,344.26 L87.55,343.65 L85.99,342.85 L85.55,342.65 L84.43,342.23 L82.87,341.70 L81.31,341.23 L80.56,341.05 L79.75,340.88 L78.19,340.64 L76.63,340.49 L75.07,340.43 L73.51,340.48 L71.95,340.62 L70.39,340.87 L69.51,341.05 L68.83,341.20 L67.27,341.59 L65.72,342.00 L64.16,342.41 L63.21,342.65 L62.60,342.81 L61.04,343.20 L59.48,343.54 L57.92,343.84 L56.36,344.09 L55.10,344.26 L54.80,344.30 L53.24,344.49 L51.68,344.64 L50.12,344.74 L48.56,344.80 L47.00,344.82 L47.00,345.86 L47.00,347.47 L47.00,349.07 L47.00,349.28 L48.56,349.26 L50.12,349.22 L51.68,349.14 L52.57,349.07 L53.24,349.04 L54.80,348.93 L56.36,348.80 L57.92,348.64 L59.48,348.44 L61.04,348.22 L62.60,347.96 L64.16,347.66 L65.13,347.47 L65.72,347.37 L67.27,347.13 L68.83,346.88 L70.39,346.65 L71.95,346.47 L73.51,346.35 L75.07,346.34 L76.63,346.46 L78.19,346.72 L79.75,347.12 L80.78,347.47 L81.31,347.70 L82.87,348.55 L83.73,349.07 L84.43,349.60 L85.75,350.68 L85.99,350.90 L87.37,352.28 L87.55,352.48 L88.82,353.89 L89.11,354.20 L90.29,355.49 L90.67,355.87 L91.92,357.10 L92.23,357.37 L93.79,358.66 L93.84,358.70 L95.35,359.81 L96.12,360.31 L96.91,360.80 L98.47,361.66 L98.97,361.91 L100.03,362.46 L101.59,363.15 L102.56,363.52 L103.15,363.77 L104.71,364.36 L106.26,364.85 L107.28,365.12 L107.82,365.30 L109.38,365.77 L110.94,366.15 L112.50,366.46 L114.06,366.72 L114.08,366.73 L115.62,367.05 L117.18,367.32 L118.74,367.54 L120.30,367.73 L121.86,367.87 L123.42,367.99 L124.98,368.08 L126.54,368.15 L128.10,368.19 L129.66,368.21 L131.22,368.22 L132.78,368.20 L134.34,368.16 L135.90,368.10 L137.46,368.01 L139.02,367.90 L140.58,367.76 L142.14,367.58 L143.69,367.37 L145.25,367.12 L146.81,366.82 L147.23,366.73 L148.37,366.55 L149.93,366.26 L151.49,365.93 L153.05,365.54 L154.53,365.12 L154.61,365.10 L156.17,364.75 L157.73,364.35 L159.29,363.93 L160.85,363.52 L160.85,363.52 L162.41,363.22 L163.97,363.00 L165.53,362.88 L167.09,362.90 L168.65,363.08 L170.21,363.40 L170.64,363.52 L171.77,363.86 L173.33,364.39 L174.89,364.92 L175.47,365.12 L176.45,365.48 L178.01,366.02 L179.57,366.49 L180.43,366.73 L181.13,366.94 L182.68,367.39 L184.24,367.76 L185.80,368.07 L187.35,368.33ZM176.84,347.47 L178.01,347.88 L179.57,347.72 L180.95,347.47 L181.13,347.44 L182.68,347.08 L184.24,346.76 L185.80,346.46 L187.36,346.20 L188.92,345.97 L189.69,345.86 L190.48,345.74 L192.04,345.53 L193.60,345.36 L195.16,345.23 L196.72,345.13 L198.28,345.06 L199.84,345.03 L201.40,345.03 L201.40,344.26 L201.40,342.65 L201.40,341.05 L201.40,340.25 L199.84,340.14 L198.28,340.01 L196.72,339.84 L195.16,339.60 L194.47,339.44 L193.60,339.04 L192.13,337.84 L192.04,337.49 L191.84,336.23 L192.02,334.63 L192.04,334.50 L192.36,333.02 L192.64,331.42 L192.75,329.81 L192.64,328.21 L192.26,326.60 L192.04,326.60 L190.48,326.60 L188.92,326.60 L187.36,326.60 L185.80,326.60 L184.24,326.60 L183.08,326.60 L183.64,328.21 L183.85,329.81 L183.76,331.42 L183.42,333.02 L182.85,334.63 L182.68,334.98 L182.14,336.23 L181.28,337.84 L181.13,338.10 L180.37,339.44 L179.57,340.77 L179.39,341.05 L178.47,342.65 L178.01,343.56 L177.60,344.26 L176.93,345.86 L176.84,347.47Z" fill="#F8766D" fill-opacity="0.162" fill-rule="evenodd"/><path d="M118.73,363.52 L118.74,363.52 L120.30,363.79 L121.86,364.02 L123.42,364.19 L124.98,364.33 L126.54,364.43 L128.10,364.50 L129.66,364.53 L131.22,364.54 L132.78,364.51 L134.34,364.45 L135.90,364.35 L137.46,364.22 L139.02,364.06 L140.58,363.84 L142.14,363.58 L142.48,363.52 L143.69,363.33 L145.25,363.04 L146.81,362.69 L148.37,362.28 L149.56,361.91 L149.93,361.81 L151.49,361.34 L153.05,360.79 L154.26,360.31 L154.61,360.17 L156.17,359.53 L157.73,358.80 L157.95,358.70 L159.29,358.05 L160.85,357.23 L161.11,357.10 L162.41,356.39 L163.97,355.52 L164.03,355.49 L165.53,354.67 L167.01,353.89 L167.09,353.84 L168.65,353.08 L170.21,352.42 L170.87,352.28 L171.77,351.99 L173.20,352.28 L173.33,352.32 L174.21,353.89 L174.89,354.83 L175.18,355.49 L176.45,357.10 L176.45,357.10 L178.01,358.58 L178.13,358.70 L179.57,359.73 L180.40,360.31 L181.13,360.71 L182.68,361.50 L183.59,361.91 L184.24,362.18 L185.80,362.76 L187.36,363.24 L188.41,363.52 L188.92,363.66 L190.48,364.02 L192.04,364.32 L193.60,364.57 L195.16,364.76 L196.72,364.90 L198.28,365.00 L199.84,365.05 L201.40,365.07 L201.40,363.52 L201.40,361.91 L201.40,360.31 L201.40,358.75 L199.84,358.70 L199.84,358.70 L198.28,358.49 L196.72,358.13 L195.16,357.62 L193.95,357.10 L193.60,356.75 L192.53,355.49 L192.95,353.89 L193.60,353.41 L195.16,352.50 L195.65,352.28 L196.72,352.00 L198.28,351.71 L199.84,351.54 L201.40,351.49 L201.40,350.68 L201.40,349.07 L201.40,347.47 L201.40,345.86 L201.40,345.03 L199.84,345.03 L198.28,345.06 L196.72,345.13 L195.16,345.23 L193.60,345.36 L192.04,345.53 L190.48,345.74 L189.69,345.86 L188.92,345.97 L187.36,346.20 L185.80,346.46 L184.24,346.76 L182.68,347.08 L181.13,347.44 L180.95,347.47 L179.57,347.72 L178.01,347.88 L176.84,347.47 L176.93,345.86 L177.60,344.26 L178.01,343.56 L178.47,342.65 L179.39,341.05 L179.57,340.77 L180.37,339.44 L181.13,338.10 L181.28,337.84 L182.14,336.23 L182.68,334.98 L182.85,334.63 L183.42,333.02 L183.76,331.42 L183.85,329.81 L183.64,328.21 L183.08,326.60 L182.68,326.60 L181.13,326.60 L179.57,326.60 L178.01,326.60 L176.45,326.60 L174.89,326.60 L173.33,326.60 L173.25,326.60 L173.33,326.72 L174.23,328.21 L174.70,329.81 L174.77,331.42 L174.51,333.02 L173.96,334.63 L173.33,335.85 L173.14,336.23 L172.09,337.84 L171.77,338.24 L170.82,339.44 L170.21,340.10 L169.31,341.05 L168.65,341.68 L167.59,342.65 L167.09,343.08 L165.66,344.26 L165.53,344.36 L163.97,345.60 L163.62,345.86 L162.41,346.82 L161.57,347.47 L160.85,348.06 L159.59,349.07 L159.29,349.33 L157.73,350.67 L157.72,350.68 L156.17,352.05 L155.90,352.28 L154.61,353.34 L153.93,353.89 L153.05,354.51 L151.57,355.49 L151.49,355.54 L149.93,356.42 L148.54,357.10 L148.37,357.17 L146.81,357.83 L145.25,358.38 L144.21,358.70 L143.69,358.86 L142.14,359.28 L140.58,359.62 L139.02,359.90 L137.46,360.13 L135.90,360.30 L135.78,360.31 L134.34,360.44 L132.78,360.53 L131.22,360.57 L129.66,360.57 L128.10,360.51 L126.54,360.41 L125.50,360.31 L124.98,360.26 L123.42,360.08 L121.86,359.84 L120.30,359.54 L118.74,359.17 L117.18,358.72 L117.14,358.70 L115.62,358.20 L114.06,357.59 L112.99,357.10 L112.50,356.85 L110.94,355.96 L110.21,355.49 L109.38,354.86 L108.22,353.89 L107.82,353.47 L106.73,352.28 L106.26,351.66 L105.53,350.68 L104.71,349.43 L104.46,349.07 L103.36,347.47 L103.15,347.18 L102.09,345.86 L101.59,345.32 L100.55,344.26 L100.03,343.80 L98.64,342.65 L98.47,342.53 L96.91,341.48 L96.22,341.05 L95.35,340.58 L93.79,339.78 L93.10,339.44 L92.23,339.08 L90.67,338.45 L89.12,337.84 L89.11,337.83 L87.55,337.31 L85.99,336.79 L84.43,336.26 L84.35,336.23 L82.87,335.77 L81.31,335.28 L79.75,334.77 L79.31,334.63 L78.19,334.24 L76.63,333.70 L75.07,333.13 L74.77,333.02 L73.51,332.42 L71.95,331.58 L71.64,331.42 L70.46,329.81 L70.54,328.21 L71.28,326.60 L70.39,326.60 L68.83,326.60 L67.27,326.60 L65.72,326.60 L64.16,326.60 L62.60,326.60 L61.04,326.60 L59.48,326.60 L57.92,326.60 L56.36,326.60 L54.80,326.60 L53.24,326.60 L51.68,326.60 L50.12,326.60 L48.56,326.60 L47.00,326.60 L47.00,328.21 L47.00,329.81 L47.00,330.86 L48.56,330.81 L50.12,330.84 L51.68,330.94 L53.24,331.12 L54.80,331.37 L55.04,331.42 L56.36,331.88 L57.92,332.62 L58.57,333.02 L58.67,334.63 L57.92,335.32 L56.99,336.23 L56.36,336.53 L54.80,337.21 L53.24,337.80 L53.11,337.84 L51.68,338.12 L50.12,338.34 L48.56,338.47 L47.00,338.49 L47.00,339.44 L47.00,341.05 L47.00,342.65 L47.00,344.26 L47.00,344.82 L48.56,344.80 L50.12,344.74 L51.68,344.64 L53.24,344.49 L54.80,344.30 L55.10,344.26 L56.36,344.09 L57.92,343.84 L59.48,343.54 L61.04,343.20 L62.60,342.81 L63.21,342.65 L64.16,342.41 L65.72,342.00 L67.27,341.59 L68.83,341.20 L69.51,341.05 L70.39,340.87 L71.95,340.62 L73.51,340.48 L75.07,340.43 L76.63,340.49 L78.19,340.64 L79.75,340.88 L80.56,341.05 L81.31,341.23 L82.87,341.70 L84.43,342.23 L85.55,342.65 L85.99,342.85 L87.55,343.65 L88.68,344.26 L89.11,344.53 L90.67,345.61 L91.02,345.86 L92.23,346.90 L92.86,347.47 L93.79,348.43 L94.38,349.07 L95.35,350.22 L95.71,350.68 L96.91,352.18 L96.99,352.28 L98.32,353.89 L98.47,354.04 L99.88,355.49 L100.03,355.62 L101.59,356.93 L101.79,357.10 L103.15,358.04 L104.22,358.70 L104.71,358.98 L106.26,359.80 L107.41,360.31 L107.82,360.49 L109.38,361.13 L110.94,361.66 L111.81,361.91 L112.50,362.14 L114.06,362.59 L115.62,362.96 L117.18,363.26 L118.73,363.52Z" fill="#F8766D" fill-opacity="0.43" fill-rule="evenodd"/><path d="M125.50,360.31 L126.54,360.41 L128.10,360.51 L129.66,360.57 L131.22,360.57 L132.78,360.53 L134.34,360.44 L135.78,360.31 L135.90,360.30 L137.46,360.13 L139.02,359.90 L140.58,359.62 L142.14,359.28 L143.69,358.86 L144.21,358.70 L145.25,358.38 L146.81,357.83 L148.37,357.17 L148.54,357.10 L149.93,356.42 L151.49,355.54 L151.57,355.49 L153.05,354.51 L153.93,353.89 L154.61,353.34 L155.90,352.28 L156.17,352.05 L157.72,350.68 L157.73,350.67 L159.29,349.33 L159.59,349.07 L160.85,348.06 L161.57,347.47 L162.41,346.82 L163.62,345.86 L163.97,345.60 L165.53,344.36 L165.66,344.26 L167.09,343.08 L167.59,342.65 L168.65,341.68 L169.31,341.05 L170.21,340.10 L170.82,339.44 L171.77,338.24 L172.09,337.84 L173.14,336.23 L173.33,335.85 L173.96,334.63 L174.51,333.02 L174.77,331.42 L174.70,329.81 L174.23,328.21 L173.33,326.72 L173.25,326.60 L171.77,326.60 L170.21,326.60 L168.65,326.60 L167.09,326.60 L165.53,326.60 L163.97,326.60 L162.41,326.60 L160.85,326.60 L159.29,326.60 L157.73,326.60 L156.17,326.60 L154.61,326.60 L153.05,326.60 L153.05,326.60 L153.05,326.60 L154.61,326.93 L156.17,327.38 L157.73,327.99 L158.19,328.21 L159.29,328.94 L160.32,329.81 L160.85,330.62 L161.30,331.42 L161.55,333.02 L161.27,334.63 L160.85,335.55 L160.54,336.23 L159.40,337.84 L159.29,337.95 L157.85,339.44 L157.73,339.55 L156.17,340.84 L155.91,341.05 L154.61,341.98 L153.62,342.65 L153.05,343.03 L151.49,344.03 L151.12,344.26 L149.93,345.03 L148.62,345.86 L148.37,346.04 L146.81,347.11 L146.28,347.47 L145.25,348.23 L144.10,349.07 L143.69,349.37 L142.14,350.46 L141.81,350.68 L140.58,351.39 L139.02,352.18 L138.79,352.28 L137.46,352.76 L135.90,353.20 L134.34,353.52 L132.78,353.72 L131.22,353.80 L129.66,353.76 L128.10,353.59 L126.54,353.28 L124.98,352.83 L123.54,352.28 L123.42,352.22 L121.86,351.19 L121.20,350.68 L120.30,349.64 L119.86,349.07 L118.95,347.47 L118.74,347.05 L118.18,345.86 L117.37,344.26 L117.18,343.93 L116.43,342.65 L115.62,341.46 L115.33,341.05 L114.06,339.49 L114.02,339.44 L112.50,337.98 L112.33,337.84 L110.94,336.87 L109.81,336.23 L109.38,336.03 L107.82,335.39 L106.26,334.84 L105.59,334.63 L104.71,334.37 L103.15,333.94 L101.59,333.52 L100.03,333.11 L99.68,333.02 L98.47,332.68 L96.91,332.22 L95.35,331.73 L94.42,331.42 L93.79,331.15 L92.23,330.44 L90.96,329.81 L90.67,329.57 L89.17,328.21 L89.11,327.93 L88.85,326.60 L87.55,326.60 L85.99,326.60 L84.43,326.60 L82.87,326.60 L81.31,326.60 L79.75,326.60 L78.19,326.60 L76.63,326.60 L75.07,326.60 L73.51,326.60 L71.95,326.60 L71.28,326.60 L70.54,328.21 L70.46,329.81 L71.64,331.42 L71.95,331.58 L73.51,332.42 L74.77,333.02 L75.07,333.13 L76.63,333.70 L78.19,334.24 L79.31,334.63 L79.75,334.77 L81.31,335.28 L82.87,335.77 L84.35,336.23 L84.43,336.26 L85.99,336.79 L87.55,337.31 L89.11,337.83 L89.12,337.84 L90.67,338.45 L92.23,339.08 L93.10,339.44 L93.79,339.78 L95.35,340.58 L96.22,341.05 L96.91,341.48 L98.47,342.53 L98.64,342.65 L100.03,343.80 L100.55,344.26 L101.59,345.32 L102.09,345.86 L103.15,347.18 L103.36,347.47 L104.46,349.07 L104.71,349.43 L105.53,350.68 L106.26,351.66 L106.73,352.28 L107.82,353.47 L108.22,353.89 L109.38,354.86 L110.21,355.49 L110.94,355.96 L112.50,356.85 L112.99,357.10 L114.06,357.59 L115.62,358.20 L117.14,358.70 L117.18,358.72 L118.74,359.17 L120.30,359.54 L121.86,359.84 L123.42,360.08 L124.98,360.26 L125.50,360.31ZM199.84,358.70 L201.40,358.75 L201.40,358.70 L201.40,357.10 L201.40,355.49 L201.40,353.89 L201.40,352.28 L201.40,351.49 L199.84,351.54 L198.28,351.71 L196.72,352.00 L195.65,352.28 L195.16,352.50 L193.60,353.41 L192.95,353.89 L192.53,355.49 L193.60,356.75 L193.95,357.10 L195.16,357.62 L196.72,358.13 L198.28,358.49 L199.84,358.70 L199.84,358.70ZM47.00,337.84 L47.00,338.49 L48.56,338.47 L50.12,338.34 L51.68,338.12 L53.11,337.84 L53.24,337.80 L54.80,337.21 L56.36,336.53 L56.99,336.23 L57.92,335.32 L58.67,334.63 L58.57,333.02 L57.92,332.62 L56.36,331.88 L55.04,331.42 L54.80,331.37 L53.24,331.12 L51.68,330.94 L50.12,330.84 L48.56,330.81 L47.00,330.86 L47.00,331.42 L47.00,333.02 L47.00,334.63 L47.00,336.23 L47.00,337.84ZM125.72,326.60 L126.54,326.72 L128.10,326.88 L129.66,326.96 L131.22,326.98 L132.78,326.95 L134.34,326.88 L135.90,326.78 L137.46,326.67 L138.43,326.60 L137.46,326.60 L135.90,326.60 L134.34,326.60 L132.78,326.60 L131.22,326.60 L129.66,326.60 L128.10,326.60 L126.54,326.60 L125.72,326.60Z" fill="#F8766D" fill-opacity="0.72" fill-rule="evenodd"/><path d="M123.54,352.28 L124.98,352.83 L126.54,353.28 L128.10,353.59 L129.66,353.76 L131.22,353.80 L132.78,353.72 L134.34,353.52 L135.90,353.20 L137.46,352.76 L138.79,352.28 L139.02,352.18 L140.58,351.39 L141.81,350.68 L142.14,350.46 L143.69,349.37 L144.10,349.07 L145.25,348.23 L146.28,347.47 L146.81,347.11 L148.37,346.04 L148.62,345.86 L149.93,345.03 L151.12,344.26 L151.49,344.03 L153.05,343.03 L153.62,342.65 L154.61,341.98 L155.91,341.05 L156.17,340.84 L157.73,339.55 L157.85,339.44 L159.29,337.95 L159.40,337.84 L160.54,336.23 L160.85,335.55 L161.27,334.63 L161.55,333.02 L161.30,331.42 L160.85,330.62 L160.32,329.81 L159.29,328.94 L158.19,328.21 L157.73,327.99 L156.17,327.38 L154.61,326.93 L153.05,326.60 L153.05,326.60 L151.49,326.60 L149.93,326.60 L148.37,326.60 L146.81,326.60 L145.25,326.60 L143.69,326.60 L142.14,326.60 L140.58,326.60 L139.02,326.60 L138.43,326.60 L137.46,326.67 L135.90,326.78 L134.34,326.88 L132.78,326.95 L131.22,326.98 L129.66,326.96 L128.10,326.88 L126.54,326.72 L125.72,326.60 L124.98,326.60 L123.42,326.60 L121.86,326.60 L120.30,326.60 L118.74,326.60 L117.18,326.60 L115.62,326.60 L114.06,326.60 L112.50,326.60 L110.94,326.60 L109.38,326.60 L107.82,326.60 L106.26,326.60 L104.71,326.60 L103.15,326.60 L101.59,326.60 L100.03,326.60 L98.47,326.60 L96.91,326.60 L95.35,326.60 L93.79,326.60 L92.23,326.60 L90.67,326.60 L89.11,326.60 L88.85,326.60 L89.11,327.93 L89.17,328.21 L90.67,329.57 L90.96,329.81 L92.23,330.44 L93.79,331.15 L94.42,331.42 L95.35,331.73 L96.91,332.22 L98.47,332.68 L99.68,333.02 L100.03,333.11 L101.59,333.52 L103.15,333.94 L104.71,334.37 L105.59,334.63 L106.26,334.84 L107.82,335.39 L109.38,336.03 L109.81,336.23 L110.94,336.87 L112.33,337.84 L112.50,337.98 L114.02,339.44 L114.06,339.49 L115.33,341.05 L115.62,341.46 L116.43,342.65 L117.18,343.93 L117.37,344.26 L118.18,345.86 L118.74,347.05 L118.95,347.47 L119.86,349.07 L120.30,349.64 L121.20,350.68 L121.86,351.19 L123.42,352.22 L123.54,352.28Z" fill="#F8766D" fill-opacity="1.0" fill-rule="evenodd"/><path d="M150.65,485.50 L151.49,485.50 L153.00,485.50 L153.02,483.89 L153.05,483.03 L153.07,482.29 L153.14,480.68 L153.24,479.08 L153.37,477.47 L153.56,475.87 L153.79,474.26 L154.10,472.66 L154.50,471.05 L154.61,470.64 L154.95,469.45 L155.51,467.84 L156.17,466.39 L156.28,466.24 L157.53,464.63 L157.73,464.39 L159.29,463.65 L160.85,463.24 L161.06,463.03 L162.41,461.43 L162.41,461.42 L162.82,459.82 L163.15,458.21 L163.43,456.61 L163.69,455.00 L163.93,453.40 L163.97,453.12 L164.07,451.79 L164.21,450.19 L164.36,448.58 L164.54,446.98 L164.75,445.37 L165.01,443.77 L165.33,442.16 L165.53,441.32 L165.65,440.56 L165.94,438.95 L166.30,437.35 L166.75,435.74 L167.09,434.69 L167.22,434.14 L167.62,432.53 L168.09,430.93 L168.65,429.38 L168.66,429.32 L169.05,427.72 L169.50,426.11 L170.04,424.51 L170.21,424.03 L170.50,422.90 L170.96,421.30 L171.53,419.69 L171.77,419.07 L172.12,418.09 L172.78,416.48 L173.33,415.39 L173.66,414.88 L174.85,413.27 L174.89,413.22 L176.45,412.33 L178.01,412.64 L178.72,413.27 L179.57,414.03 L180.15,414.88 L181.11,416.48 L181.13,416.52 L181.90,418.09 L182.50,419.69 L182.68,420.24 L183.08,421.30 L183.59,422.90 L183.98,424.51 L184.24,425.84 L184.33,426.11 L184.80,427.72 L185.19,429.32 L185.52,430.93 L185.80,432.53 L185.80,432.57 L187.36,433.53 L187.85,432.53 L188.92,430.93 L188.92,430.93 L190.24,429.32 L190.48,429.06 L192.04,428.75 L192.69,429.32 L193.60,430.18 L193.99,430.93 L194.69,432.53 L195.16,433.91 L195.23,434.14 L195.68,435.74 L196.02,437.35 L196.29,438.95 L196.49,440.56 L196.65,442.16 L196.72,443.12 L196.79,443.77 L196.92,445.37 L197.00,446.98 L197.04,448.58 L197.05,450.19 L197.01,451.79 L196.93,453.40 L196.81,455.00 L196.72,455.88 L196.67,456.61 L196.52,458.21 L196.32,459.82 L196.07,461.42 L195.73,463.03 L195.30,464.63 L195.16,465.09 L194.78,466.24 L194.10,467.84 L193.60,468.82 L192.94,469.45 L192.04,470.26 L190.48,469.97 L190.01,469.45 L188.92,468.02 L188.82,467.84 L188.00,466.24 L187.46,464.63 L187.36,464.30 L186.58,463.03 L185.96,461.42 L185.80,460.91 L185.69,461.42 L185.37,463.03 L185.15,464.63 L185.03,466.24 L185.00,467.84 L185.04,469.45 L185.13,471.05 L185.23,472.66 L185.34,474.26 L185.45,475.87 L185.54,477.47 L185.62,479.08 L185.68,480.68 L185.72,482.29 L185.74,483.89 L185.74,485.50 L185.80,485.50 L187.36,485.50 L188.27,485.50 L188.38,483.89 L188.51,482.29 L188.72,480.68 L188.92,479.69 L190.06,479.08 L190.48,478.96 L192.04,478.80 L193.60,477.72 L193.78,477.47 L194.86,475.87 L195.16,475.33 L195.66,474.26 L196.27,472.66 L196.71,471.05 L196.72,471.03 L197.23,469.45 L197.61,467.84 L197.91,466.24 L198.13,464.63 L198.28,463.26 L198.33,463.03 L198.61,461.42 L198.82,459.82 L198.99,458.21 L199.12,456.61 L199.21,455.00 L199.27,453.40 L199.32,451.79 L199.34,450.19 L199.33,448.58 L199.31,446.98 L199.27,445.37 L199.20,443.77 L199.10,442.16 L198.97,440.56 L198.80,438.95 L198.57,437.35 L198.28,435.74 L198.28,435.74 L198.10,434.14 L197.87,432.53 L197.56,430.93 L197.16,429.32 L196.72,427.96 L196.66,427.72 L196.19,426.11 L195.56,424.51 L195.16,423.67 L194.72,422.90 L193.60,421.31 L193.58,421.30 L192.04,420.26 L190.48,420.44 L189.28,421.30 L188.92,421.55 L187.36,422.33 L186.68,421.30 L185.80,419.98 L185.73,419.69 L185.30,418.09 L184.74,416.48 L184.24,415.32 L184.11,414.88 L183.57,413.27 L182.84,411.67 L182.68,411.36 L182.09,410.06 L181.13,408.46 L181.13,408.45 L179.97,406.85 L179.57,406.35 L178.11,405.25 L178.01,405.17 L176.45,404.81 L175.46,405.25 L174.89,405.47 L173.62,406.85 L173.33,407.20 L172.57,408.46 L171.83,410.06 L171.77,410.20 L171.11,411.67 L170.55,413.27 L170.21,414.52 L170.07,414.88 L169.50,416.48 L169.04,418.09 L168.68,419.69 L168.65,419.84 L168.11,421.30 L167.62,422.90 L167.22,424.51 L167.09,425.05 L166.67,426.11 L166.14,427.72 L165.73,429.32 L165.53,430.20 L165.27,430.93 L164.77,432.53 L164.39,434.14 L164.10,435.74 L163.97,436.56 L163.75,437.35 L163.38,438.95 L163.09,440.56 L162.85,442.16 L162.66,443.77 L162.50,445.37 L162.41,446.33 L162.27,446.98 L161.94,448.58 L161.62,450.19 L161.28,451.79 L160.89,453.40 L160.85,453.53 L159.48,455.00 L159.29,455.17 L157.73,455.94 L157.01,456.61 L156.17,457.39 L155.63,458.21 L154.76,459.82 L154.61,460.12 L154.04,461.42 L153.49,463.03 L153.09,464.63 L153.05,464.78 L152.61,466.24 L152.24,467.84 L151.95,469.45 L151.73,471.05 L151.57,472.66 L151.49,473.51 L151.37,474.26 L151.15,475.87 L150.98,477.47 L150.85,479.08 L150.76,480.68 L150.70,482.29 L150.66,483.89 L150.65,485.50Z" fill="#00BFC4" fill-opacity="0.162" fill-rule="evenodd"/><path d="M153.00,485.50 L153.05,485.50 L154.61,485.50 L155.86,485.50 L155.89,483.89 L155.99,482.29 L156.16,480.68 L156.17,480.60 L156.47,479.08 L156.91,477.47 L157.49,475.87 L157.73,475.33 L159.01,474.26 L159.29,474.06 L160.85,473.97 L162.41,473.36 L162.90,472.66 L163.97,471.05 L163.97,471.05 L164.49,469.45 L164.93,467.84 L165.29,466.24 L165.53,464.94 L165.57,464.63 L165.72,463.03 L165.84,461.42 L165.95,459.82 L166.04,458.21 L166.14,456.61 L166.24,455.00 L166.36,453.40 L166.50,451.79 L166.68,450.19 L166.90,448.58 L167.09,447.43 L167.15,446.98 L167.38,445.37 L167.66,443.77 L167.99,442.16 L168.39,440.56 L168.65,439.66 L168.80,438.95 L169.19,437.35 L169.63,435.74 L170.13,434.14 L170.21,433.90 L170.56,432.53 L171.01,430.93 L171.51,429.32 L171.77,428.58 L172.04,427.72 L172.58,426.11 L173.21,424.51 L173.33,424.23 L174.01,422.90 L174.89,421.45 L175.09,421.30 L176.45,420.28 L178.01,420.61 L178.65,421.30 L179.57,422.35 L179.87,422.90 L180.64,424.51 L181.13,425.72 L181.27,426.11 L181.78,427.72 L182.19,429.32 L182.51,430.93 L182.68,431.99 L182.80,432.53 L183.07,434.14 L183.29,435.74 L183.45,437.35 L183.57,438.95 L183.65,440.56 L183.70,442.16 L183.71,443.77 L183.69,445.37 L183.64,446.98 L183.56,448.58 L183.44,450.19 L183.29,451.79 L183.11,453.40 L182.90,455.00 L182.68,456.42 L182.67,456.61 L182.51,458.21 L182.34,459.82 L182.18,461.42 L182.01,463.03 L181.87,464.63 L181.75,466.24 L181.67,467.84 L181.65,469.45 L181.70,471.05 L181.81,472.66 L181.96,474.26 L182.16,475.87 L182.36,477.47 L182.56,479.08 L182.68,480.30 L182.72,480.68 L182.82,482.29 L182.88,483.89 L182.88,485.50 L184.24,485.50 L185.74,485.50 L185.74,483.89 L185.72,482.29 L185.68,480.68 L185.62,479.08 L185.54,477.47 L185.45,475.87 L185.34,474.26 L185.23,472.66 L185.13,471.05 L185.04,469.45 L185.00,467.84 L185.03,466.24 L185.15,464.63 L185.37,463.03 L185.69,461.42 L185.80,460.91 L185.96,461.42 L186.58,463.03 L187.36,464.30 L187.46,464.63 L188.00,466.24 L188.82,467.84 L188.92,468.02 L190.01,469.45 L190.48,469.97 L192.04,470.26 L192.94,469.45 L193.60,468.82 L194.10,467.84 L194.78,466.24 L195.16,465.09 L195.30,464.63 L195.73,463.03 L196.07,461.42 L196.32,459.82 L196.52,458.21 L196.67,456.61 L196.72,455.88 L196.81,455.00 L196.93,453.40 L197.01,451.79 L197.05,450.19 L197.04,448.58 L197.00,446.98 L196.92,445.37 L196.79,443.77 L196.72,443.12 L196.65,442.16 L196.49,440.56 L196.29,438.95 L196.02,437.35 L195.68,435.74 L195.23,434.14 L195.16,433.91 L194.69,432.53 L193.99,430.93 L193.60,430.18 L192.69,429.32 L192.04,428.75 L190.48,429.06 L190.24,429.32 L188.92,430.93 L188.92,430.93 L187.85,432.53 L187.36,433.53 L185.80,432.57 L185.80,432.53 L185.52,430.93 L185.19,429.32 L184.80,427.72 L184.33,426.11 L184.24,425.84 L183.98,424.51 L183.59,422.90 L183.08,421.30 L182.68,420.24 L182.50,419.69 L181.90,418.09 L181.13,416.52 L181.11,416.48 L180.15,414.88 L179.57,414.03 L178.72,413.27 L178.01,412.64 L176.45,412.33 L174.89,413.22 L174.85,413.27 L173.66,414.88 L173.33,415.39 L172.78,416.48 L172.12,418.09 L171.77,419.07 L171.53,419.69 L170.96,421.30 L170.50,422.90 L170.21,424.03 L170.04,424.51 L169.50,426.11 L169.05,427.72 L168.66,429.32 L168.65,429.38 L168.09,430.93 L167.62,432.53 L167.22,434.14 L167.09,434.69 L166.75,435.74 L166.30,437.35 L165.94,438.95 L165.65,440.56 L165.53,441.32 L165.33,442.16 L165.01,443.77 L164.75,445.37 L164.54,446.98 L164.36,448.58 L164.21,450.19 L164.07,451.79 L163.97,453.12 L163.93,453.40 L163.69,455.00 L163.43,456.61 L163.15,458.21 L162.82,459.82 L162.41,461.42 L162.41,461.43 L161.06,463.03 L160.85,463.24 L159.29,463.65 L157.73,464.39 L157.53,464.63 L156.28,466.24 L156.17,466.39 L155.51,467.84 L154.95,469.45 L154.61,470.64 L154.50,471.05 L154.10,472.66 L153.79,474.26 L153.56,475.87 L153.37,477.47 L153.24,479.08 L153.14,480.68 L153.07,482.29 L153.05,483.03 L153.02,483.89 L153.00,485.50ZM192.04,458.90 L190.69,458.21 L190.48,458.09 L190.00,456.61 L189.61,455.00 L189.33,453.40 L189.15,451.79 L189.06,450.19 L189.06,448.58 L189.14,446.98 L189.33,445.37 L189.62,443.77 L190.03,442.16 L190.48,440.86 L191.04,440.56 L192.04,440.09 L192.30,440.56 L193.03,442.16 L193.57,443.77 L193.60,443.88 L193.81,445.37 L193.96,446.98 L194.04,448.58 L194.04,450.19 L193.98,451.79 L193.84,453.40 L193.62,455.00 L193.60,455.12 L193.12,456.61 L192.42,458.21 L192.04,458.90Z" fill="#00BFC4" fill-opacity="0.43" fill-rule="evenodd"/><path d="M155.86,485.50 L156.17,485.50 L157.73,485.50 L159.29,485.50 L160.85,485.50 L162.41,485.50 L163.97,485.50 L165.53,485.50 L167.09,485.50 L167.92,485.50 L167.73,483.89 L167.67,482.29 L167.72,480.68 L167.84,479.08 L168.01,477.47 L168.19,475.87 L168.38,474.26 L168.56,472.66 L168.65,471.67 L168.70,471.05 L168.82,469.45 L168.90,467.84 L168.95,466.24 L168.97,464.63 L168.97,463.03 L168.97,461.42 L168.97,459.82 L168.98,458.21 L169.02,456.61 L169.08,455.00 L169.17,453.40 L169.30,451.79 L169.47,450.19 L169.68,448.58 L169.94,446.98 L170.21,445.59 L170.24,445.37 L170.55,443.77 L170.89,442.16 L171.28,440.56 L171.71,438.95 L171.77,438.76 L172.15,437.35 L172.63,435.74 L173.15,434.14 L173.33,433.63 L173.79,432.53 L174.53,430.93 L174.89,430.22 L175.85,429.32 L176.45,428.78 L178.01,429.32 L178.01,429.32 L178.97,430.93 L179.57,432.16 L179.69,432.53 L180.13,434.14 L180.48,435.74 L180.75,437.35 L180.94,438.95 L181.08,440.56 L181.13,441.47 L181.16,442.16 L181.20,443.77 L181.20,445.37 L181.15,446.98 L181.13,447.50 L181.07,448.58 L180.97,450.19 L180.83,451.79 L180.67,453.40 L180.47,455.00 L180.24,456.61 L179.98,458.21 L179.68,459.82 L179.57,460.41 L179.35,461.42 L179.00,463.03 L178.60,464.63 L178.17,466.24 L178.01,466.85 L177.68,467.84 L177.19,469.45 L176.72,471.05 L176.45,472.07 L176.30,472.66 L175.99,474.26 L175.75,475.87 L175.56,477.47 L175.38,479.08 L175.19,480.68 L174.96,482.29 L174.89,482.67 L174.69,483.89 L174.37,485.50 L174.89,485.50 L176.45,485.50 L178.01,485.50 L179.57,485.50 L181.13,485.50 L182.68,485.50 L182.88,485.50 L182.88,483.89 L182.82,482.29 L182.72,480.68 L182.68,480.30 L182.56,479.08 L182.36,477.47 L182.16,475.87 L181.96,474.26 L181.81,472.66 L181.70,471.05 L181.65,469.45 L181.67,467.84 L181.75,466.24 L181.87,464.63 L182.01,463.03 L182.18,461.42 L182.34,459.82 L182.51,458.21 L182.67,456.61 L182.68,456.42 L182.90,455.00 L183.11,453.40 L183.29,451.79 L183.44,450.19 L183.56,448.58 L183.64,446.98 L183.69,445.37 L183.71,443.77 L183.70,442.16 L183.65,440.56 L183.57,438.95 L183.45,437.35 L183.29,435.74 L183.07,434.14 L182.80,432.53 L182.68,431.99 L182.51,430.93 L182.19,429.32 L181.78,427.72 L181.27,426.11 L181.13,425.72 L180.64,424.51 L179.87,422.90 L179.57,422.35 L178.65,421.30 L178.01,420.61 L176.45,420.28 L175.09,421.30 L174.89,421.45 L174.01,422.90 L173.33,424.23 L173.21,424.51 L172.58,426.11 L172.04,427.72 L171.77,428.58 L171.51,429.32 L171.01,430.93 L170.56,432.53 L170.21,433.90 L170.13,434.14 L169.63,435.74 L169.19,437.35 L168.80,438.95 L168.65,439.66 L168.39,440.56 L167.99,442.16 L167.66,443.77 L167.38,445.37 L167.15,446.98 L167.09,447.43 L166.90,448.58 L166.68,450.19 L166.50,451.79 L166.36,453.40 L166.24,455.00 L166.14,456.61 L166.04,458.21 L165.95,459.82 L165.84,461.42 L165.72,463.03 L165.57,464.63 L165.53,464.94 L165.29,466.24 L164.93,467.84 L164.49,469.45 L163.97,471.05 L163.97,471.05 L162.90,472.66 L162.41,473.36 L160.85,473.97 L159.29,474.06 L159.01,474.26 L157.73,475.33 L157.49,475.87 L156.91,477.47 L156.47,479.08 L156.17,480.60 L156.16,480.68 L155.99,482.29 L155.89,483.89 L155.86,485.50ZM190.69,458.21 L192.04,458.90 L192.42,458.21 L193.12,456.61 L193.60,455.12 L193.62,455.00 L193.84,453.40 L193.98,451.79 L194.04,450.19 L194.04,448.58 L193.96,446.98 L193.81,445.37 L193.60,443.88 L193.57,443.77 L193.03,442.16 L192.30,440.56 L192.04,440.09 L191.04,440.56 L190.48,440.86 L190.03,442.16 L189.62,443.77 L189.33,445.37 L189.14,446.98 L189.06,448.58 L189.06,450.19 L189.15,451.79 L189.33,453.40 L189.61,455.00 L190.00,456.61 L190.48,458.09 L190.69,458.21Z" fill="#00BFC4" fill-opacity="0.72" fill-rule="evenodd"/><path d="M167.92,485.50 L168.65,485.50 L170.21,485.50 L171.77,485.50 L173.33,485.50 L174.37,485.50 L174.69,483.89 L174.89,482.67 L174.96,482.29 L175.19,480.68 L175.38,479.08 L175.56,477.47 L175.75,475.87 L175.99,474.26 L176.30,472.66 L176.45,472.07 L176.72,471.05 L177.19,469.45 L177.68,467.84 L178.01,466.85 L178.17,466.24 L178.60,464.63 L179.00,463.03 L179.35,461.42 L179.57,460.41 L179.68,459.82 L179.98,458.21 L180.24,456.61 L180.47,455.00 L180.67,453.40 L180.83,451.79 L180.97,450.19 L181.07,448.58 L181.13,447.50 L181.15,446.98 L181.20,445.37 L181.20,443.77 L181.16,442.16 L181.13,441.47 L181.08,440.56 L180.94,438.95 L180.75,437.35 L180.48,435.74 L180.13,434.14 L179.69,432.53 L179.57,432.16 L178.97,430.93 L178.01,429.32 L178.01,429.32 L176.45,428.78 L175.85,429.32 L174.89,430.22 L174.53,430.93 L173.79,432.53 L173.33,433.63 L173.15,434.14 L172.63,435.74 L172.15,437.35 L171.77,438.76 L171.71,438.95 L171.28,440.56 L170.89,442.16 L170.55,443.77 L170.24,445.37 L170.21,445.59 L169.94,446.98 L169.68,448.58 L169.47,450.19 L169.30,451.79 L169.17,453.40 L169.08,455.00 L169.02,456.61 L168.98,458.21 L168.97,459.82 L168.97,461.42 L168.97,463.03 L168.97,464.63 L168.95,466.24 L168.90,467.84 L168.82,469.45 L168.70,471.05 L168.65,471.67 L168.56,472.66 L168.38,474.26 L168.19,475.87 L168.01,477.47 L167.84,479.08 L167.72,480.68 L167.67,482.29 L167.73,483.89 L167.92,485.50Z" fill="#00BFC4" fill-opacity="1.0" fill-rule="evenodd"/>
<ellipse cx="47.0" cy="334.8" rx="2.2" ry="1.85" fill="#F8766D" stroke="#000" stroke-width="0.75"/><ellipse cx="92.6" cy="326.6" rx="2.2" ry="1.85" fill="#F8766D" stroke="#000" stroke-width="0.75"/><ellipse cx="99.1" cy="326.6" rx="2.2" ry="1.85" fill="#F8766D" stroke="#000" stroke-width="0.75"/><ellipse cx="116.9" cy="326.6" rx="2.2" ry="1.85" fill="#F8766D" stroke="#000" stroke-width="0.75"/><ellipse cx="115.2" cy="339.0" rx="2.2" ry="1.85" fill="#F8766D" stroke="#000" stroke-width="0.75"/><ellipse cx="130.0" cy="351.3" rx="2.2" ry="1.85" fill="#F8766D" stroke="#000" stroke-width="0.75"/><ellipse cx="131.0" cy="352.0" rx="2.2" ry="1.85" fill="#F8766D" stroke="#000" stroke-width="0.75"/><ellipse cx="154.4" cy="326.6" rx="2.2" ry="1.85" fill="#F8766D" stroke="#000" stroke-width="0.75"/><ellipse cx="150.9" cy="332.4" rx="2.2" ry="1.85" fill="#F8766D" stroke="#000" stroke-width="0.75"/><ellipse cx="140.8" cy="338.1" rx="2.2" ry="1.85" fill="#F8766D" stroke="#000" stroke-width="0.75"/><ellipse cx="143.6" cy="339.8" rx="2.2" ry="1.85" fill="#F8766D" stroke="#000" stroke-width="0.75"/><ellipse cx="201.4" cy="355.1" rx="2.2" ry="1.85" fill="#F8766D" stroke="#000" stroke-width="0.75"/><ellipse cx="176.2" cy="435.0" rx="2.2" ry="1.85" fill="#00BFC4" stroke="#000" stroke-width="0.75"/><ellipse cx="179.9" cy="441.1" rx="2.2" ry="1.85" fill="#00BFC4" stroke="#000" stroke-width="0.75"/><ellipse cx="173.6" cy="450.8" rx="2.2" ry="1.85" fill="#00BFC4" stroke="#000" stroke-width="0.75"/><ellipse cx="175.5" cy="451.2" rx="2.2" ry="1.85" fill="#00BFC4" stroke="#000" stroke-width="0.75"/><ellipse cx="177.1" cy="454.3" rx="2.2" ry="1.85" fill="#00BFC4" stroke="#000" stroke-width="0.75"/><ellipse cx="169.8" cy="456.4" rx="2.2" ry="1.85" fill="#00BFC4" stroke="#000" stroke-width="0.75"/><ellipse cx="191.6" cy="449.5" rx="2.2" ry="1.85" fill="#00BFC4" stroke="#000" stroke-width="0.75"/><ellipse cx="172.4" cy="478.8" rx="2.2" ry="1.85" fill="#00BFC4" stroke="#000" stroke-width="0.75"/><ellipse cx="158.4" cy="485.5" rx="2.2" ry="1.85" fill="#00BFC4" stroke="#000" stroke-width="0.75"/><ellipse cx="165.4" cy="485.5" rx="2.2" ry="1.85" fill="#00BFC4" stroke="#000" stroke-width="0.75"/><ellipse cx="171.5" cy="485.5" rx="2.2" ry="1.85" fill="#00BFC4" stroke="#000" stroke-width="0.75"/><ellipse cx="180.3" cy="485.5" rx="2.2" ry="1.85" fill="#00BFC4" stroke="#000" stroke-width="0.75"/>
<text x="43.4" y="312.3" font-family="Liberation Sans" font-size="22" font-weight="bold" text-anchor="middle" fill="#000" >b</text><text transform="translate(82.81,313.8) scale(1,1.0)" x="0" y="0" font-family="Liberation Sans" font-size="17.75" fill="#000">Individual #</text><path transform="translate(172.62,313.80) scale(0.008667,-0.008667)" d="M763,0 L583,0 L583,1147 Q518,1085 412,1023 Q306,961 222,930 L222,1104 Q373,1175 486,1276 Q599,1377 646,1472 L763,1472 Z" fill="#000"/><path transform="translate(23.34,334.00) scale(0.007568,-0.007568)" d="M763,0 L583,0 L583,1147 Q518,1085 412,1023 Q306,961 222,930 L222,1104 Q373,1175 486,1276 Q599,1377 646,1472 L763,1472 Z" fill="#000"/><rect x="33.9" y="328.05" width="5.00" height="1.3" fill="#000"/><path transform="translate(16.66,495.20) scale(0.007568,-0.007568)" d="M91,442 L91,622 L591,622 L591,442 Z" fill="#000"/><path transform="translate(21.82,495.20) scale(0.007568,-0.007568)" d="M763,0 L583,0 L583,1147 Q518,1085 412,1023 Q306,961 222,930 L222,1104 Q373,1175 486,1276 Q599,1377 646,1472 L763,1472 Z" fill="#000"/><rect x="34.1" y="488.55" width="4.90" height="1.3" fill="#000"/><path transform="translate(40.66,520.00) scale(0.007568,-0.007568)" d="M91,442 L91,622 L591,622 L591,442 Z" fill="#000"/><path transform="translate(45.82,520.00) scale(0.007568,-0.007568)" d="M763,0 L583,0 L583,1147 Q518,1085 412,1023 Q306,961 222,930 L222,1104 Q373,1175 486,1276 Q599,1377 646,1472 L763,1472 Z" fill="#000"/><rect x="46.75" y="498.4" width="1.5" height="5.10" fill="#000"/><path transform="translate(196.44,521.50) scale(0.007568,-0.007568)" d="M763,0 L583,0 L583,1147 Q518,1085 412,1023 Q306,961 222,930 L222,1104 Q373,1175 486,1276 Q599,1377 646,1472 L763,1472 Z" fill="#000"/><rect x="200.45" y="498.4" width="1.5" height="5.10" fill="#000"/><g transform="translate(94.60,524.20)"><text transform="translate(3.25,0) scale(1.0,1)" font-family="Liberation Serif" font-size="14.2" text-anchor="middle" fill="#000">z</text><text transform="translate(13.55,-4.9) scale(1.05,1)" font-family="Liberation Serif" font-size="9.6" text-anchor="middle" fill="#000">(3)</text><text transform="translate(24.4,0) scale(1.15,1)" font-family="Liberation Serif" font-size="14.2" text-anchor="middle" fill="#000">μ</text><text transform="translate(38.0,0) scale(1.0,1)" font-family="Liberation Serif" font-size="14.2" text-anchor="middle" fill="#000">#</text><text transform="translate(46.9,0) scale(1.2,1)" font-family="Liberation Serif" font-size="14.2" text-anchor="middle" fill="#000">1</text></g><g transform="translate(25.80,415.10) rotate(-90) translate(-25.2,0)"><text transform="translate(3.25,0) scale(1.0,1)" font-family="Liberation Serif" font-size="14.2" text-anchor="middle" fill="#000">z</text><text transform="translate(13.55,-4.9) scale(1.05,1)" font-family="Liberation Serif" font-size="9.6" text-anchor="middle" fill="#000">(3)</text><text transform="translate(24.4,0) scale(1.15,1)" font-family="Liberation Serif" font-size="14.2" text-anchor="middle" fill="#000">μ</text><text transform="translate(38.0,0) scale(1.0,1)" font-family="Liberation Serif" font-size="14.2" text-anchor="middle" fill="#000">#</text><text transform="translate(46.9,0) scale(1.2,1)" font-family="Liberation Serif" font-size="14.2" text-anchor="middle" fill="#000">2</text></g>
<rect x="268.2" y="323.9" width="167.30" height="174.50" fill="#EBEBEB"/><line x1="275.40" y1="323.9" x2="275.40" y2="498.4" stroke="#fff" stroke-width="1.0"/><line x1="268.2" y1="491.20" x2="435.5" y2="491.20" stroke="#fff" stroke-width="1.0"/><line x1="294.49" y1="323.9" x2="294.49" y2="498.4" stroke="#fff" stroke-width="0.55"/><line x1="268.2" y1="471.34" x2="435.5" y2="471.34" stroke="#fff" stroke-width="0.45"/><line x1="313.57" y1="323.9" x2="313.57" y2="498.4" stroke="#fff" stroke-width="1.0"/><line x1="268.2" y1="451.48" x2="435.5" y2="451.48" stroke="#fff" stroke-width="1.0"/><line x1="332.66" y1="323.9" x2="332.66" y2="498.4" stroke="#fff" stroke-width="0.55"/><line x1="268.2" y1="431.61" x2="435.5" y2="431.61" stroke="#fff" stroke-width="0.45"/><line x1="351.75" y1="323.9" x2="351.75" y2="498.4" stroke="#fff" stroke-width="1.0"/><line x1="268.2" y1="411.75" x2="435.5" y2="411.75" stroke="#fff" stroke-width="1.0"/><line x1="370.84" y1="323.9" x2="370.84" y2="498.4" stroke="#fff" stroke-width="0.55"/><line x1="268.2" y1="391.89" x2="435.5" y2="391.89" stroke="#fff" stroke-width="0.45"/><line x1="389.93" y1="323.9" x2="389.93" y2="498.4" stroke="#fff" stroke-width="1.0"/><line x1="268.2" y1="372.02" x2="435.5" y2="372.02" stroke="#fff" stroke-width="1.0"/><line x1="409.01" y1="323.9" x2="409.01" y2="498.4" stroke="#fff" stroke-width="0.55"/><line x1="268.2" y1="352.16" x2="435.5" y2="352.16" stroke="#fff" stroke-width="0.45"/><line x1="428.10" y1="323.9" x2="428.10" y2="498.4" stroke="#fff" stroke-width="1.0"/><line x1="268.2" y1="332.30" x2="435.5" y2="332.30" stroke="#fff" stroke-width="1.0"/><rect x="274.80" y="498.40" width="1.2" height="1.1" fill="#666"/><rect x="267.10" y="490.60" width="1.1" height="1.2" fill="#666"/><rect x="312.97" y="498.40" width="1.2" height="1.1" fill="#666"/><rect x="267.10" y="450.88" width="1.1" height="1.2" fill="#666"/><rect x="351.15" y="498.40" width="1.2" height="1.1" fill="#666"/><rect x="267.10" y="411.15" width="1.1" height="1.2" fill="#666"/><rect x="389.32" y="498.40" width="1.2" height="1.1" fill="#666"/><rect x="267.10" y="371.42" width="1.1" height="1.2" fill="#666"/><rect x="427.50" y="498.40" width="1.2" height="1.1" fill="#666"/><rect x="267.10" y="331.70" width="1.1" height="1.2" fill="#666"/>
<path d="M356.84,422.18 L357.15,422.50 L358.69,423.54 L360.23,423.78 L361.78,423.64 L363.32,422.92 L364.07,422.18 L364.86,421.26 L365.40,420.58 L366.28,418.97 L366.40,418.73 L367.81,417.37 L367.95,417.29 L369.49,416.62 L370.48,415.76 L371.03,415.25 L371.91,414.16 L372.54,412.55 L372.57,412.39 L373.18,410.95 L373.43,409.34 L373.42,407.74 L373.15,406.13 L372.57,404.74 L372.53,404.53 L372.11,402.92 L371.27,401.32 L371.03,400.93 L370.65,399.71 L369.71,398.11 L369.49,397.81 L368.66,396.50 L367.95,395.72 L366.62,394.90 L366.40,394.72 L364.86,394.05 L363.32,393.92 L361.78,393.93 L360.23,393.82 L358.69,393.66 L357.15,393.43 L356.53,393.29 L355.61,392.88 L354.06,392.54 L352.52,392.77 L351.68,393.29 L350.98,393.61 L349.73,394.90 L349.44,395.35 L348.66,396.50 L348.14,398.11 L347.94,399.71 L347.89,401.20 L347.88,401.32 L347.89,402.47 L347.90,402.92 L347.89,402.95 L347.54,404.53 L346.54,406.13 L346.35,406.38 L345.36,407.74 L344.83,409.34 L344.81,409.49 L344.26,410.95 L344.08,412.55 L344.17,414.16 L344.63,415.76 L344.81,416.13 L345.14,417.37 L346.23,418.97 L346.35,419.11 L347.89,420.47 L348.25,420.58 L349.44,421.15 L350.98,421.10 L352.00,420.58 L352.52,420.40 L354.06,419.58 L355.61,420.58 L355.61,420.58 L356.84,422.18ZM358.69,421.32 L357.84,420.58 L357.15,419.85 L356.49,418.97 L355.79,417.37 L355.61,416.53 L354.06,415.76 L354.06,415.76 L354.06,415.76 L353.00,417.37 L352.52,417.81 L350.98,418.72 L349.44,418.77 L347.89,417.98 L347.33,417.37 L346.43,415.76 L346.35,415.48 L345.88,414.16 L345.75,412.55 L346.00,410.95 L346.35,410.12 L346.62,409.34 L347.77,407.74 L347.89,407.59 L349.44,406.24 L349.59,406.13 L349.82,404.53 L349.58,402.92 L349.47,401.32 L349.55,399.71 L349.92,398.11 L350.90,396.50 L350.98,396.41 L352.52,395.16 L354.06,394.93 L355.61,395.18 L357.15,395.59 L358.69,395.78 L360.23,395.90 L361.78,395.99 L363.32,395.94 L364.86,396.12 L365.60,396.50 L366.40,396.79 L367.77,398.11 L367.95,398.32 L368.94,399.71 L369.49,401.19 L369.56,401.32 L370.39,402.92 L370.90,404.53 L371.03,405.06 L371.47,406.13 L371.78,407.74 L371.78,409.34 L371.43,410.95 L371.03,411.77 L370.70,412.55 L369.49,414.01 L369.25,414.16 L367.95,415.03 L366.40,415.71 L366.35,415.76 L365.35,417.37 L364.86,418.09 L364.43,418.97 L363.32,420.37 L363.05,420.58 L361.78,421.55 L360.23,421.79 L358.69,421.32Z" fill="#F8766D" fill-opacity="0.162" fill-rule="evenodd"/><path d="M357.84,420.58 L358.69,421.32 L360.23,421.79 L361.78,421.55 L363.05,420.58 L363.32,420.37 L364.43,418.97 L364.86,418.09 L365.35,417.37 L366.35,415.76 L366.40,415.71 L367.95,415.03 L369.25,414.16 L369.49,414.01 L370.70,412.55 L371.03,411.77 L371.43,410.95 L371.78,409.34 L371.78,407.74 L371.47,406.13 L371.03,405.06 L370.90,404.53 L370.39,402.92 L369.56,401.32 L369.49,401.19 L368.94,399.71 L367.95,398.32 L367.77,398.11 L366.40,396.79 L365.60,396.50 L364.86,396.12 L363.32,395.94 L361.78,395.99 L360.23,395.90 L358.69,395.78 L357.15,395.59 L355.61,395.18 L354.06,394.93 L352.52,395.16 L350.98,396.41 L350.90,396.50 L349.92,398.11 L349.55,399.71 L349.47,401.32 L349.58,402.92 L349.82,404.53 L349.59,406.13 L349.44,406.24 L347.89,407.59 L347.77,407.74 L346.62,409.34 L346.35,410.12 L346.00,410.95 L345.75,412.55 L345.88,414.16 L346.35,415.48 L346.43,415.76 L347.33,417.37 L347.89,417.98 L349.44,418.77 L350.98,418.72 L352.52,417.81 L353.00,417.37 L354.06,415.76 L354.06,415.76 L354.06,415.76 L355.61,416.53 L355.79,417.37 L356.49,418.97 L357.15,419.85 L357.84,420.58ZM360.23,419.55 L359.09,418.97 L358.69,418.76 L357.66,417.37 L357.15,415.76 L357.15,415.76 L356.88,414.16 L356.97,412.55 L357.15,411.28 L357.18,410.95 L357.15,409.81 L357.13,409.34 L356.48,407.74 L355.61,406.19 L355.53,406.13 L354.06,405.17 L353.00,404.53 L352.52,404.18 L351.71,402.92 L351.35,401.32 L351.54,399.71 L352.47,398.11 L352.52,398.05 L354.06,397.46 L355.61,397.79 L357.05,398.11 L357.15,398.12 L357.66,398.11 L358.69,398.07 L360.23,398.07 L361.78,398.09 L363.32,397.98 L364.15,398.11 L364.86,398.18 L366.40,399.03 L367.01,399.71 L367.92,401.32 L367.95,401.37 L368.70,402.92 L369.21,404.53 L369.49,405.64 L369.67,406.13 L369.99,407.74 L369.91,409.34 L369.49,410.54 L369.31,410.95 L367.95,412.38 L367.55,412.55 L366.40,413.09 L364.99,414.16 L364.86,414.30 L364.25,415.76 L363.39,417.37 L363.32,417.47 L361.97,418.97 L361.78,419.15 L360.23,419.55ZM349.44,416.01 L349.14,415.76 L347.98,414.16 L347.89,413.63 L347.75,412.55 L347.89,411.96 L348.21,410.95 L349.44,409.57 L350.98,409.60 L352.05,410.95 L352.45,412.55 L352.22,414.16 L351.13,415.76 L350.98,415.90 L349.44,416.01Z" fill="#F8766D" fill-opacity="0.43" fill-rule="evenodd"/><path d="M359.09,418.97 L360.23,419.55 L361.78,419.15 L361.97,418.97 L363.32,417.47 L363.39,417.37 L364.25,415.76 L364.86,414.30 L364.99,414.16 L366.40,413.09 L367.55,412.55 L367.95,412.38 L369.31,410.95 L369.49,410.54 L369.91,409.34 L369.99,407.74 L369.67,406.13 L369.49,405.64 L369.21,404.53 L368.70,402.92 L367.95,401.37 L367.92,401.32 L367.01,399.71 L366.40,399.03 L364.86,398.18 L364.15,398.11 L363.32,397.98 L361.78,398.09 L360.23,398.07 L358.69,398.07 L357.66,398.11 L357.15,398.12 L357.05,398.11 L355.61,397.79 L354.06,397.46 L352.52,398.05 L352.47,398.11 L351.54,399.71 L351.35,401.32 L351.71,402.92 L352.52,404.18 L353.00,404.53 L354.06,405.17 L355.53,406.13 L355.61,406.19 L356.48,407.74 L357.13,409.34 L357.15,409.81 L357.18,410.95 L357.15,411.28 L356.97,412.55 L356.88,414.16 L357.15,415.76 L357.15,415.76 L357.66,417.37 L358.69,418.76 L359.09,418.97ZM360.23,417.03 L358.98,415.76 L358.69,414.92 L358.53,414.16 L358.61,412.55 L358.69,412.04 L358.90,410.95 L358.95,409.34 L358.69,408.45 L358.49,407.74 L357.76,406.13 L357.15,404.62 L357.09,404.53 L356.56,402.92 L357.15,401.46 L357.21,401.32 L358.69,400.42 L360.23,400.13 L361.78,400.02 L363.32,399.88 L364.86,400.14 L366.18,401.32 L366.40,401.62 L367.07,402.92 L367.54,404.53 L367.85,406.13 L367.95,407.74 L367.39,409.34 L366.40,410.22 L365.02,410.95 L364.86,411.03 L363.57,412.55 L363.32,413.07 L362.92,414.16 L362.23,415.76 L361.78,416.43 L360.23,417.03ZM349.14,415.76 L349.44,416.01 L350.98,415.90 L351.13,415.76 L352.22,414.16 L352.45,412.55 L352.05,410.95 L350.98,409.60 L349.44,409.57 L348.21,410.95 L347.89,411.96 L347.75,412.55 L347.89,413.63 L347.98,414.16 L349.14,415.76Z" fill="#F8766D" fill-opacity="0.72" fill-rule="evenodd"/><path d="M358.98,415.76 L360.23,417.03 L361.78,416.43 L362.23,415.76 L362.92,414.16 L363.32,413.07 L363.57,412.55 L364.86,411.03 L365.02,410.95 L366.40,410.22 L367.39,409.34 L367.95,407.74 L367.85,406.13 L367.54,404.53 L367.07,402.92 L366.40,401.62 L366.18,401.32 L364.86,400.14 L363.32,399.88 L361.78,400.02 L360.23,400.13 L358.69,400.42 L357.21,401.32 L357.15,401.46 L356.56,402.92 L357.09,404.53 L357.15,404.62 L357.76,406.13 L358.49,407.74 L358.69,408.45 L358.95,409.34 L358.90,410.95 L358.69,412.04 L358.61,412.55 L358.53,414.16 L358.69,414.92 L358.98,415.76Z" fill="#F8766D" fill-opacity="1.0" fill-rule="evenodd"/><path d="M388.30,491.20 L389.54,491.20 L391.08,491.20 L392.17,491.20 L391.64,489.59 L391.23,487.99 L391.08,487.29 L390.84,486.38 L390.48,484.78 L390.21,483.17 L389.99,481.57 L389.83,479.96 L389.70,478.36 L389.60,476.75 L389.54,475.50 L389.51,475.15 L389.41,473.54 L389.32,471.94 L389.22,470.33 L389.10,468.73 L388.94,467.12 L388.72,465.52 L388.44,463.91 L388.09,462.31 L388.00,461.93 L387.59,460.70 L387.06,459.10 L386.55,457.49 L386.45,457.16 L386.02,455.89 L385.55,454.28 L385.17,452.68 L384.91,451.34 L384.85,451.07 L384.54,449.47 L384.31,447.86 L384.14,446.26 L384.03,444.65 L383.97,443.05 L383.97,441.44 L384.01,439.84 L384.10,438.23 L384.25,436.63 L384.46,435.02 L384.75,433.42 L384.91,432.68 L385.07,431.81 L385.42,430.21 L385.88,428.60 L386.45,427.04 L386.47,427.00 L387.09,425.39 L387.90,423.79 L388.00,423.61 L388.89,422.18 L389.54,421.29 L390.23,420.58 L391.08,419.75 L392.41,418.97 L392.62,418.84 L394.17,418.40 L395.71,418.41 L397.25,418.80 L397.62,418.97 L398.79,419.46 L400.34,420.40 L400.57,420.58 L401.88,421.54 L402.58,422.18 L403.42,422.97 L404.15,423.79 L404.96,424.78 L405.40,425.39 L406.41,427.00 L406.51,427.16 L407.29,428.60 L407.99,430.21 L408.05,430.35 L408.66,431.81 L409.20,433.42 L409.59,434.82 L409.66,435.02 L410.13,436.63 L410.52,438.23 L410.85,439.84 L411.13,441.44 L411.13,441.44 L411.48,443.05 L411.78,444.65 L412.06,446.26 L412.31,447.86 L412.55,449.47 L412.68,450.30 L412.86,451.07 L413.25,452.68 L413.68,454.28 L414.17,455.89 L414.22,456.04 L415.36,457.49 L415.76,457.90 L417.30,458.19 L418.85,457.97 L420.39,457.67 L421.52,457.49 L421.93,457.42 L423.47,457.25 L425.02,457.22 L426.56,457.39 L426.88,457.49 L428.10,457.87 L428.10,457.49 L428.10,455.89 L428.10,454.28 L428.10,452.68 L428.10,451.07 L428.10,449.47 L428.10,448.58 L426.56,448.30 L425.02,448.23 L423.47,448.29 L421.93,448.40 L420.39,448.49 L418.85,448.38 L417.78,447.86 L417.30,447.56 L416.55,446.26 L415.76,444.65 L415.76,444.65 L415.41,443.05 L415.05,441.44 L414.68,439.84 L414.27,438.23 L414.22,438.05 L413.99,436.63 L413.68,435.02 L413.31,433.42 L412.86,431.81 L412.68,431.24 L412.44,430.21 L412.01,428.60 L411.45,427.00 L411.13,426.22 L410.86,425.39 L410.23,423.79 L409.59,422.51 L409.44,422.18 L408.63,420.58 L408.05,419.64 L407.63,418.97 L406.51,417.45 L406.44,417.37 L405.04,415.76 L404.96,415.68 L403.42,414.23 L403.32,414.16 L401.88,413.01 L401.15,412.55 L400.34,412.01 L398.79,411.22 L398.03,410.95 L397.25,410.62 L395.71,410.27 L394.17,410.23 L392.62,410.56 L391.82,410.95 L391.08,411.26 L389.54,412.39 L389.38,412.55 L388.00,414.00 L387.87,414.16 L386.70,415.76 L386.45,416.16 L385.72,417.37 L384.96,418.97 L384.91,419.08 L384.19,420.58 L383.61,422.18 L383.37,422.99 L383.07,423.79 L382.55,425.39 L382.16,427.00 L381.86,428.60 L381.83,428.78 L381.48,430.21 L381.17,431.81 L380.93,433.42 L380.75,435.02 L380.62,436.63 L380.52,438.23 L380.46,439.84 L380.43,441.44 L380.42,443.05 L380.45,444.65 L380.51,446.26 L380.60,447.86 L380.73,449.47 L380.91,451.07 L381.14,452.68 L381.45,454.28 L381.83,455.83 L381.84,455.89 L382.14,457.49 L382.53,459.10 L383.01,460.70 L383.37,461.74 L383.52,462.31 L383.96,463.91 L384.44,465.52 L384.91,466.99 L384.94,467.12 L385.24,468.73 L385.50,470.33 L385.73,471.94 L385.93,473.54 L386.11,475.15 L386.29,476.75 L386.45,478.18 L386.47,478.36 L386.57,479.96 L386.70,481.57 L386.86,483.17 L387.05,484.78 L387.30,486.38 L387.61,487.99 L388.00,489.53 L388.01,489.59 L388.30,491.20Z" fill="#00BFC4" fill-opacity="0.162" fill-rule="evenodd"/><path d="M392.17,491.20 L392.62,491.20 L394.17,491.20 L395.71,491.20 L396.75,491.20 L395.73,489.59 L395.71,489.55 L394.96,487.99 L394.35,486.38 L394.17,485.79 L393.85,484.78 L393.44,483.17 L393.13,481.57 L392.89,479.96 L392.72,478.36 L392.62,477.17 L392.58,476.75 L392.48,475.15 L392.42,473.54 L392.39,471.94 L392.39,470.33 L392.41,468.73 L392.42,467.12 L392.42,465.52 L392.37,463.91 L392.27,462.31 L392.08,460.70 L391.79,459.10 L391.38,457.49 L391.08,456.56 L390.84,455.89 L390.23,454.28 L389.63,452.68 L389.54,452.42 L389.08,451.07 L388.62,449.47 L388.26,447.86 L388.00,446.34 L387.98,446.26 L387.79,444.65 L387.68,443.05 L387.65,441.44 L387.70,439.84 L387.84,438.23 L388.00,437.14 L388.07,436.63 L388.38,435.02 L388.80,433.42 L389.35,431.81 L389.54,431.36 L390.12,430.21 L391.08,428.65 L391.13,428.60 L392.62,427.17 L393.01,427.00 L394.17,426.49 L395.71,426.43 L397.25,426.85 L397.53,427.00 L398.79,427.63 L400.16,428.60 L400.34,428.73 L401.88,430.13 L401.95,430.21 L403.29,431.81 L403.42,431.98 L404.34,433.42 L404.96,434.52 L405.21,435.02 L405.91,436.63 L406.51,438.23 L406.51,438.23 L407.02,439.84 L407.46,441.44 L407.84,443.05 L408.05,444.08 L408.17,444.65 L408.49,446.26 L408.77,447.86 L409.02,449.47 L409.24,451.07 L409.45,452.68 L409.59,453.85 L409.65,454.28 L409.88,455.89 L410.11,457.49 L410.33,459.10 L410.57,460.70 L410.81,462.31 L411.09,463.91 L411.13,464.17 L411.54,465.52 L412.12,467.12 L412.68,468.38 L413.04,468.73 L414.22,469.72 L415.76,469.86 L417.30,469.43 L418.85,468.82 L419.14,468.73 L420.39,468.34 L421.93,468.06 L423.47,467.99 L425.02,468.17 L426.40,468.73 L426.56,468.81 L427.97,470.33 L428.10,470.53 L428.10,470.33 L428.10,468.73 L428.10,467.12 L428.10,465.52 L428.10,463.91 L428.10,462.31 L428.10,460.70 L428.10,459.10 L428.10,457.87 L426.88,457.49 L426.56,457.39 L425.02,457.22 L423.47,457.25 L421.93,457.42 L421.52,457.49 L420.39,457.67 L418.85,457.97 L417.30,458.19 L415.76,457.90 L415.36,457.49 L414.22,456.04 L414.17,455.89 L413.68,454.28 L413.25,452.68 L412.86,451.07 L412.68,450.30 L412.55,449.47 L412.31,447.86 L412.06,446.26 L411.78,444.65 L411.48,443.05 L411.13,441.44 L411.13,441.44 L410.85,439.84 L410.52,438.23 L410.13,436.63 L409.66,435.02 L409.59,434.82 L409.20,433.42 L408.66,431.81 L408.05,430.35 L407.99,430.21 L407.29,428.60 L406.51,427.16 L406.41,427.00 L405.40,425.39 L404.96,424.78 L404.15,423.79 L403.42,422.97 L402.58,422.18 L401.88,421.54 L400.57,420.58 L400.34,420.40 L398.79,419.46 L397.62,418.97 L397.25,418.80 L395.71,418.41 L394.17,418.40 L392.62,418.84 L392.41,418.97 L391.08,419.75 L390.23,420.58 L389.54,421.29 L388.89,422.18 L388.00,423.61 L387.90,423.79 L387.09,425.39 L386.47,427.00 L386.45,427.04 L385.88,428.60 L385.42,430.21 L385.07,431.81 L384.91,432.68 L384.75,433.42 L384.46,435.02 L384.25,436.63 L384.10,438.23 L384.01,439.84 L383.97,441.44 L383.97,443.05 L384.03,444.65 L384.14,446.26 L384.31,447.86 L384.54,449.47 L384.85,451.07 L384.91,451.34 L385.17,452.68 L385.55,454.28 L386.02,455.89 L386.45,457.16 L386.55,457.49 L387.06,459.10 L387.59,460.70 L388.00,461.93 L388.09,462.31 L388.44,463.91 L388.72,465.52 L388.94,467.12 L389.10,468.73 L389.22,470.33 L389.32,471.94 L389.41,473.54 L389.51,475.15 L389.54,475.50 L389.60,476.75 L389.70,478.36 L389.83,479.96 L389.99,481.57 L390.21,483.17 L390.48,484.78 L390.84,486.38 L391.08,487.29 L391.23,487.99 L391.64,489.59 L392.17,491.20ZM418.69,491.20 L418.85,491.20 L420.39,491.20 L421.93,491.20 L423.47,491.20 L425.02,491.20 L426.56,491.20 L428.10,491.20 L428.10,489.59 L428.10,487.99 L428.10,486.38 L428.10,484.78 L428.10,483.17 L428.10,481.57 L428.10,480.30 L427.22,481.57 L426.56,482.31 L425.48,483.17 L425.02,483.50 L423.47,484.54 L423.19,484.78 L421.93,485.85 L421.50,486.38 L420.39,487.82 L420.30,487.99 L419.45,489.59 L418.85,490.79 L418.69,491.20Z" fill="#00BFC4" fill-opacity="0.43" fill-rule="evenodd"/><path d="M396.75,491.20 L397.25,491.20 L398.79,491.20 L400.34,491.20 L401.88,491.20 L403.42,491.20 L404.96,491.20 L406.20,491.20 L404.96,490.21 L403.54,489.59 L403.42,489.55 L401.88,489.11 L400.34,488.48 L399.67,487.99 L398.79,487.34 L398.03,486.38 L397.25,485.27 L397.01,484.78 L396.33,483.17 L395.80,481.57 L395.71,481.21 L395.42,479.96 L395.15,478.36 L394.95,476.75 L394.84,475.15 L394.78,473.54 L394.78,471.94 L394.82,470.33 L394.90,468.73 L395.01,467.12 L395.13,465.52 L395.26,463.91 L395.38,462.31 L395.46,460.70 L395.49,459.10 L395.43,457.49 L395.27,455.89 L394.98,454.28 L394.55,452.68 L394.17,451.62 L393.96,451.07 L393.30,449.47 L392.62,447.86 L392.62,447.86 L392.13,446.26 L391.77,444.65 L391.55,443.05 L391.49,441.44 L391.61,439.84 L391.93,438.23 L392.45,436.63 L392.62,436.25 L393.64,435.02 L394.17,434.53 L395.71,434.16 L397.25,434.54 L398.12,435.02 L398.79,435.42 L400.27,436.63 L400.34,436.68 L401.69,438.23 L401.88,438.46 L402.71,439.84 L403.42,441.09 L403.57,441.44 L404.19,443.05 L404.75,444.65 L404.96,445.34 L405.20,446.26 L405.57,447.86 L405.90,449.47 L406.21,451.07 L406.49,452.68 L406.51,452.79 L406.73,454.28 L406.95,455.89 L407.15,457.49 L407.34,459.10 L407.53,460.70 L407.70,462.31 L407.86,463.91 L408.01,465.52 L408.05,465.94 L408.18,467.12 L408.35,468.73 L408.55,470.33 L408.76,471.94 L409.02,473.54 L409.33,475.15 L409.59,476.22 L409.79,476.75 L410.51,478.36 L411.13,479.51 L411.48,479.96 L412.62,481.57 L412.68,481.66 L413.44,483.17 L413.88,484.78 L414.03,486.38 L413.96,487.99 L413.70,489.59 L413.27,491.20 L414.22,491.20 L415.76,491.20 L417.30,491.20 L418.69,491.20 L418.85,490.79 L419.45,489.59 L420.30,487.99 L420.39,487.82 L421.50,486.38 L421.93,485.85 L423.19,484.78 L423.47,484.54 L425.02,483.50 L425.48,483.17 L426.56,482.31 L427.22,481.57 L428.10,480.30 L428.10,479.96 L428.10,478.36 L428.10,476.75 L428.10,475.15 L428.10,473.54 L428.10,471.94 L428.10,470.53 L427.97,470.33 L426.56,468.81 L426.40,468.73 L425.02,468.17 L423.47,467.99 L421.93,468.06 L420.39,468.34 L419.14,468.73 L418.85,468.82 L417.30,469.43 L415.76,469.86 L414.22,469.72 L413.04,468.73 L412.68,468.38 L412.12,467.12 L411.54,465.52 L411.13,464.17 L411.09,463.91 L410.81,462.31 L410.57,460.70 L410.33,459.10 L410.11,457.49 L409.88,455.89 L409.65,454.28 L409.59,453.85 L409.45,452.68 L409.24,451.07 L409.02,449.47 L408.77,447.86 L408.49,446.26 L408.17,444.65 L408.05,444.08 L407.84,443.05 L407.46,441.44 L407.02,439.84 L406.51,438.23 L406.51,438.23 L405.91,436.63 L405.21,435.02 L404.96,434.52 L404.34,433.42 L403.42,431.98 L403.29,431.81 L401.95,430.21 L401.88,430.13 L400.34,428.73 L400.16,428.60 L398.79,427.63 L397.53,427.00 L397.25,426.85 L395.71,426.43 L394.17,426.49 L393.01,427.00 L392.62,427.17 L391.13,428.60 L391.08,428.65 L390.12,430.21 L389.54,431.36 L389.35,431.81 L388.80,433.42 L388.38,435.02 L388.07,436.63 L388.00,437.14 L387.84,438.23 L387.70,439.84 L387.65,441.44 L387.68,443.05 L387.79,444.65 L387.98,446.26 L388.00,446.34 L388.26,447.86 L388.62,449.47 L389.08,451.07 L389.54,452.42 L389.63,452.68 L390.23,454.28 L390.84,455.89 L391.08,456.56 L391.38,457.49 L391.79,459.10 L392.08,460.70 L392.27,462.31 L392.37,463.91 L392.42,465.52 L392.42,467.12 L392.41,468.73 L392.39,470.33 L392.39,471.94 L392.42,473.54 L392.48,475.15 L392.58,476.75 L392.62,477.17 L392.72,478.36 L392.89,479.96 L393.13,481.57 L393.44,483.17 L393.85,484.78 L394.17,485.79 L394.35,486.38 L394.96,487.99 L395.71,489.55 L395.73,489.59 L396.75,491.20Z" fill="#00BFC4" fill-opacity="0.72" fill-rule="evenodd"/><path d="M403.54,489.59 L404.96,490.21 L406.20,491.20 L406.51,491.20 L408.05,491.20 L409.59,491.20 L411.13,491.20 L412.68,491.20 L413.27,491.20 L413.70,489.59 L413.96,487.99 L414.03,486.38 L413.88,484.78 L413.44,483.17 L412.68,481.66 L412.62,481.57 L411.48,479.96 L411.13,479.51 L410.51,478.36 L409.79,476.75 L409.59,476.22 L409.33,475.15 L409.02,473.54 L408.76,471.94 L408.55,470.33 L408.35,468.73 L408.18,467.12 L408.05,465.94 L408.01,465.52 L407.86,463.91 L407.70,462.31 L407.53,460.70 L407.34,459.10 L407.15,457.49 L406.95,455.89 L406.73,454.28 L406.51,452.79 L406.49,452.68 L406.21,451.07 L405.90,449.47 L405.57,447.86 L405.20,446.26 L404.96,445.34 L404.75,444.65 L404.19,443.05 L403.57,441.44 L403.42,441.09 L402.71,439.84 L401.88,438.46 L401.69,438.23 L400.34,436.68 L400.27,436.63 L398.79,435.42 L398.12,435.02 L397.25,434.54 L395.71,434.16 L394.17,434.53 L393.64,435.02 L392.62,436.25 L392.45,436.63 L391.93,438.23 L391.61,439.84 L391.49,441.44 L391.55,443.05 L391.77,444.65 L392.13,446.26 L392.62,447.86 L392.62,447.86 L393.30,449.47 L393.96,451.07 L394.17,451.62 L394.55,452.68 L394.98,454.28 L395.27,455.89 L395.43,457.49 L395.49,459.10 L395.46,460.70 L395.38,462.31 L395.26,463.91 L395.13,465.52 L395.01,467.12 L394.90,468.73 L394.82,470.33 L394.78,471.94 L394.78,473.54 L394.84,475.15 L394.95,476.75 L395.15,478.36 L395.42,479.96 L395.71,481.21 L395.80,481.57 L396.33,483.17 L397.01,484.78 L397.25,485.27 L398.03,486.38 L398.79,487.34 L399.67,487.99 L400.34,488.48 L401.88,489.11 L403.42,489.55 L403.54,489.59Z" fill="#00BFC4" fill-opacity="1.0" fill-rule="evenodd"/>
<ellipse cx="353.7" cy="401.0" rx="2.1" ry="1.8" fill="#F8766D" stroke="#000" stroke-width="0.75"/><ellipse cx="358.9" cy="402.6" rx="2.1" ry="1.8" fill="#F8766D" stroke="#000" stroke-width="0.75"/><ellipse cx="360.1" cy="404.9" rx="2.1" ry="1.8" fill="#F8766D" stroke="#000" stroke-width="0.75"/><ellipse cx="364.2" cy="403.1" rx="2.1" ry="1.8" fill="#F8766D" stroke="#000" stroke-width="0.75"/><ellipse cx="364.5" cy="403.9" rx="2.1" ry="1.8" fill="#F8766D" stroke="#000" stroke-width="0.75"/><ellipse cx="363.0" cy="407.8" rx="2.1" ry="1.8" fill="#F8766D" stroke="#000" stroke-width="0.75"/><ellipse cx="367.4" cy="408.7" rx="2.1" ry="1.8" fill="#F8766D" stroke="#000" stroke-width="0.75"/><ellipse cx="350.1" cy="412.8" rx="2.1" ry="1.8" fill="#F8766D" stroke="#000" stroke-width="0.75"/><ellipse cx="360.7" cy="412.8" rx="2.1" ry="1.8" fill="#F8766D" stroke="#000" stroke-width="0.75"/><ellipse cx="360.4" cy="415.4" rx="2.1" ry="1.8" fill="#F8766D" stroke="#000" stroke-width="0.75"/><ellipse cx="394.3" cy="437.7" rx="2.1" ry="1.8" fill="#00BFC4" stroke="#000" stroke-width="0.75"/><ellipse cx="391.9" cy="443.7" rx="2.1" ry="1.8" fill="#00BFC4" stroke="#000" stroke-width="0.75"/><ellipse cx="401.6" cy="442.1" rx="2.1" ry="1.8" fill="#00BFC4" stroke="#000" stroke-width="0.75"/><ellipse cx="402.9" cy="452.3" rx="2.1" ry="1.8" fill="#00BFC4" stroke="#000" stroke-width="0.75"/><ellipse cx="404.8" cy="465.3" rx="2.1" ry="1.8" fill="#00BFC4" stroke="#000" stroke-width="0.75"/><ellipse cx="399.3" cy="471.9" rx="2.1" ry="1.8" fill="#00BFC4" stroke="#000" stroke-width="0.75"/><ellipse cx="400.2" cy="475.0" rx="2.1" ry="1.8" fill="#00BFC4" stroke="#000" stroke-width="0.75"/><ellipse cx="399.8" cy="479.2" rx="2.1" ry="1.8" fill="#00BFC4" stroke="#000" stroke-width="0.75"/><ellipse cx="419.3" cy="476.2" rx="2.1" ry="1.8" fill="#00BFC4" stroke="#000" stroke-width="0.75"/><ellipse cx="428.1" cy="475.2" rx="2.1" ry="1.8" fill="#00BFC4" stroke="#000" stroke-width="0.75"/><ellipse cx="409.5" cy="491.2" rx="2.1" ry="1.8" fill="#00BFC4" stroke="#000" stroke-width="0.75"/><ellipse cx="412.0" cy="489.6" rx="2.1" ry="1.8" fill="#00BFC4" stroke="#000" stroke-width="0.75"/>
<text x="272.5" y="310.9" font-family="Liberation Sans" font-size="22" font-weight="bold" text-anchor="middle" fill="#000" >c</text><text transform="translate(310.36,313.7) scale(1,1.0)" x="0" y="0" font-family="Liberation Sans" font-size="17.75" fill="#000">Individual #2</text><path transform="translate(250.29,335.70) scale(0.007568,-0.007568)" d="M763,0 L583,0 L583,1147 Q518,1085 412,1023 Q306,961 222,930 L222,1104 Q373,1175 486,1276 Q599,1377 646,1472 L763,1472 Z" fill="#000"/><rect x="260.4" y="329.65" width="5.00" height="1.3" fill="#000"/><path transform="translate(243.96,497.00) scale(0.007568,-0.007568)" d="M91,442 L91,622 L591,622 L591,442 Z" fill="#000"/><path transform="translate(249.12,497.00) scale(0.007568,-0.007568)" d="M763,0 L583,0 L583,1147 Q518,1085 412,1023 Q306,961 222,930 L222,1104 Q373,1175 486,1276 Q599,1377 646,1472 L763,1472 Z" fill="#000"/><rect x="260.4" y="490.35" width="4.40" height="1.3" fill="#000"/><path transform="translate(264.41,524.50) scale(0.007568,-0.007568)" d="M91,442 L91,622 L591,622 L591,442 Z" fill="#000"/><path transform="translate(269.57,524.50) scale(0.007568,-0.007568)" d="M763,0 L583,0 L583,1147 Q518,1085 412,1023 Q306,961 222,930 L222,1104 Q373,1175 486,1276 Q599,1377 646,1472 L763,1472 Z" fill="#000"/><rect x="271.65" y="501.6" width="1.5" height="5.10" fill="#000"/><path transform="translate(423.29,523.50) scale(0.007568,-0.007568)" d="M763,0 L583,0 L583,1147 Q518,1085 412,1023 Q306,961 222,930 L222,1104 Q373,1175 486,1276 Q599,1377 646,1472 L763,1472 Z" fill="#000"/><rect x="427.35" y="501.3" width="1.5" height="4.70" fill="#000"/><g transform="translate(321.15,525.90)"><text transform="translate(3.25,0) scale(1.0,1)" font-family="Liberation Serif" font-size="14.2" text-anchor="middle" fill="#000">z</text><text transform="translate(13.55,-4.9) scale(1.05,1)" font-family="Liberation Serif" font-size="9.6" text-anchor="middle" fill="#000">(3)</text><text transform="translate(24.4,0) scale(1.15,1)" font-family="Liberation Serif" font-size="14.2" text-anchor="middle" fill="#000">μ</text><text transform="translate(38.0,0) scale(1.0,1)" font-family="Liberation Serif" font-size="14.2" text-anchor="middle" fill="#000">#</text><text transform="translate(46.9,0) scale(1.2,1)" font-family="Liberation Serif" font-size="14.2" text-anchor="middle" fill="#000">1</text></g><g transform="translate(251.80,416.40) rotate(-90) translate(-25.2,0)"><text transform="translate(3.25,0) scale(1.0,1)" font-family="Liberation Serif" font-size="14.2" text-anchor="middle" fill="#000">z</text><text transform="translate(13.55,-4.9) scale(1.05,1)" font-family="Liberation Serif" font-size="9.6" text-anchor="middle" fill="#000">(3)</text><text transform="translate(24.4,0) scale(1.15,1)" font-family="Liberation Serif" font-size="14.2" text-anchor="middle" fill="#000">μ</text><text transform="translate(38.0,0) scale(1.0,1)" font-family="Liberation Serif" font-size="14.2" text-anchor="middle" fill="#000">#</text><text transform="translate(46.9,0) scale(1.2,1)" font-family="Liberation Serif" font-size="14.2" text-anchor="middle" fill="#000">2</text></g>
<rect x="491.2" y="321.9" width="171.70" height="177.20" fill="#EBEBEB"/><line x1="499.10" y1="321.9" x2="499.10" y2="499.1" stroke="#fff" stroke-width="1.2"/><line x1="491.2" y1="491.80" x2="662.9" y2="491.80" stroke="#fff" stroke-width="1.0"/><line x1="518.62" y1="321.9" x2="518.62" y2="499.1" stroke="#fff" stroke-width="0.7"/><line x1="491.2" y1="471.60" x2="662.9" y2="471.60" stroke="#fff" stroke-width="0.55"/><line x1="538.15" y1="321.9" x2="538.15" y2="499.1" stroke="#fff" stroke-width="1.2"/><line x1="491.2" y1="451.40" x2="662.9" y2="451.40" stroke="#fff" stroke-width="1.0"/><line x1="557.67" y1="321.9" x2="557.67" y2="499.1" stroke="#fff" stroke-width="0.7"/><line x1="491.2" y1="431.20" x2="662.9" y2="431.20" stroke="#fff" stroke-width="0.55"/><line x1="577.20" y1="321.9" x2="577.20" y2="499.1" stroke="#fff" stroke-width="1.2"/><line x1="491.2" y1="411.00" x2="662.9" y2="411.00" stroke="#fff" stroke-width="1.0"/><line x1="596.73" y1="321.9" x2="596.73" y2="499.1" stroke="#fff" stroke-width="0.7"/><line x1="491.2" y1="390.80" x2="662.9" y2="390.80" stroke="#fff" stroke-width="0.55"/><line x1="616.25" y1="321.9" x2="616.25" y2="499.1" stroke="#fff" stroke-width="1.2"/><line x1="491.2" y1="370.60" x2="662.9" y2="370.60" stroke="#fff" stroke-width="1.0"/><line x1="635.77" y1="321.9" x2="635.77" y2="499.1" stroke="#fff" stroke-width="0.7"/><line x1="491.2" y1="350.40" x2="662.9" y2="350.40" stroke="#fff" stroke-width="0.55"/><line x1="655.30" y1="321.9" x2="655.30" y2="499.1" stroke="#fff" stroke-width="1.2"/><line x1="491.2" y1="330.20" x2="662.9" y2="330.20" stroke="#fff" stroke-width="1.0"/><rect x="498.50" y="499.10" width="1.2" height="1.1" fill="#666"/><rect x="490.10" y="491.20" width="1.1" height="1.2" fill="#666"/><rect x="537.55" y="499.10" width="1.2" height="1.1" fill="#666"/><rect x="490.10" y="450.80" width="1.1" height="1.2" fill="#666"/><rect x="576.60" y="499.10" width="1.2" height="1.1" fill="#666"/><rect x="490.10" y="410.40" width="1.1" height="1.2" fill="#666"/><rect x="615.65" y="499.10" width="1.2" height="1.1" fill="#666"/><rect x="490.10" y="370.00" width="1.1" height="1.2" fill="#666"/><rect x="654.70" y="499.10" width="1.2" height="1.1" fill="#666"/><rect x="490.10" y="329.60" width="1.1" height="1.2" fill="#666"/>
<path d="M581.66,429.77 L582.72,430.52 L584.30,431.02 L585.88,431.20 L587.46,431.26 L589.03,431.27 L590.61,431.23 L592.19,431.11 L593.77,430.82 L595.34,430.14 L595.95,429.77 L596.92,429.54 L598.50,428.87 L599.45,428.14 L600.08,427.80 L601.51,426.51 L601.66,426.40 L603.23,425.19 L603.60,424.87 L604.81,424.05 L605.64,423.24 L606.39,422.46 L607.23,421.61 L607.97,421.08 L609.16,419.98 L609.54,419.55 L610.57,418.35 L610.98,416.71 L610.86,415.08 L609.90,413.45 L609.54,413.09 L607.97,411.93 L607.66,411.82 L606.39,411.03 L604.81,410.65 L603.23,410.53 L601.66,410.51 L600.08,410.51 L598.50,410.52 L596.92,410.57 L595.34,410.74 L593.77,411.21 L592.77,411.82 L592.19,411.97 L590.61,412.93 L590.05,413.45 L589.03,414.66 L588.65,415.08 L587.46,415.96 L585.89,416.71 L585.88,416.71 L584.30,416.97 L582.72,417.72 L581.98,418.35 L581.14,419.13 L580.40,419.98 L579.68,421.61 L579.57,422.08 L578.97,423.24 L578.60,424.87 L578.77,426.51 L579.57,427.75 L579.74,428.14 L581.14,429.51 L581.66,429.77ZM589.03,429.80 L587.62,429.77 L587.46,429.77 L585.88,429.69 L584.30,429.43 L582.72,428.71 L582.02,428.14 L581.14,426.96 L580.82,426.51 L580.51,424.87 L580.95,423.24 L581.14,422.86 L581.53,421.61 L582.72,419.98 L582.72,419.98 L584.30,418.68 L585.37,418.35 L585.88,418.09 L587.46,417.67 L589.03,417.17 L589.51,416.71 L590.61,415.33 L590.76,415.08 L592.19,413.69 L592.61,413.45 L593.77,412.68 L595.34,412.20 L596.92,412.03 L598.50,411.98 L600.08,411.99 L601.66,412.01 L603.23,412.04 L604.81,412.21 L606.39,412.71 L607.43,413.45 L607.97,413.95 L608.89,415.08 L609.11,416.71 L608.37,418.35 L607.97,418.77 L606.52,419.98 L606.39,420.09 L604.81,421.54 L604.75,421.61 L603.23,423.15 L603.12,423.24 L601.66,424.45 L601.02,424.87 L600.08,425.73 L599.12,426.51 L598.50,427.02 L596.92,427.89 L596.22,428.14 L595.34,428.65 L593.77,429.27 L592.19,429.58 L590.61,429.73 L589.31,429.77 L589.03,429.80ZM636.16,403.65 L636.37,403.73 L637.94,403.83 L638.62,403.65 L639.52,403.59 L641.10,403.27 L642.68,402.17 L642.85,402.02 L644.22,400.39 L644.26,400.25 L644.95,398.76 L644.80,397.13 L644.26,396.20 L644.03,395.49 L642.68,393.91 L642.64,393.86 L641.10,392.42 L640.72,392.23 L639.52,391.34 L637.94,390.84 L636.37,390.69 L634.79,390.68 L633.21,390.81 L631.63,391.26 L630.35,392.23 L630.06,392.44 L628.72,393.86 L628.48,394.68 L628.05,395.49 L628.09,397.13 L628.48,397.86 L628.71,398.76 L630.06,400.39 L630.06,400.39 L631.63,401.91 L631.83,402.02 L633.21,403.08 L634.79,403.52 L636.16,403.65ZM636.37,402.47 L635.17,402.02 L634.79,401.95 L633.21,401.30 L632.13,400.39 L631.63,399.89 L630.64,398.76 L630.07,397.13 L630.07,395.49 L630.88,393.86 L631.63,393.18 L633.21,392.41 L634.42,392.23 L634.79,392.11 L636.37,392.14 L636.63,392.23 L637.94,392.43 L639.52,393.09 L640.47,393.86 L641.10,394.42 L642.09,395.49 L642.68,396.90 L642.81,397.13 L642.97,398.76 L642.68,399.30 L642.23,400.39 L641.10,401.43 L639.64,402.02 L639.52,402.09 L637.94,402.54 L636.37,402.47Z" fill="#F8766D" fill-opacity="0.162" fill-rule="evenodd"/><path d="M587.62,429.77 L589.03,429.80 L589.31,429.77 L590.61,429.73 L592.19,429.58 L593.77,429.27 L595.34,428.65 L596.22,428.14 L596.92,427.89 L598.50,427.02 L599.12,426.51 L600.08,425.73 L601.02,424.87 L601.66,424.45 L603.12,423.24 L603.23,423.15 L604.75,421.61 L604.81,421.54 L606.39,420.09 L606.52,419.98 L607.97,418.77 L608.37,418.35 L609.11,416.71 L608.89,415.08 L607.97,413.95 L607.43,413.45 L606.39,412.71 L604.81,412.21 L603.23,412.04 L601.66,412.01 L600.08,411.99 L598.50,411.98 L596.92,412.03 L595.34,412.20 L593.77,412.68 L592.61,413.45 L592.19,413.69 L590.76,415.08 L590.61,415.33 L589.51,416.71 L589.03,417.17 L587.46,417.67 L585.88,418.09 L585.37,418.35 L584.30,418.68 L582.72,419.98 L582.72,419.98 L581.53,421.61 L581.14,422.86 L580.95,423.24 L580.51,424.87 L580.82,426.51 L581.14,426.96 L582.02,428.14 L582.72,428.71 L584.30,429.43 L585.88,429.69 L587.46,429.77 L587.62,429.77ZM587.46,428.33 L586.38,428.14 L585.88,428.07 L584.30,427.48 L583.20,426.51 L582.75,424.87 L583.07,423.24 L583.84,421.61 L584.30,421.08 L585.88,419.98 L585.88,419.98 L587.46,419.55 L589.03,419.46 L590.61,418.87 L590.95,418.35 L591.80,416.71 L592.19,416.19 L593.08,415.08 L593.77,414.53 L595.34,413.81 L596.92,413.53 L598.50,413.47 L600.08,413.52 L601.66,413.59 L603.23,413.71 L604.81,414.09 L606.26,415.08 L606.39,415.49 L606.74,416.71 L606.39,417.27 L605.62,418.35 L604.81,419.02 L603.67,419.98 L603.23,420.45 L602.26,421.61 L601.66,422.16 L600.08,423.23 L600.06,423.24 L598.50,424.56 L598.16,424.87 L596.92,425.89 L595.84,426.51 L595.34,426.80 L593.77,427.48 L592.19,427.93 L590.97,428.14 L590.61,428.23 L589.03,428.37 L587.46,428.33ZM635.17,402.02 L636.37,402.47 L637.94,402.54 L639.52,402.09 L639.64,402.02 L641.10,401.43 L642.23,400.39 L642.68,399.30 L642.97,398.76 L642.81,397.13 L642.68,396.90 L642.09,395.49 L641.10,394.42 L640.47,393.86 L639.52,393.09 L637.94,392.43 L636.63,392.23 L636.37,392.14 L634.79,392.11 L634.42,392.23 L633.21,392.41 L631.63,393.18 L630.88,393.86 L630.07,395.49 L630.07,397.13 L630.64,398.76 L631.63,399.89 L632.13,400.39 L633.21,401.30 L634.79,401.95 L635.17,402.02ZM636.37,400.78 L635.40,400.39 L634.79,400.17 L633.21,398.97 L633.00,398.76 L632.08,397.13 L632.24,395.49 L633.21,394.45 L634.56,393.86 L634.79,393.77 L636.37,393.74 L636.69,393.86 L637.94,394.22 L639.52,395.36 L639.66,395.49 L640.73,397.13 L640.75,398.76 L639.52,400.17 L639.05,400.39 L637.94,400.81 L636.37,400.78Z" fill="#F8766D" fill-opacity="0.43" fill-rule="evenodd"/><path d="M586.38,428.14 L587.46,428.33 L589.03,428.37 L590.61,428.23 L590.97,428.14 L592.19,427.93 L593.77,427.48 L595.34,426.80 L595.84,426.51 L596.92,425.89 L598.16,424.87 L598.50,424.56 L600.06,423.24 L600.08,423.23 L601.66,422.16 L602.26,421.61 L603.23,420.45 L603.67,419.98 L604.81,419.02 L605.62,418.35 L606.39,417.27 L606.74,416.71 L606.39,415.49 L606.26,415.08 L604.81,414.09 L603.23,413.71 L601.66,413.59 L600.08,413.52 L598.50,413.47 L596.92,413.53 L595.34,413.81 L593.77,414.53 L593.08,415.08 L592.19,416.19 L591.80,416.71 L590.95,418.35 L590.61,418.87 L589.03,419.46 L587.46,419.55 L585.88,419.98 L585.88,419.98 L584.30,421.08 L583.84,421.61 L583.07,423.24 L582.75,424.87 L583.20,426.51 L584.30,427.48 L585.88,428.07 L586.38,428.14ZM587.46,426.73 L586.60,426.51 L585.88,426.11 L585.00,424.87 L585.37,423.24 L585.88,422.52 L587.38,421.61 L587.46,421.58 L587.72,421.61 L589.03,421.79 L590.61,422.19 L592.19,421.80 L592.37,421.61 L592.78,419.98 L593.04,418.35 L593.74,416.71 L593.77,416.69 L595.34,415.33 L596.00,415.08 L596.92,414.79 L598.50,414.71 L600.08,414.90 L601.22,415.08 L601.66,415.21 L603.23,416.02 L603.82,416.71 L603.23,417.37 L602.51,418.35 L601.66,419.31 L601.17,419.98 L600.08,421.10 L599.35,421.61 L598.50,422.16 L596.92,423.21 L596.88,423.24 L595.34,424.57 L594.97,424.87 L593.77,425.45 L592.19,426.10 L591.15,426.51 L590.61,426.64 L589.03,426.79 L587.46,426.73ZM635.40,400.39 L636.37,400.78 L637.94,400.81 L639.05,400.39 L639.52,400.17 L640.75,398.76 L640.73,397.13 L639.66,395.49 L639.52,395.36 L637.94,394.22 L636.69,393.86 L636.37,393.74 L634.79,393.77 L634.56,393.86 L633.21,394.45 L632.24,395.49 L632.08,397.13 L633.00,398.76 L633.21,398.97 L634.79,400.17 L635.40,400.39ZM636.37,398.95 L635.95,398.76 L634.79,397.77 L634.35,397.13 L634.79,396.09 L636.37,395.49 L636.37,395.49 L636.37,395.49 L637.94,396.50 L638.46,397.13 L638.02,398.76 L637.94,398.81 L636.37,398.95Z" fill="#F8766D" fill-opacity="0.72" fill-rule="evenodd"/><path d="M586.60,426.51 L587.46,426.73 L589.03,426.79 L590.61,426.64 L591.15,426.51 L592.19,426.10 L593.77,425.45 L594.97,424.87 L595.34,424.57 L596.88,423.24 L596.92,423.21 L598.50,422.16 L599.35,421.61 L600.08,421.10 L601.17,419.98 L601.66,419.31 L602.51,418.35 L603.23,417.37 L603.82,416.71 L603.23,416.02 L601.66,415.21 L601.22,415.08 L600.08,414.90 L598.50,414.71 L596.92,414.79 L596.00,415.08 L595.34,415.33 L593.77,416.69 L593.74,416.71 L593.04,418.35 L592.78,419.98 L592.37,421.61 L592.19,421.80 L590.61,422.19 L589.03,421.79 L587.72,421.61 L587.46,421.58 L587.38,421.61 L585.88,422.52 L585.37,423.24 L585.00,424.87 L585.88,426.11 L586.60,426.51ZM635.95,398.76 L636.37,398.95 L637.94,398.81 L638.02,398.76 L638.46,397.13 L637.94,396.50 L636.37,395.49 L636.37,395.49 L636.37,395.49 L634.79,396.09 L634.35,397.13 L634.79,397.77 L635.95,398.76Z" fill="#F8766D" fill-opacity="1.0" fill-rule="evenodd"/><path d="M596.26,491.80 L596.92,491.80 L598.50,491.80 L599.09,491.80 L599.13,490.17 L599.24,488.54 L599.44,486.90 L599.74,485.27 L600.08,483.99 L600.15,483.64 L600.60,482.01 L601.22,480.37 L601.66,479.49 L602.05,478.74 L603.14,477.11 L603.23,476.98 L604.79,475.48 L604.81,475.46 L606.39,474.58 L607.97,474.28 L609.54,474.29 L611.12,474.29 L612.51,473.84 L612.70,473.76 L613.89,472.21 L614.28,471.35 L614.48,470.58 L614.61,468.95 L614.50,467.32 L614.28,466.06 L614.20,465.68 L613.75,464.05 L613.33,462.42 L612.98,460.79 L612.71,459.15 L612.70,459.07 L612.42,457.52 L612.23,455.89 L612.12,454.26 L612.08,452.62 L612.13,450.99 L612.26,449.36 L612.49,447.73 L612.70,446.69 L612.79,446.09 L613.13,444.46 L613.62,442.83 L614.28,441.25 L614.30,441.20 L615.09,439.57 L615.86,438.39 L616.24,437.93 L617.43,436.68 L618.10,436.30 L619.01,435.76 L620.59,435.52 L622.17,435.92 L622.73,436.30 L623.74,436.98 L624.60,437.93 L625.32,438.86 L625.77,439.57 L626.65,441.20 L626.90,441.76 L627.44,442.83 L628.14,444.46 L628.48,445.30 L629.00,446.09 L630.06,447.44 L630.77,447.73 L631.63,447.96 L633.21,447.96 L634.79,448.03 L636.37,448.42 L637.94,449.36 L637.94,449.36 L639.52,450.83 L639.66,450.99 L640.83,452.62 L641.10,453.10 L641.76,454.26 L642.43,455.89 L642.68,456.71 L643.00,457.52 L643.47,459.15 L643.79,460.79 L644.00,462.42 L644.15,464.05 L644.24,465.68 L644.26,466.49 L644.29,467.32 L644.29,468.95 L644.26,469.56 L644.23,470.58 L644.14,472.21 L644.01,473.84 L643.83,475.48 L643.60,477.11 L643.31,478.74 L642.96,480.37 L642.68,481.51 L642.60,482.01 L642.34,483.64 L642.05,485.27 L641.75,486.90 L641.42,488.54 L641.10,489.96 L641.07,490.17 L640.84,491.80 L641.10,491.80 L642.68,491.80 L643.48,491.80 L643.76,490.17 L644.00,488.54 L644.23,486.90 L644.26,486.71 L644.63,485.27 L645.00,483.64 L645.32,482.01 L645.59,480.37 L645.80,478.74 L645.83,478.50 L646.14,477.11 L646.43,475.48 L646.65,473.84 L646.82,472.21 L646.95,470.58 L647.06,468.95 L647.15,467.32 L647.26,465.68 L647.41,464.22 L647.52,464.05 L648.99,463.31 L650.01,464.05 L650.57,464.39 L652.14,465.41 L652.84,465.68 L653.72,466.08 L655.30,466.32 L655.30,465.68 L655.30,464.05 L655.30,462.42 L655.30,460.79 L655.30,460.47 L653.72,460.17 L652.14,459.15 L652.14,459.15 L650.66,457.52 L650.57,457.41 L649.60,455.89 L648.99,454.51 L648.87,454.26 L648.23,452.62 L647.80,450.99 L647.51,449.36 L647.41,448.55 L647.27,447.73 L647.08,446.09 L646.99,444.46 L646.99,442.83 L647.06,441.20 L647.23,439.57 L647.41,438.45 L647.47,437.93 L647.74,436.30 L648.13,434.67 L648.67,433.04 L648.99,432.29 L649.35,431.40 L650.23,429.77 L650.57,429.25 L651.48,428.14 L652.14,427.43 L653.67,426.51 L653.72,426.47 L655.30,426.13 L655.30,424.87 L655.30,423.24 L655.30,421.61 L655.30,420.31 L653.72,420.53 L652.14,421.27 L651.73,421.61 L650.57,422.52 L649.93,423.24 L648.99,424.46 L648.70,424.87 L647.75,426.51 L647.41,427.25 L646.96,428.14 L646.32,429.77 L645.87,431.40 L645.83,431.56 L645.35,433.04 L644.96,434.67 L644.68,436.30 L644.48,437.93 L644.33,439.57 L644.26,440.56 L644.16,441.20 L643.94,442.83 L643.68,444.46 L643.23,446.09 L642.68,446.96 L641.11,446.09 L641.10,446.09 L639.52,444.79 L639.00,444.46 L637.94,443.76 L636.37,443.11 L635.07,442.83 L634.79,442.75 L633.21,442.39 L631.63,441.65 L631.22,441.20 L630.06,439.74 L629.97,439.57 L629.18,437.93 L628.48,436.74 L628.26,436.30 L627.31,434.67 L626.90,434.07 L626.13,433.04 L625.32,432.10 L624.50,431.40 L623.74,430.77 L622.17,430.01 L620.67,429.77 L620.59,429.75 L620.46,429.77 L619.01,429.91 L617.43,430.53 L616.32,431.40 L615.86,431.76 L614.70,433.04 L614.28,433.58 L613.53,434.67 L612.70,436.30 L612.70,436.30 L611.88,437.93 L611.32,439.57 L611.12,440.32 L610.80,441.20 L610.34,442.83 L610.01,444.46 L609.78,446.09 L609.62,447.73 L609.54,448.88 L609.49,449.36 L609.37,450.99 L609.32,452.62 L609.34,454.26 L609.43,455.89 L609.54,457.08 L609.57,457.52 L609.68,459.15 L609.81,460.79 L609.95,462.42 L610.05,464.05 L609.96,465.68 L609.54,467.02 L609.30,467.32 L607.97,468.07 L606.39,468.65 L605.80,468.95 L604.81,469.35 L603.23,470.52 L603.17,470.58 L601.66,472.21 L601.66,472.21 L600.50,473.84 L600.08,474.61 L599.59,475.48 L598.87,477.11 L598.50,478.26 L598.30,478.74 L597.74,480.37 L597.34,482.01 L597.06,483.64 L596.92,484.75 L596.81,485.27 L596.55,486.90 L596.38,488.54 L596.29,490.17 L596.26,491.80Z" fill="#00BFC4" fill-opacity="0.162" fill-rule="evenodd"/><path d="M599.09,491.80 L600.08,491.80 L601.66,491.80 L602.93,491.80 L603.00,490.17 L603.22,488.54 L603.23,488.46 L603.62,486.90 L604.23,485.27 L604.81,484.15 L605.24,483.64 L606.39,482.52 L607.97,482.01 L609.54,482.17 L611.12,482.55 L612.70,482.44 L613.29,482.01 L614.28,481.31 L614.98,480.37 L615.86,479.27 L616.16,478.74 L617.12,477.11 L617.43,476.54 L617.91,475.48 L618.59,473.84 L619.01,472.67 L619.16,472.21 L619.56,470.58 L619.83,468.95 L619.92,467.32 L619.73,465.68 L619.17,464.05 L619.01,463.77 L618.40,462.42 L617.60,460.79 L617.43,460.43 L616.97,459.15 L616.50,457.52 L616.17,455.89 L615.99,454.26 L615.94,452.62 L616.02,450.99 L616.26,449.36 L616.67,447.73 L617.29,446.09 L617.43,445.80 L618.46,444.46 L619.01,443.89 L620.59,443.43 L622.17,444.15 L622.44,444.46 L623.61,446.09 L623.74,446.34 L624.33,447.73 L624.86,449.36 L625.27,450.99 L625.32,451.23 L625.69,452.62 L626.18,454.26 L626.90,455.80 L627.14,455.89 L628.48,456.15 L629.05,455.89 L630.06,455.50 L631.63,454.73 L633.21,454.26 L633.22,454.26 L634.79,454.22 L634.88,454.26 L636.37,454.79 L637.63,455.89 L637.94,456.19 L638.85,457.52 L639.52,458.81 L639.68,459.15 L640.29,460.79 L640.71,462.42 L641.00,464.05 L641.10,464.93 L641.21,465.68 L641.34,467.32 L641.37,468.95 L641.33,470.58 L641.20,472.21 L641.10,473.00 L641.02,473.84 L640.82,475.48 L640.57,477.11 L640.28,478.74 L639.95,480.37 L639.60,482.01 L639.52,482.34 L639.31,483.64 L639.04,485.27 L638.76,486.90 L638.47,488.54 L638.14,490.17 L637.94,491.04 L637.81,491.80 L637.94,491.80 L639.52,491.80 L640.84,491.80 L641.07,490.17 L641.10,489.96 L641.42,488.54 L641.75,486.90 L642.05,485.27 L642.34,483.64 L642.60,482.01 L642.68,481.51 L642.96,480.37 L643.31,478.74 L643.60,477.11 L643.83,475.48 L644.01,473.84 L644.14,472.21 L644.23,470.58 L644.26,469.56 L644.29,468.95 L644.29,467.32 L644.26,466.49 L644.24,465.68 L644.15,464.05 L644.00,462.42 L643.79,460.79 L643.47,459.15 L643.00,457.52 L642.68,456.71 L642.43,455.89 L641.76,454.26 L641.10,453.10 L640.83,452.62 L639.66,450.99 L639.52,450.83 L637.94,449.36 L637.94,449.36 L636.37,448.42 L634.79,448.03 L633.21,447.96 L631.63,447.96 L630.77,447.73 L630.06,447.44 L629.00,446.09 L628.48,445.30 L628.14,444.46 L627.44,442.83 L626.90,441.76 L626.65,441.20 L625.77,439.57 L625.32,438.86 L624.60,437.93 L623.74,436.98 L622.73,436.30 L622.17,435.92 L620.59,435.52 L619.01,435.76 L618.10,436.30 L617.43,436.68 L616.24,437.93 L615.86,438.39 L615.09,439.57 L614.30,441.20 L614.28,441.25 L613.62,442.83 L613.13,444.46 L612.79,446.09 L612.70,446.69 L612.49,447.73 L612.26,449.36 L612.13,450.99 L612.08,452.62 L612.12,454.26 L612.23,455.89 L612.42,457.52 L612.70,459.07 L612.71,459.15 L612.98,460.79 L613.33,462.42 L613.75,464.05 L614.20,465.68 L614.28,466.06 L614.50,467.32 L614.61,468.95 L614.48,470.58 L614.28,471.35 L613.89,472.21 L612.70,473.76 L612.51,473.84 L611.12,474.29 L609.54,474.29 L607.97,474.28 L606.39,474.58 L604.81,475.46 L604.79,475.48 L603.23,476.98 L603.14,477.11 L602.05,478.74 L601.66,479.49 L601.22,480.37 L600.60,482.01 L600.15,483.64 L600.08,483.99 L599.74,485.27 L599.44,486.90 L599.24,488.54 L599.13,490.17 L599.09,491.80ZM652.14,459.15 L652.14,459.15 L653.72,460.17 L655.30,460.47 L655.30,459.15 L655.30,457.52 L655.30,455.89 L655.30,454.26 L655.30,452.62 L655.30,452.56 L653.72,451.95 L652.91,450.99 L652.14,449.81 L651.95,449.36 L651.41,447.73 L651.07,446.09 L650.90,444.46 L650.87,442.83 L650.98,441.20 L651.25,439.57 L651.70,437.93 L652.14,436.80 L652.43,436.30 L653.70,434.67 L653.72,434.64 L655.30,434.04 L655.30,433.04 L655.30,431.40 L655.30,429.77 L655.30,428.14 L655.30,426.51 L655.30,426.13 L653.72,426.47 L653.67,426.51 L652.14,427.43 L651.48,428.14 L650.57,429.25 L650.23,429.77 L649.35,431.40 L648.99,432.29 L648.67,433.04 L648.13,434.67 L647.74,436.30 L647.47,437.93 L647.41,438.45 L647.23,439.57 L647.06,441.20 L646.99,442.83 L646.99,444.46 L647.08,446.09 L647.27,447.73 L647.41,448.55 L647.51,449.36 L647.80,450.99 L648.23,452.62 L648.87,454.26 L648.99,454.51 L649.60,455.89 L650.57,457.41 L650.66,457.52 L652.14,459.15Z" fill="#00BFC4" fill-opacity="0.43" fill-rule="evenodd"/><path d="M602.93,491.80 L603.23,491.80 L604.81,491.80 L606.39,491.80 L607.97,491.80 L609.54,491.80 L611.12,491.80 L612.70,491.80 L614.28,491.80 L615.86,491.80 L616.47,491.80 L616.52,490.17 L616.78,488.54 L617.26,486.90 L617.43,486.48 L617.87,485.27 L618.59,483.64 L619.01,482.80 L619.39,482.01 L620.18,480.37 L620.59,479.56 L620.97,478.74 L621.72,477.11 L622.17,476.15 L622.47,475.48 L623.23,473.84 L623.74,472.77 L624.03,472.21 L624.90,470.58 L625.32,469.84 L625.84,468.95 L626.90,467.32 L626.90,467.32 L627.95,465.68 L628.48,464.96 L629.12,464.05 L630.06,462.88 L630.49,462.42 L631.63,461.32 L632.64,460.79 L633.21,460.49 L634.79,460.54 L635.14,460.79 L636.37,461.78 L636.76,462.42 L637.51,464.05 L637.94,465.48 L637.99,465.68 L638.25,467.32 L638.37,468.95 L638.38,470.58 L638.29,472.21 L638.11,473.84 L637.94,474.95 L637.87,475.48 L637.60,477.11 L637.30,478.74 L637.01,480.37 L636.71,482.01 L636.42,483.64 L636.37,483.91 L636.14,485.27 L635.86,486.90 L635.55,488.54 L635.20,490.17 L634.79,491.70 L634.76,491.80 L634.79,491.80 L636.37,491.80 L637.81,491.80 L637.94,491.04 L638.14,490.17 L638.47,488.54 L638.76,486.90 L639.04,485.27 L639.31,483.64 L639.52,482.34 L639.60,482.01 L639.95,480.37 L640.28,478.74 L640.57,477.11 L640.82,475.48 L641.02,473.84 L641.10,473.00 L641.20,472.21 L641.33,470.58 L641.37,468.95 L641.34,467.32 L641.21,465.68 L641.10,464.93 L641.00,464.05 L640.71,462.42 L640.29,460.79 L639.68,459.15 L639.52,458.81 L638.85,457.52 L637.94,456.19 L637.63,455.89 L636.37,454.79 L634.88,454.26 L634.79,454.22 L633.22,454.26 L633.21,454.26 L631.63,454.73 L630.06,455.50 L629.05,455.89 L628.48,456.15 L627.14,455.89 L626.90,455.80 L626.18,454.26 L625.69,452.62 L625.32,451.23 L625.27,450.99 L624.86,449.36 L624.33,447.73 L623.74,446.34 L623.61,446.09 L622.44,444.46 L622.17,444.15 L620.59,443.43 L619.01,443.89 L618.46,444.46 L617.43,445.80 L617.29,446.09 L616.67,447.73 L616.26,449.36 L616.02,450.99 L615.94,452.62 L615.99,454.26 L616.17,455.89 L616.50,457.52 L616.97,459.15 L617.43,460.43 L617.60,460.79 L618.40,462.42 L619.01,463.77 L619.17,464.05 L619.73,465.68 L619.92,467.32 L619.83,468.95 L619.56,470.58 L619.16,472.21 L619.01,472.67 L618.59,473.84 L617.91,475.48 L617.43,476.54 L617.12,477.11 L616.16,478.74 L615.86,479.27 L614.98,480.37 L614.28,481.31 L613.29,482.01 L612.70,482.44 L611.12,482.55 L609.54,482.17 L607.97,482.01 L606.39,482.52 L605.24,483.64 L604.81,484.15 L604.23,485.27 L603.62,486.90 L603.23,488.46 L603.22,488.54 L603.00,490.17 L602.93,491.80ZM652.91,450.99 L653.72,451.95 L655.30,452.56 L655.30,450.99 L655.30,449.36 L655.30,447.73 L655.30,446.09 L655.30,444.46 L655.30,442.83 L655.30,441.20 L655.30,439.57 L655.30,437.93 L655.30,436.30 L655.30,434.67 L655.30,434.04 L653.72,434.64 L653.70,434.67 L652.43,436.30 L652.14,436.80 L651.70,437.93 L651.25,439.57 L650.98,441.20 L650.87,442.83 L650.90,444.46 L651.07,446.09 L651.41,447.73 L651.95,449.36 L652.14,449.81 L652.91,450.99Z" fill="#00BFC4" fill-opacity="0.72" fill-rule="evenodd"/><path d="M616.47,491.80 L617.43,491.80 L619.01,491.80 L620.59,491.80 L622.17,491.80 L623.74,491.80 L625.32,491.80 L626.90,491.80 L628.48,491.80 L630.06,491.80 L631.63,491.80 L633.21,491.80 L634.76,491.80 L634.79,491.70 L635.20,490.17 L635.55,488.54 L635.86,486.90 L636.14,485.27 L636.37,483.91 L636.42,483.64 L636.71,482.01 L637.01,480.37 L637.30,478.74 L637.60,477.11 L637.87,475.48 L637.94,474.95 L638.11,473.84 L638.29,472.21 L638.38,470.58 L638.37,468.95 L638.25,467.32 L637.99,465.68 L637.94,465.48 L637.51,464.05 L636.76,462.42 L636.37,461.78 L635.14,460.79 L634.79,460.54 L633.21,460.49 L632.64,460.79 L631.63,461.32 L630.49,462.42 L630.06,462.88 L629.12,464.05 L628.48,464.96 L627.95,465.68 L626.90,467.32 L626.90,467.32 L625.84,468.95 L625.32,469.84 L624.90,470.58 L624.03,472.21 L623.74,472.77 L623.23,473.84 L622.47,475.48 L622.17,476.15 L621.72,477.11 L620.97,478.74 L620.59,479.56 L620.18,480.37 L619.39,482.01 L619.01,482.80 L618.59,483.64 L617.87,485.27 L617.43,486.48 L617.26,486.90 L616.78,488.54 L616.52,490.17 L616.47,491.80Z" fill="#00BFC4" fill-opacity="1.0" fill-rule="evenodd"/>
<ellipse cx="635.4" cy="396.1" rx="2.2" ry="1.85" fill="#F8766D" stroke="#000" stroke-width="0.75"/><ellipse cx="637.5" cy="398.4" rx="2.2" ry="1.85" fill="#F8766D" stroke="#000" stroke-width="0.75"/><ellipse cx="603.7" cy="416.3" rx="2.2" ry="1.85" fill="#F8766D" stroke="#000" stroke-width="0.75"/><ellipse cx="596.0" cy="416.8" rx="2.2" ry="1.85" fill="#F8766D" stroke="#000" stroke-width="0.75"/><ellipse cx="598.8" cy="416.6" rx="2.2" ry="1.85" fill="#F8766D" stroke="#000" stroke-width="0.75"/><ellipse cx="594.9" cy="419.8" rx="2.2" ry="1.85" fill="#F8766D" stroke="#000" stroke-width="0.75"/><ellipse cx="599.3" cy="420.3" rx="2.2" ry="1.85" fill="#F8766D" stroke="#000" stroke-width="0.75"/><ellipse cx="594.9" cy="423.8" rx="2.2" ry="1.85" fill="#F8766D" stroke="#000" stroke-width="0.75"/><ellipse cx="587.4" cy="422.0" rx="2.2" ry="1.85" fill="#F8766D" stroke="#000" stroke-width="0.75"/><ellipse cx="586.1" cy="425.5" rx="2.2" ry="1.85" fill="#F8766D" stroke="#000" stroke-width="0.75"/><ellipse cx="590.7" cy="425.5" rx="2.2" ry="1.85" fill="#F8766D" stroke="#000" stroke-width="0.75"/><ellipse cx="655.3" cy="443.3" rx="2.2" ry="1.85" fill="#00BFC4" stroke="#000" stroke-width="0.75"/><ellipse cx="620.4" cy="452.7" rx="2.2" ry="1.85" fill="#00BFC4" stroke="#000" stroke-width="0.75"/><ellipse cx="635.4" cy="467.1" rx="2.2" ry="1.85" fill="#00BFC4" stroke="#000" stroke-width="0.75"/><ellipse cx="632.9" cy="470.4" rx="2.2" ry="1.85" fill="#00BFC4" stroke="#000" stroke-width="0.75"/><ellipse cx="625.8" cy="477.8" rx="2.2" ry="1.85" fill="#00BFC4" stroke="#000" stroke-width="0.75"/><ellipse cx="631.4" cy="484.2" rx="2.2" ry="1.85" fill="#00BFC4" stroke="#000" stroke-width="0.75"/><ellipse cx="607.4" cy="491.8" rx="2.2" ry="1.85" fill="#00BFC4" stroke="#000" stroke-width="0.75"/><ellipse cx="618.6" cy="491.8" rx="2.2" ry="1.85" fill="#00BFC4" stroke="#000" stroke-width="0.75"/><ellipse cx="623.6" cy="491.8" rx="2.2" ry="1.85" fill="#00BFC4" stroke="#000" stroke-width="0.75"/><ellipse cx="630.4" cy="491.8" rx="2.2" ry="1.85" fill="#00BFC4" stroke="#000" stroke-width="0.75"/>
<text x="499.25" y="312.9" font-family="Liberation Sans" font-size="22" font-weight="bold" text-anchor="middle" fill="#000" >d</text><text transform="translate(539.61,314.0) scale(1,1.0)" x="0" y="0" font-family="Liberation Sans" font-size="17.75" fill="#000">Individual #3</text><path transform="translate(475.29,335.70) scale(0.007568,-0.007568)" d="M763,0 L583,0 L583,1147 Q518,1085 412,1023 Q306,961 222,930 L222,1104 Q373,1175 486,1276 Q599,1377 646,1472 L763,1472 Z" fill="#000"/><rect x="485.1" y="329.45" width="5.30" height="1.3" fill="#000"/><path transform="translate(467.86,496.50) scale(0.007568,-0.007568)" d="M91,442 L91,622 L591,622 L591,442 Z" fill="#000"/><path transform="translate(473.02,496.50) scale(0.007568,-0.007568)" d="M763,0 L583,0 L583,1147 Q518,1085 412,1023 Q306,961 222,930 L222,1104 Q373,1175 486,1276 Q599,1377 646,1472 L763,1472 Z" fill="#000"/><rect x="485.2" y="490.25" width="5.10" height="1.3" fill="#000"/><path transform="translate(489.76,524.50) scale(0.007568,-0.007568)" d="M91,442 L91,622 L591,622 L591,442 Z" fill="#000"/><path transform="translate(494.92,524.50) scale(0.007568,-0.007568)" d="M763,0 L583,0 L583,1147 Q518,1085 412,1023 Q306,961 222,930 L222,1104 Q373,1175 486,1276 Q599,1377 646,1472 L763,1472 Z" fill="#000"/><rect x="496.65" y="501.6" width="1.5" height="4.40" fill="#000"/><path transform="translate(648.14,523.50) scale(0.007568,-0.007568)" d="M763,0 L583,0 L583,1147 Q518,1085 412,1023 Q306,961 222,930 L222,1104 Q373,1175 486,1276 Q599,1377 646,1472 L763,1472 Z" fill="#000"/><rect x="652.55" y="501.0" width="1.5" height="4.70" fill="#000"/><g transform="translate(546.05,525.90)"><text transform="translate(3.25,0) scale(1.0,1)" font-family="Liberation Serif" font-size="14.2" text-anchor="middle" fill="#000">z</text><text transform="translate(13.55,-4.9) scale(1.05,1)" font-family="Liberation Serif" font-size="9.6" text-anchor="middle" fill="#000">(3)</text><text transform="translate(24.4,0) scale(1.15,1)" font-family="Liberation Serif" font-size="14.2" text-anchor="middle" fill="#000">μ</text><text transform="translate(38.0,0) scale(1.0,1)" font-family="Liberation Serif" font-size="14.2" text-anchor="middle" fill="#000">#</text><text transform="translate(46.9,0) scale(1.2,1)" font-family="Liberation Serif" font-size="14.2" text-anchor="middle" fill="#000">1</text></g><g transform="translate(477.60,416.40) rotate(-90) translate(-25.2,0)"><text transform="translate(3.25,0) scale(1.0,1)" font-family="Liberation Serif" font-size="14.2" text-anchor="middle" fill="#000">z</text><text transform="translate(13.55,-4.9) scale(1.05,1)" font-family="Liberation Serif" font-size="9.6" text-anchor="middle" fill="#000">(3)</text><text transform="translate(24.4,0) scale(1.15,1)" font-family="Liberation Serif" font-size="14.2" text-anchor="middle" fill="#000">μ</text><text transform="translate(38.0,0) scale(1.0,1)" font-family="Liberation Serif" font-size="14.2" text-anchor="middle" fill="#000">#</text><text transform="translate(46.9,0) scale(1.2,1)" font-family="Liberation Serif" font-size="14.2" text-anchor="middle" fill="#000">2</text></g>
<rect x="280.7" y="55.3" width="19" height="19" fill="#F8766D"/><circle cx="290.2" cy="64.8" r="2.3" fill="#F8766D" stroke="#000" stroke-width="0.8"/><rect x="280.7" y="76.3" width="19" height="19" fill="#00BFC4"/><circle cx="290.2" cy="85.8" r="2.3" fill="#00BFC4" stroke="#000" stroke-width="0.8"/><text transform="translate(304.2,70.5) scale(1,1.1)" x="0" y="0" font-family="Liberation Sans" font-size="15.5" font-weight="normal" text-anchor="start" fill="#000" >Anesthetized</text><text transform="translate(304.2,92.7) scale(1,1.1)" x="0" y="0" font-family="Liberation Sans" font-size="15.5" font-weight="normal" text-anchor="start" fill="#000" >Awake</text><text transform="translate(282.5,136.8) scale(1,1.1)" x="0" y="0" font-family="Liberation Sans" font-size="15.5" font-weight="normal" text-anchor="start" fill="#000" >Probability</text><rect x="283.8" y="144.6" width="19.1" height="18.7" fill="#DEDEDE"/><text x="310.3" y="157.9" font-family="Liberation Sans" font-size="10" font-weight="normal" text-anchor="start" fill="#222" >99%</text><rect x="283.8" y="165.2" width="19.1" height="18.7" fill="#A8A8A8"/><text x="310.3" y="178.6" font-family="Liberation Sans" font-size="10" font-weight="normal" text-anchor="start" fill="#222" >95%</text><rect x="283.8" y="186.0" width="19.1" height="18.7" fill="#6B6B6B"/><text x="310.3" y="199.2" font-family="Liberation Sans" font-size="10" font-weight="normal" text-anchor="start" fill="#222" >80%</text><rect x="283.8" y="206.6" width="19.1" height="18.7" fill="#333333"/><text x="310.3" y="219.6" font-family="Liberation Sans" font-size="10" font-weight="normal" text-anchor="start" fill="#222" >50%</text>
<path d="M16.5,283.7 L208.3,283.7 L218.05,251.3 L227.7,283.7 L668.4,283.7 A15.5,15.5 0 0 1 683.9,299.2 L683.9,526.0 A15.5,15.5 0 0 1 668.4,541.5 L16.5,541.5 A15.5,15.5 0 0 1 1.0,526.0 L1.0,299.2 A15.5,15.5 0 0 1 16.5,283.7 Z" fill="none" stroke="#A4A4A4" stroke-width="1.8" stroke-linejoin="miter"/>
</svg></body></html>
